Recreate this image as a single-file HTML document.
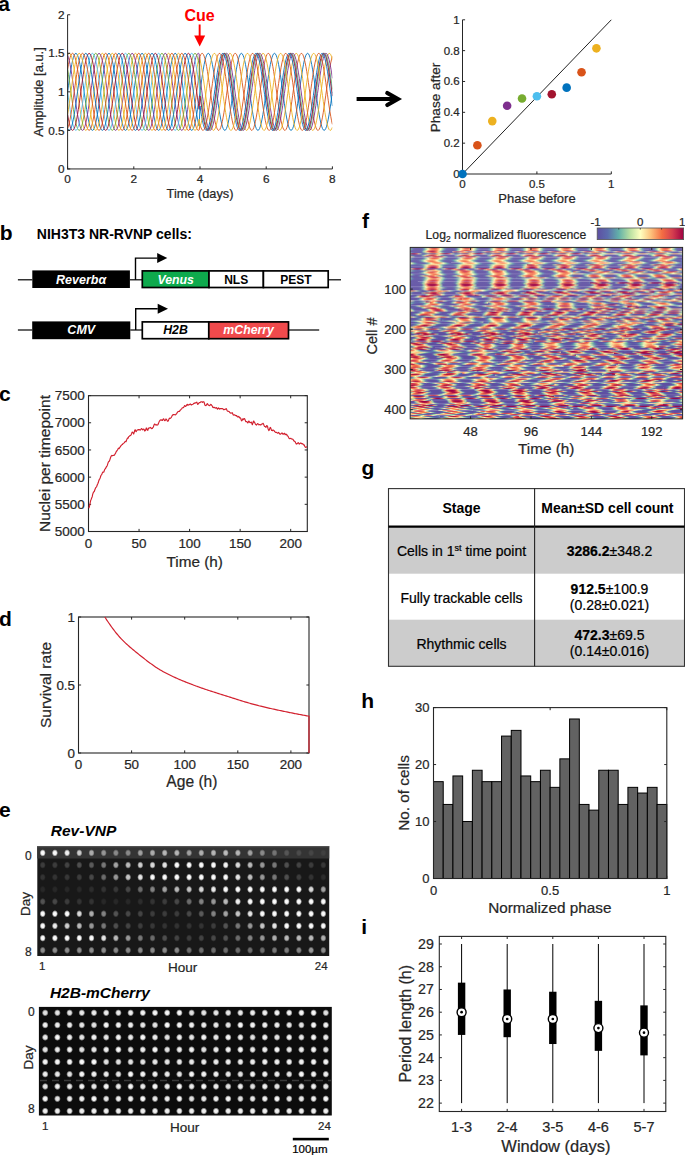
<!DOCTYPE html>
<html><head><meta charset="utf-8"><title>Figure</title>
<style>
html,body{margin:0;padding:0;background:#fff;}
body{width:685px;height:1156px;overflow:hidden;}
svg{display:block;font-family:"Liberation Sans", sans-serif;}
</style></head><body>
<svg width="685" height="1156" viewBox="0 0 685 1156" fill="#262626">
<defs>
<clipPath id="clipA"><rect x="67.4" y="0" width="265" height="175"/></clipPath>
<linearGradient id="ledge" x1="0" x2="1" y1="0" y2="0"><stop offset="0" stop-color="#c8304a" stop-opacity="0.45"/><stop offset="1" stop-color="#c8304a" stop-opacity="0"/></linearGradient>
<clipPath id="clipH"><rect x="410.2" y="247.4" width="272.4" height="171.5"/></clipPath>
<filter id="blur1" x="-50%" y="-50%" width="200%" height="200%"><feGaussianBlur stdDeviation="0.6"/></filter>
<radialGradient id="dot"><stop offset="0" stop-color="#fff"/><stop offset="0.5" stop-color="#fff" stop-opacity="0.95"/><stop offset="0.78" stop-color="#fff" stop-opacity="0.45"/><stop offset="1" stop-color="#fff" stop-opacity="0"/></radialGradient>
</defs>
<text x="-1.8" y="10.8" font-size="21" font-weight="bold" fill="#000">a</text>
<g clip-path="url(#clipA)">
<polyline points="67.6,91.85 68.43,85.82 69.25,79.94 70.08,74.35 70.91,69.19 71.74,64.59 72.56,60.66 73.39,57.5 74.22,55.19 75.05,53.77 75.88,53.3 76.7,53.77 77.53,55.19 78.36,57.5 79.18,60.66 80.01,64.59 80.84,69.19 81.67,74.35 82.49,79.94 83.32,85.82 84.15,91.85 84.98,97.88 85.8,103.76 86.63,109.35 87.46,114.51 88.29,119.11 89.11,123.04 89.94,126.2 90.77,128.51 91.6,129.93 92.42,130.4 93.25,129.93 94.08,128.51 94.91,126.2 95.73,123.04 96.56,119.11 97.39,114.51 98.22,109.35 99.04,103.76 99.87,97.88 100.7,91.85 101.53,85.82 102.35,79.94 103.18,74.35 104.01,69.19 104.84,64.59 105.66,60.66 106.49,57.5 107.32,55.19 108.15,53.77 108.97,53.3 109.8,53.77 110.63,55.19 111.46,57.5 112.28,60.66 113.11,64.59 113.94,69.19 114.77,74.35 115.59,79.94 116.42,85.82 117.25,91.85 118.08,97.88 118.91,103.76 119.73,109.35 120.56,114.51 121.39,119.11 122.22,123.04 123.04,126.2 123.87,128.51 124.7,129.93 125.53,130.4 126.35,129.93 127.18,128.51 128.01,126.2 128.84,123.04 129.66,119.11 130.49,114.51 131.32,109.35 132.14,103.76 132.97,97.88 133.8,91.85 134.63,85.82 135.45,79.94 136.28,74.35 137.11,69.19 137.94,64.59 138.76,60.66 139.59,57.5 140.42,55.19 141.25,53.77 142.07,53.3 142.9,53.77 143.73,55.19 144.56,57.5 145.38,60.66 146.21,64.59 147.04,69.19 147.87,74.35 148.69,79.94 149.52,85.82 150.35,91.85 151.18,97.88 152,103.76 152.83,109.35 153.66,114.51 154.49,119.11 155.31,123.04 156.14,126.2 156.97,128.51 157.8,129.93 158.62,130.4 159.45,129.93 160.28,128.51 161.11,126.2 161.94,123.04 162.76,119.11 163.59,114.51 164.42,109.35 165.25,103.76 166.07,97.88 166.9,91.85 167.73,85.82 168.56,79.94 169.38,74.35 170.21,69.19 171.04,64.59 171.87,60.66 172.69,57.5 173.52,55.19 174.35,53.77 175.18,53.3 176,53.77 176.83,55.19 177.66,57.5 178.49,60.66 179.31,64.59 180.14,69.19 180.97,74.35 181.8,79.94 182.62,85.82 183.45,91.85 184.28,97.88 185.1,103.76 185.93,109.35 186.76,114.51 187.59,119.11 188.41,123.04 189.24,126.2 190.07,128.51 190.9,129.93 191.72,130.4 192.55,129.93 193.38,128.51 194.21,126.2 195.03,123.04 195.86,119.11 196.69,114.51 197.52,109.35 198.34,103.76 199.17,97.88 200,91.85 200.83,85.82 201.66,79.94 202.48,74.35 203.31,69.19 204.14,64.59 204.97,60.66 205.79,57.5 206.62,55.19 207.45,53.77 208.28,53.3 209.1,53.77 209.93,55.19 210.76,57.5 211.58,60.66 212.41,64.59 213.24,69.19 214.07,74.35 214.9,79.94 215.72,85.82 216.55,91.85 217.38,97.88 218.2,103.76 219.03,109.35 219.86,114.51 220.69,119.11 221.52,123.04 222.34,126.2 223.17,128.51 224,129.93 224.82,130.4 225.65,129.93 226.48,128.51 227.31,126.2 228.13,123.04 228.96,119.11 229.79,114.51 230.62,109.35 231.44,103.76 232.27,97.88 233.1,91.85 233.93,85.82 234.75,79.94 235.58,74.35 236.41,69.19 237.24,64.59 238.07,60.66 238.89,57.5 239.72,55.19 240.55,53.77 241.38,53.3 242.2,53.77 243.03,55.19 243.86,57.5 244.69,60.66 245.51,64.59 246.34,69.19 247.17,74.35 248,79.94 248.82,85.82 249.65,91.85 250.48,97.88 251.31,103.76 252.13,109.35 252.96,114.51 253.79,119.11 254.62,123.04 255.44,126.2 256.27,128.51 257.1,129.93 257.93,130.4 258.75,129.93 259.58,128.51 260.41,126.2 261.24,123.04 262.06,119.11 262.89,114.51 263.72,109.35 264.55,103.76 265.37,97.88 266.2,91.85 267.03,85.82 267.86,79.94 268.68,74.35 269.51,69.19 270.34,64.59 271.17,60.66 271.99,57.5 272.82,55.19 273.65,53.77 274.48,53.3 275.3,53.77 276.13,55.19 276.96,57.5 277.78,60.66 278.61,64.59 279.44,69.19 280.27,74.35 281.1,79.94 281.92,85.82 282.75,91.85 283.58,97.88 284.4,103.76 285.23,109.35 286.06,114.51 286.89,119.11 287.72,123.04 288.54,126.2 289.37,128.51 290.2,129.93 291.02,130.4 291.85,129.93 292.68,128.51 293.51,126.2 294.33,123.04 295.16,119.11 295.99,114.51 296.82,109.35 297.64,103.76 298.47,97.88 299.3,91.85 300.13,85.82 300.96,79.94 301.78,74.35 302.61,69.19 303.44,64.59 304.26,60.66 305.09,57.5 305.92,55.19 306.75,53.77 307.58,53.3 308.4,53.77 309.23,55.19 310.06,57.5 310.88,60.66 311.71,64.59 312.54,69.19 313.37,74.35 314.2,79.94 315.02,85.82 315.85,91.85 316.68,97.88 317.5,103.76 318.33,109.35 319.16,114.51 319.99,119.11 320.82,123.04 321.64,126.2 322.47,128.51 323.3,129.93 324.12,130.4 324.95,129.93 325.78,128.51 326.61,126.2 327.43,123.04 328.26,119.11 329.09,114.51 329.92,109.35 330.75,103.76 331.57,97.88 332.4,91.85" fill="none" stroke="#0072BD" stroke-width="0.9" stroke-linejoin="round"/>
<polyline points="67.6,69.19 68.43,64.59 69.25,60.66 70.08,57.5 70.91,55.19 71.74,53.77 72.56,53.3 73.39,53.77 74.22,55.19 75.05,57.5 75.88,60.66 76.7,64.59 77.53,69.19 78.36,74.35 79.18,79.94 80.01,85.82 80.84,91.85 81.67,97.88 82.49,103.76 83.32,109.35 84.15,114.51 84.98,119.11 85.8,123.04 86.63,126.2 87.46,128.51 88.29,129.93 89.11,130.4 89.94,129.93 90.77,128.51 91.6,126.2 92.42,123.04 93.25,119.11 94.08,114.51 94.91,109.35 95.73,103.76 96.56,97.88 97.39,91.85 98.22,85.82 99.04,79.94 99.87,74.35 100.7,69.19 101.53,64.59 102.35,60.66 103.18,57.5 104.01,55.19 104.84,53.77 105.66,53.3 106.49,53.77 107.32,55.19 108.15,57.5 108.97,60.66 109.8,64.59 110.63,69.19 111.46,74.35 112.28,79.94 113.11,85.82 113.94,91.85 114.77,97.88 115.59,103.76 116.42,109.35 117.25,114.51 118.08,119.11 118.91,123.04 119.73,126.2 120.56,128.51 121.39,129.93 122.22,130.4 123.04,129.93 123.87,128.51 124.7,126.2 125.53,123.04 126.35,119.11 127.18,114.51 128.01,109.35 128.84,103.76 129.66,97.88 130.49,91.85 131.32,85.82 132.14,79.94 132.97,74.35 133.8,69.19 134.63,64.59 135.45,60.66 136.28,57.5 137.11,55.19 137.94,53.77 138.76,53.3 139.59,53.77 140.42,55.19 141.25,57.5 142.07,60.66 142.9,64.59 143.73,69.19 144.56,74.35 145.38,79.94 146.21,85.82 147.04,91.85 147.87,97.88 148.69,103.76 149.52,109.35 150.35,114.51 151.18,119.11 152,123.04 152.83,126.2 153.66,128.51 154.49,129.93 155.31,130.4 156.14,129.93 156.97,128.51 157.8,126.2 158.62,123.04 159.45,119.11 160.28,114.51 161.11,109.35 161.94,103.76 162.76,97.88 163.59,91.85 164.42,85.82 165.25,79.94 166.07,74.35 166.9,69.19 167.73,64.59 168.56,60.66 169.38,57.5 170.21,55.19 171.04,53.77 171.87,53.3 172.69,53.77 173.52,55.19 174.35,57.5 175.18,60.66 176,64.59 176.83,69.19 177.66,74.35 178.49,79.94 179.31,85.82 180.14,91.85 180.97,97.88 181.8,103.76 182.62,109.35 183.45,114.51 184.28,119.11 185.1,123.04 185.93,126.2 186.76,128.51 187.59,129.93 188.41,130.4 189.24,129.93 190.07,128.51 190.9,126.2 191.72,123.04 192.55,119.11 193.38,114.51 194.21,109.35 195.03,103.76 195.86,97.88 196.69,91.85 197.52,85.82 198.34,79.94 199.17,74.35 200,56.38 200.83,54.45 201.66,53.45 202.48,53.39 203.31,54.28 204.14,56.1 204.97,58.79 205.79,62.3 206.62,66.54 207.45,71.4 208.28,76.76 209.1,82.5 209.93,88.46 210.76,94.51 211.58,100.5 212.41,106.27 213.24,111.68 214.07,116.61 214.9,120.93 215.72,124.53 216.55,127.32 217.38,129.25 218.2,130.25 219.03,130.31 219.86,129.42 220.69,127.6 221.52,124.91 222.34,121.4 223.17,117.16 224,112.3 224.82,106.94 225.65,101.2 226.48,95.24 227.31,89.19 228.13,83.2 228.96,77.43 229.79,72.02 230.62,67.09 231.44,62.77 232.27,59.17 233.1,56.38 233.93,54.45 234.75,53.45 235.58,53.39 236.41,54.28 237.24,56.1 238.07,58.79 238.89,62.3 239.72,66.54 240.55,71.4 241.38,76.76 242.2,82.5 243.03,88.46 243.86,94.51 244.69,100.5 245.51,106.27 246.34,111.68 247.17,116.61 248,120.93 248.82,124.53 249.65,127.32 250.48,129.25 251.31,130.25 252.13,130.31 252.96,129.42 253.79,127.6 254.62,124.91 255.44,121.4 256.27,117.16 257.1,112.3 257.93,106.94 258.75,101.2 259.58,95.24 260.41,89.19 261.24,83.2 262.06,77.43 262.89,72.02 263.72,67.09 264.55,62.77 265.37,59.17 266.2,56.38 267.03,54.45 267.86,53.45 268.68,53.39 269.51,54.28 270.34,56.1 271.17,58.79 271.99,62.3 272.82,66.54 273.65,71.4 274.48,76.76 275.3,82.5 276.13,88.46 276.96,94.51 277.78,100.5 278.61,106.27 279.44,111.68 280.27,116.61 281.1,120.93 281.92,124.53 282.75,127.32 283.58,129.25 284.4,130.25 285.23,130.31 286.06,129.42 286.89,127.6 287.72,124.91 288.54,121.4 289.37,117.16 290.2,112.3 291.02,106.94 291.85,101.2 292.68,95.24 293.51,89.19 294.33,83.2 295.16,77.43 295.99,72.02 296.82,67.09 297.64,62.77 298.47,59.17 299.3,56.38 300.13,54.45 300.96,53.45 301.78,53.39 302.61,54.28 303.44,56.1 304.26,58.79 305.09,62.3 305.92,66.54 306.75,71.4 307.58,76.76 308.4,82.5 309.23,88.46 310.06,94.51 310.88,100.5 311.71,106.27 312.54,111.68 313.37,116.61 314.2,120.93 315.02,124.53 315.85,127.32 316.68,129.25 317.5,130.25 318.33,130.31 319.16,129.42 319.99,127.6 320.82,124.91 321.64,121.4 322.47,117.16 323.3,112.3 324.12,106.94 324.95,101.2 325.78,95.24 326.61,89.19 327.43,83.2 328.26,77.43 329.09,72.02 329.92,67.09 330.75,62.77 331.57,59.17 332.4,56.38" fill="none" stroke="#D95319" stroke-width="0.9" stroke-linejoin="round"/>
<polyline points="67.6,55.19 68.43,53.77 69.25,53.3 70.08,53.77 70.91,55.19 71.74,57.5 72.56,60.66 73.39,64.59 74.22,69.19 75.05,74.35 75.88,79.94 76.7,85.82 77.53,91.85 78.36,97.88 79.18,103.76 80.01,109.35 80.84,114.51 81.67,119.11 82.49,123.04 83.32,126.2 84.15,128.51 84.98,129.93 85.8,130.4 86.63,129.93 87.46,128.51 88.29,126.2 89.11,123.04 89.94,119.11 90.77,114.51 91.6,109.35 92.42,103.76 93.25,97.88 94.08,91.85 94.91,85.82 95.73,79.94 96.56,74.35 97.39,69.19 98.22,64.59 99.04,60.66 99.87,57.5 100.7,55.19 101.53,53.77 102.35,53.3 103.18,53.77 104.01,55.19 104.84,57.5 105.66,60.66 106.49,64.59 107.32,69.19 108.15,74.35 108.97,79.94 109.8,85.82 110.63,91.85 111.46,97.88 112.28,103.76 113.11,109.35 113.94,114.51 114.77,119.11 115.59,123.04 116.42,126.2 117.25,128.51 118.08,129.93 118.91,130.4 119.73,129.93 120.56,128.51 121.39,126.2 122.22,123.04 123.04,119.11 123.87,114.51 124.7,109.35 125.53,103.76 126.35,97.88 127.18,91.85 128.01,85.82 128.84,79.94 129.66,74.35 130.49,69.19 131.32,64.59 132.14,60.66 132.97,57.5 133.8,55.19 134.63,53.77 135.45,53.3 136.28,53.77 137.11,55.19 137.94,57.5 138.76,60.66 139.59,64.59 140.42,69.19 141.25,74.35 142.07,79.94 142.9,85.82 143.73,91.85 144.56,97.88 145.38,103.76 146.21,109.35 147.04,114.51 147.87,119.11 148.69,123.04 149.52,126.2 150.35,128.51 151.18,129.93 152,130.4 152.83,129.93 153.66,128.51 154.49,126.2 155.31,123.04 156.14,119.11 156.97,114.51 157.8,109.35 158.62,103.76 159.45,97.88 160.28,91.85 161.11,85.82 161.94,79.94 162.76,74.35 163.59,69.19 164.42,64.59 165.25,60.66 166.07,57.5 166.9,55.19 167.73,53.77 168.56,53.3 169.38,53.77 170.21,55.19 171.04,57.5 171.87,60.66 172.69,64.59 173.52,69.19 174.35,74.35 175.18,79.94 176,85.82 176.83,91.85 177.66,97.88 178.49,103.76 179.31,109.35 180.14,114.51 180.97,119.11 181.8,123.04 182.62,126.2 183.45,128.51 184.28,129.93 185.1,130.4 185.93,129.93 186.76,128.51 187.59,126.2 188.41,123.04 189.24,119.11 190.07,114.51 190.9,109.35 191.72,103.76 192.55,97.88 193.38,91.85 194.21,85.82 195.03,79.94 195.86,74.35 196.69,69.19 197.52,64.59 198.34,60.66 199.17,57.5 200,59.7 200.83,63.42 201.66,67.84 202.48,72.86 203.31,78.34 204.14,84.15 204.97,90.16 205.79,96.2 206.62,102.14 207.45,107.82 208.28,113.12 209.1,117.88 209.93,122.01 210.76,125.4 211.58,127.95 212.41,129.62 213.24,130.36 214.07,130.15 214.9,129 215.72,126.93 216.55,124 217.38,120.28 218.2,115.86 219.03,110.84 219.86,105.36 220.69,99.55 221.52,93.54 222.34,87.5 223.17,81.56 224,75.88 224.82,70.58 225.65,65.82 226.48,61.69 227.31,58.3 228.13,55.75 228.96,54.08 229.79,53.34 230.62,53.55 231.44,54.7 232.27,56.77 233.1,59.7 233.93,63.42 234.75,67.84 235.58,72.86 236.41,78.34 237.24,84.15 238.07,90.16 238.89,96.2 239.72,102.14 240.55,107.82 241.38,113.12 242.2,117.88 243.03,122.01 243.86,125.4 244.69,127.95 245.51,129.62 246.34,130.36 247.17,130.15 248,129 248.82,126.93 249.65,124 250.48,120.28 251.31,115.86 252.13,110.84 252.96,105.36 253.79,99.55 254.62,93.54 255.44,87.5 256.27,81.56 257.1,75.88 257.93,70.58 258.75,65.82 259.58,61.69 260.41,58.3 261.24,55.75 262.06,54.08 262.89,53.34 263.72,53.55 264.55,54.7 265.37,56.77 266.2,59.7 267.03,63.42 267.86,67.84 268.68,72.86 269.51,78.34 270.34,84.15 271.17,90.16 271.99,96.2 272.82,102.14 273.65,107.82 274.48,113.12 275.3,117.88 276.13,122.01 276.96,125.4 277.78,127.95 278.61,129.62 279.44,130.36 280.27,130.15 281.1,129 281.92,126.93 282.75,124 283.58,120.28 284.4,115.86 285.23,110.84 286.06,105.36 286.89,99.55 287.72,93.54 288.54,87.5 289.37,81.56 290.2,75.88 291.02,70.58 291.85,65.82 292.68,61.69 293.51,58.3 294.33,55.75 295.16,54.08 295.99,53.34 296.82,53.55 297.64,54.7 298.47,56.77 299.3,59.7 300.13,63.42 300.96,67.84 301.78,72.86 302.61,78.34 303.44,84.15 304.26,90.16 305.09,96.2 305.92,102.14 306.75,107.82 307.58,113.12 308.4,117.88 309.23,122.01 310.06,125.4 310.88,127.95 311.71,129.62 312.54,130.36 313.37,130.15 314.2,129 315.02,126.93 315.85,124 316.68,120.28 317.5,115.86 318.33,110.84 319.16,105.36 319.99,99.55 320.82,93.54 321.64,87.5 322.47,81.56 323.3,75.88 324.12,70.58 324.95,65.82 325.78,61.69 326.61,58.3 327.43,55.75 328.26,54.08 329.09,53.34 329.92,53.55 330.75,54.7 331.57,56.77 332.4,59.7" fill="none" stroke="#EDB120" stroke-width="0.9" stroke-linejoin="round"/>
<polyline points="67.6,55.19 68.43,57.5 69.25,60.66 70.08,64.59 70.91,69.19 71.74,74.35 72.56,79.94 73.39,85.82 74.22,91.85 75.05,97.88 75.88,103.76 76.7,109.35 77.53,114.51 78.36,119.11 79.18,123.04 80.01,126.2 80.84,128.51 81.67,129.93 82.49,130.4 83.32,129.93 84.15,128.51 84.98,126.2 85.8,123.04 86.63,119.11 87.46,114.51 88.29,109.35 89.11,103.76 89.94,97.88 90.77,91.85 91.6,85.82 92.42,79.94 93.25,74.35 94.08,69.19 94.91,64.59 95.73,60.66 96.56,57.5 97.39,55.19 98.22,53.77 99.04,53.3 99.87,53.77 100.7,55.19 101.53,57.5 102.35,60.66 103.18,64.59 104.01,69.19 104.84,74.35 105.66,79.94 106.49,85.82 107.32,91.85 108.15,97.88 108.97,103.76 109.8,109.35 110.63,114.51 111.46,119.11 112.28,123.04 113.11,126.2 113.94,128.51 114.77,129.93 115.59,130.4 116.42,129.93 117.25,128.51 118.08,126.2 118.91,123.04 119.73,119.11 120.56,114.51 121.39,109.35 122.22,103.76 123.04,97.88 123.87,91.85 124.7,85.82 125.53,79.94 126.35,74.35 127.18,69.19 128.01,64.59 128.84,60.66 129.66,57.5 130.49,55.19 131.32,53.77 132.14,53.3 132.97,53.77 133.8,55.19 134.63,57.5 135.45,60.66 136.28,64.59 137.11,69.19 137.94,74.35 138.76,79.94 139.59,85.82 140.42,91.85 141.25,97.88 142.07,103.76 142.9,109.35 143.73,114.51 144.56,119.11 145.38,123.04 146.21,126.2 147.04,128.51 147.87,129.93 148.69,130.4 149.52,129.93 150.35,128.51 151.18,126.2 152,123.04 152.83,119.11 153.66,114.51 154.49,109.35 155.31,103.76 156.14,97.88 156.97,91.85 157.8,85.82 158.62,79.94 159.45,74.35 160.28,69.19 161.11,64.59 161.94,60.66 162.76,57.5 163.59,55.19 164.42,53.77 165.25,53.3 166.07,53.77 166.9,55.19 167.73,57.5 168.56,60.66 169.38,64.59 170.21,69.19 171.04,74.35 171.87,79.94 172.69,85.82 173.52,91.85 174.35,97.88 175.18,103.76 176,109.35 176.83,114.51 177.66,119.11 178.49,123.04 179.31,126.2 180.14,128.51 180.97,129.93 181.8,130.4 182.62,129.93 183.45,128.51 184.28,126.2 185.1,123.04 185.93,119.11 186.76,114.51 187.59,109.35 188.41,103.76 189.24,97.88 190.07,91.85 190.9,85.82 191.72,79.94 192.55,74.35 193.38,69.19 194.21,64.59 195.03,60.66 195.86,57.5 196.69,55.19 197.52,53.77 198.34,53.3 199.17,53.77 200,78.34 200.83,84.15 201.66,90.16 202.48,96.2 203.31,102.14 204.14,107.82 204.97,113.12 205.79,117.88 206.62,122.01 207.45,125.4 208.28,127.95 209.1,129.62 209.93,130.36 210.76,130.15 211.58,129 212.41,126.93 213.24,124 214.07,120.28 214.9,115.86 215.72,110.84 216.55,105.36 217.38,99.55 218.2,93.54 219.03,87.5 219.86,81.56 220.69,75.88 221.52,70.58 222.34,65.82 223.17,61.69 224,58.3 224.82,55.75 225.65,54.08 226.48,53.34 227.31,53.55 228.13,54.7 228.96,56.77 229.79,59.7 230.62,63.42 231.44,67.84 232.27,72.86 233.1,78.34 233.93,84.15 234.75,90.16 235.58,96.2 236.41,102.14 237.24,107.82 238.07,113.12 238.89,117.88 239.72,122.01 240.55,125.4 241.38,127.95 242.2,129.62 243.03,130.36 243.86,130.15 244.69,129 245.51,126.93 246.34,124 247.17,120.28 248,115.86 248.82,110.84 249.65,105.36 250.48,99.55 251.31,93.54 252.13,87.5 252.96,81.56 253.79,75.88 254.62,70.58 255.44,65.82 256.27,61.69 257.1,58.3 257.93,55.75 258.75,54.08 259.58,53.34 260.41,53.55 261.24,54.7 262.06,56.77 262.89,59.7 263.72,63.42 264.55,67.84 265.37,72.86 266.2,78.34 267.03,84.15 267.86,90.16 268.68,96.2 269.51,102.14 270.34,107.82 271.17,113.12 271.99,117.88 272.82,122.01 273.65,125.4 274.48,127.95 275.3,129.62 276.13,130.36 276.96,130.15 277.78,129 278.61,126.93 279.44,124 280.27,120.28 281.1,115.86 281.92,110.84 282.75,105.36 283.58,99.55 284.4,93.54 285.23,87.5 286.06,81.56 286.89,75.88 287.72,70.58 288.54,65.82 289.37,61.69 290.2,58.3 291.02,55.75 291.85,54.08 292.68,53.34 293.51,53.55 294.33,54.7 295.16,56.77 295.99,59.7 296.82,63.42 297.64,67.84 298.47,72.86 299.3,78.34 300.13,84.15 300.96,90.16 301.78,96.2 302.61,102.14 303.44,107.82 304.26,113.12 305.09,117.88 305.92,122.01 306.75,125.4 307.58,127.95 308.4,129.62 309.23,130.36 310.06,130.15 310.88,129 311.71,126.93 312.54,124 313.37,120.28 314.2,115.86 315.02,110.84 315.85,105.36 316.68,99.55 317.5,93.54 318.33,87.5 319.16,81.56 319.99,75.88 320.82,70.58 321.64,65.82 322.47,61.69 323.3,58.3 324.12,55.75 324.95,54.08 325.78,53.34 326.61,53.55 327.43,54.7 328.26,56.77 329.09,59.7 329.92,63.42 330.75,67.84 331.57,72.86 332.4,78.34" fill="none" stroke="#7E2F8E" stroke-width="0.9" stroke-linejoin="round"/>
<polyline points="67.6,69.19 68.43,74.35 69.25,79.94 70.08,85.82 70.91,91.85 71.74,97.88 72.56,103.76 73.39,109.35 74.22,114.51 75.05,119.11 75.88,123.04 76.7,126.2 77.53,128.51 78.36,129.93 79.18,130.4 80.01,129.93 80.84,128.51 81.67,126.2 82.49,123.04 83.32,119.11 84.15,114.51 84.98,109.35 85.8,103.76 86.63,97.88 87.46,91.85 88.29,85.82 89.11,79.94 89.94,74.35 90.77,69.19 91.6,64.59 92.42,60.66 93.25,57.5 94.08,55.19 94.91,53.77 95.73,53.3 96.56,53.77 97.39,55.19 98.22,57.5 99.04,60.66 99.87,64.59 100.7,69.19 101.53,74.35 102.35,79.94 103.18,85.82 104.01,91.85 104.84,97.88 105.66,103.76 106.49,109.35 107.32,114.51 108.15,119.11 108.97,123.04 109.8,126.2 110.63,128.51 111.46,129.93 112.28,130.4 113.11,129.93 113.94,128.51 114.77,126.2 115.59,123.04 116.42,119.11 117.25,114.51 118.08,109.35 118.91,103.76 119.73,97.88 120.56,91.85 121.39,85.82 122.22,79.94 123.04,74.35 123.87,69.19 124.7,64.59 125.53,60.66 126.35,57.5 127.18,55.19 128.01,53.77 128.84,53.3 129.66,53.77 130.49,55.19 131.32,57.5 132.14,60.66 132.97,64.59 133.8,69.19 134.63,74.35 135.45,79.94 136.28,85.82 137.11,91.85 137.94,97.88 138.76,103.76 139.59,109.35 140.42,114.51 141.25,119.11 142.07,123.04 142.9,126.2 143.73,128.51 144.56,129.93 145.38,130.4 146.21,129.93 147.04,128.51 147.87,126.2 148.69,123.04 149.52,119.11 150.35,114.51 151.18,109.35 152,103.76 152.83,97.88 153.66,91.85 154.49,85.82 155.31,79.94 156.14,74.35 156.97,69.19 157.8,64.59 158.62,60.66 159.45,57.5 160.28,55.19 161.11,53.77 161.94,53.3 162.76,53.77 163.59,55.19 164.42,57.5 165.25,60.66 166.07,64.59 166.9,69.19 167.73,74.35 168.56,79.94 169.38,85.82 170.21,91.85 171.04,97.88 171.87,103.76 172.69,109.35 173.52,114.51 174.35,119.11 175.18,123.04 176,126.2 176.83,128.51 177.66,129.93 178.49,130.4 179.31,129.93 180.14,128.51 180.97,126.2 181.8,123.04 182.62,119.11 183.45,114.51 184.28,109.35 185.1,103.76 185.93,97.88 186.76,91.85 187.59,85.82 188.41,79.94 189.24,74.35 190.07,69.19 190.9,64.59 191.72,60.66 192.55,57.5 193.38,55.19 194.21,53.77 195.03,53.3 195.86,53.77 196.69,55.19 197.52,57.5 198.34,60.66 199.17,64.59 200,89.43 200.83,95.48 201.66,101.44 202.48,107.16 203.31,112.51 204.14,117.34 204.97,121.55 205.79,125.03 206.62,127.69 207.45,129.47 208.28,130.32 209.1,130.23 209.93,129.19 210.76,127.23 211.58,124.4 212.41,120.77 213.24,116.42 214.07,111.47 214.9,106.04 215.72,100.26 216.55,94.27 217.38,88.22 218.2,82.26 219.03,76.54 219.86,71.19 220.69,66.36 221.52,62.15 222.34,58.67 223.17,56.01 224,54.23 224.82,53.38 225.65,53.47 226.48,54.51 227.31,56.47 228.13,59.3 228.96,62.93 229.79,67.28 230.62,72.23 231.44,77.66 232.27,83.44 233.1,89.43 233.93,95.48 234.75,101.44 235.58,107.16 236.41,112.51 237.24,117.34 238.07,121.55 238.89,125.03 239.72,127.69 240.55,129.47 241.38,130.32 242.2,130.23 243.03,129.19 243.86,127.23 244.69,124.4 245.51,120.77 246.34,116.42 247.17,111.47 248,106.04 248.82,100.26 249.65,94.27 250.48,88.22 251.31,82.26 252.13,76.54 252.96,71.19 253.79,66.36 254.62,62.15 255.44,58.67 256.27,56.01 257.1,54.23 257.93,53.38 258.75,53.47 259.58,54.51 260.41,56.47 261.24,59.3 262.06,62.93 262.89,67.28 263.72,72.23 264.55,77.66 265.37,83.44 266.2,89.43 267.03,95.48 267.86,101.44 268.68,107.16 269.51,112.51 270.34,117.34 271.17,121.55 271.99,125.03 272.82,127.69 273.65,129.47 274.48,130.32 275.3,130.23 276.13,129.19 276.96,127.23 277.78,124.4 278.61,120.77 279.44,116.42 280.27,111.47 281.1,106.04 281.92,100.26 282.75,94.27 283.58,88.22 284.4,82.26 285.23,76.54 286.06,71.19 286.89,66.36 287.72,62.15 288.54,58.67 289.37,56.01 290.2,54.23 291.02,53.38 291.85,53.47 292.68,54.51 293.51,56.47 294.33,59.3 295.16,62.93 295.99,67.28 296.82,72.23 297.64,77.66 298.47,83.44 299.3,89.43 300.13,95.48 300.96,101.44 301.78,107.16 302.61,112.51 303.44,117.34 304.26,121.55 305.09,125.03 305.92,127.69 306.75,129.47 307.58,130.32 308.4,130.23 309.23,129.19 310.06,127.23 310.88,124.4 311.71,120.77 312.54,116.42 313.37,111.47 314.2,106.04 315.02,100.26 315.85,94.27 316.68,88.22 317.5,82.26 318.33,76.54 319.16,71.19 319.99,66.36 320.82,62.15 321.64,58.67 322.47,56.01 323.3,54.23 324.12,53.38 324.95,53.47 325.78,54.51 326.61,56.47 327.43,59.3 328.26,62.93 329.09,67.28 329.92,72.23 330.75,77.66 331.57,83.44 332.4,89.43" fill="none" stroke="#77AC30" stroke-width="0.9" stroke-linejoin="round"/>
<polyline points="67.6,91.85 68.43,97.88 69.25,103.76 70.08,109.35 70.91,114.51 71.74,119.11 72.56,123.04 73.39,126.2 74.22,128.51 75.05,129.93 75.88,130.4 76.7,129.93 77.53,128.51 78.36,126.2 79.18,123.04 80.01,119.11 80.84,114.51 81.67,109.35 82.49,103.76 83.32,97.88 84.15,91.85 84.98,85.82 85.8,79.94 86.63,74.35 87.46,69.19 88.29,64.59 89.11,60.66 89.94,57.5 90.77,55.19 91.6,53.77 92.42,53.3 93.25,53.77 94.08,55.19 94.91,57.5 95.73,60.66 96.56,64.59 97.39,69.19 98.22,74.35 99.04,79.94 99.87,85.82 100.7,91.85 101.53,97.88 102.35,103.76 103.18,109.35 104.01,114.51 104.84,119.11 105.66,123.04 106.49,126.2 107.32,128.51 108.15,129.93 108.97,130.4 109.8,129.93 110.63,128.51 111.46,126.2 112.28,123.04 113.11,119.11 113.94,114.51 114.77,109.35 115.59,103.76 116.42,97.88 117.25,91.85 118.08,85.82 118.91,79.94 119.73,74.35 120.56,69.19 121.39,64.59 122.22,60.66 123.04,57.5 123.87,55.19 124.7,53.77 125.53,53.3 126.35,53.77 127.18,55.19 128.01,57.5 128.84,60.66 129.66,64.59 130.49,69.19 131.32,74.35 132.14,79.94 132.97,85.82 133.8,91.85 134.63,97.88 135.45,103.76 136.28,109.35 137.11,114.51 137.94,119.11 138.76,123.04 139.59,126.2 140.42,128.51 141.25,129.93 142.07,130.4 142.9,129.93 143.73,128.51 144.56,126.2 145.38,123.04 146.21,119.11 147.04,114.51 147.87,109.35 148.69,103.76 149.52,97.88 150.35,91.85 151.18,85.82 152,79.94 152.83,74.35 153.66,69.19 154.49,64.59 155.31,60.66 156.14,57.5 156.97,55.19 157.8,53.77 158.62,53.3 159.45,53.77 160.28,55.19 161.11,57.5 161.94,60.66 162.76,64.59 163.59,69.19 164.42,74.35 165.25,79.94 166.07,85.82 166.9,91.85 167.73,97.88 168.56,103.76 169.38,109.35 170.21,114.51 171.04,119.11 171.87,123.04 172.69,126.2 173.52,128.51 174.35,129.93 175.18,130.4 176,129.93 176.83,128.51 177.66,126.2 178.49,123.04 179.31,119.11 180.14,114.51 180.97,109.35 181.8,103.76 182.62,97.88 183.45,91.85 184.28,85.82 185.1,79.94 185.93,74.35 186.76,69.19 187.59,64.59 188.41,60.66 189.24,57.5 190.07,55.19 190.9,53.77 191.72,53.3 192.55,53.77 193.38,55.19 194.21,57.5 195.03,60.66 195.86,64.59 196.69,69.19 197.52,74.35 198.34,79.94 199.17,85.82 200,92.82 200.83,98.84 201.66,104.68 202.48,110.21 203.31,115.29 204.14,119.79 204.97,123.6 205.79,126.63 206.62,128.8 207.45,130.06 208.28,130.39 209.1,129.76 209.93,128.2 210.76,125.75 211.58,122.46 212.41,118.42 213.24,113.72 214.07,108.48 214.9,102.84 215.72,96.92 216.55,90.88 217.38,84.86 218.2,79.02 219.03,73.49 219.86,68.41 220.69,63.91 221.52,60.1 222.34,57.07 223.17,54.9 224,53.64 224.82,53.31 225.65,53.94 226.48,55.5 227.31,57.95 228.13,61.24 228.96,65.28 229.79,69.98 230.62,75.22 231.44,80.86 232.27,86.78 233.1,92.82 233.93,98.84 234.75,104.68 235.58,110.21 236.41,115.29 237.24,119.79 238.07,123.6 238.89,126.63 239.72,128.8 240.55,130.06 241.38,130.39 242.2,129.76 243.03,128.2 243.86,125.75 244.69,122.46 245.51,118.42 246.34,113.72 247.17,108.48 248,102.84 248.82,96.92 249.65,90.88 250.48,84.86 251.31,79.02 252.13,73.49 252.96,68.41 253.79,63.91 254.62,60.1 255.44,57.07 256.27,54.9 257.1,53.64 257.93,53.31 258.75,53.94 259.58,55.5 260.41,57.95 261.24,61.24 262.06,65.28 262.89,69.98 263.72,75.22 264.55,80.86 265.37,86.78 266.2,92.82 267.03,98.84 267.86,104.68 268.68,110.21 269.51,115.29 270.34,119.79 271.17,123.6 271.99,126.63 272.82,128.8 273.65,130.06 274.48,130.39 275.3,129.76 276.13,128.2 276.96,125.75 277.78,122.46 278.61,118.42 279.44,113.72 280.27,108.48 281.1,102.84 281.92,96.92 282.75,90.88 283.58,84.86 284.4,79.02 285.23,73.49 286.06,68.41 286.89,63.91 287.72,60.1 288.54,57.07 289.37,54.9 290.2,53.64 291.02,53.31 291.85,53.94 292.68,55.5 293.51,57.95 294.33,61.24 295.16,65.28 295.99,69.98 296.82,75.22 297.64,80.86 298.47,86.78 299.3,92.82 300.13,98.84 300.96,104.68 301.78,110.21 302.61,115.29 303.44,119.79 304.26,123.6 305.09,126.63 305.92,128.8 306.75,130.06 307.58,130.39 308.4,129.76 309.23,128.2 310.06,125.75 310.88,122.46 311.71,118.42 312.54,113.72 313.37,108.48 314.2,102.84 315.02,96.92 315.85,90.88 316.68,84.86 317.5,79.02 318.33,73.49 319.16,68.41 319.99,63.91 320.82,60.1 321.64,57.07 322.47,54.9 323.3,53.64 324.12,53.31 324.95,53.94 325.78,55.5 326.61,57.95 327.43,61.24 328.26,65.28 329.09,69.98 329.92,75.22 330.75,80.86 331.57,86.78 332.4,92.82" fill="none" stroke="#4DBEEE" stroke-width="0.9" stroke-linejoin="round"/>
<polyline points="67.6,114.51 68.43,119.11 69.25,123.04 70.08,126.2 70.91,128.51 71.74,129.93 72.56,130.4 73.39,129.93 74.22,128.51 75.05,126.2 75.88,123.04 76.7,119.11 77.53,114.51 78.36,109.35 79.18,103.76 80.01,97.88 80.84,91.85 81.67,85.82 82.49,79.94 83.32,74.35 84.15,69.19 84.98,64.59 85.8,60.66 86.63,57.5 87.46,55.19 88.29,53.77 89.11,53.3 89.94,53.77 90.77,55.19 91.6,57.5 92.42,60.66 93.25,64.59 94.08,69.19 94.91,74.35 95.73,79.94 96.56,85.82 97.39,91.85 98.22,97.88 99.04,103.76 99.87,109.35 100.7,114.51 101.53,119.11 102.35,123.04 103.18,126.2 104.01,128.51 104.84,129.93 105.66,130.4 106.49,129.93 107.32,128.51 108.15,126.2 108.97,123.04 109.8,119.11 110.63,114.51 111.46,109.35 112.28,103.76 113.11,97.88 113.94,91.85 114.77,85.82 115.59,79.94 116.42,74.35 117.25,69.19 118.08,64.59 118.91,60.66 119.73,57.5 120.56,55.19 121.39,53.77 122.22,53.3 123.04,53.77 123.87,55.19 124.7,57.5 125.53,60.66 126.35,64.59 127.18,69.19 128.01,74.35 128.84,79.94 129.66,85.82 130.49,91.85 131.32,97.88 132.14,103.76 132.97,109.35 133.8,114.51 134.63,119.11 135.45,123.04 136.28,126.2 137.11,128.51 137.94,129.93 138.76,130.4 139.59,129.93 140.42,128.51 141.25,126.2 142.07,123.04 142.9,119.11 143.73,114.51 144.56,109.35 145.38,103.76 146.21,97.88 147.04,91.85 147.87,85.82 148.69,79.94 149.52,74.35 150.35,69.19 151.18,64.59 152,60.66 152.83,57.5 153.66,55.19 154.49,53.77 155.31,53.3 156.14,53.77 156.97,55.19 157.8,57.5 158.62,60.66 159.45,64.59 160.28,69.19 161.11,74.35 161.94,79.94 162.76,85.82 163.59,91.85 164.42,97.88 165.25,103.76 166.07,109.35 166.9,114.51 167.73,119.11 168.56,123.04 169.38,126.2 170.21,128.51 171.04,129.93 171.87,130.4 172.69,129.93 173.52,128.51 174.35,126.2 175.18,123.04 176,119.11 176.83,114.51 177.66,109.35 178.49,103.76 179.31,97.88 180.14,91.85 180.97,85.82 181.8,79.94 182.62,74.35 183.45,69.19 184.28,64.59 185.1,60.66 185.93,57.5 186.76,55.19 187.59,53.77 188.41,53.3 189.24,53.77 190.07,55.19 190.9,57.5 191.72,60.66 192.55,64.59 193.38,69.19 194.21,74.35 195.03,79.94 195.86,85.82 196.69,91.85 197.52,97.88 198.34,103.76 199.17,109.35 200,95.96 200.83,101.91 201.66,107.6 202.48,112.91 203.31,117.7 204.14,121.86 204.97,125.28 205.79,127.87 206.62,129.57 207.45,130.35 208.28,130.18 209.1,129.07 209.93,127.03 210.76,124.14 211.58,120.44 212.41,116.05 213.24,111.06 214.07,105.59 214.9,99.79 215.72,93.79 216.55,87.74 217.38,81.79 218.2,76.1 219.03,70.79 219.86,66 220.69,61.84 221.52,58.42 222.34,55.83 223.17,54.13 224,53.35 224.82,53.52 225.65,54.63 226.48,56.67 227.31,59.56 228.13,63.26 228.96,67.65 229.79,72.64 230.62,78.11 231.44,83.91 232.27,89.91 233.1,95.96 233.93,101.91 234.75,107.6 235.58,112.91 236.41,117.7 237.24,121.86 238.07,125.28 238.89,127.87 239.72,129.57 240.55,130.35 241.38,130.18 242.2,129.07 243.03,127.03 243.86,124.14 244.69,120.44 245.51,116.05 246.34,111.06 247.17,105.59 248,99.79 248.82,93.79 249.65,87.74 250.48,81.79 251.31,76.1 252.13,70.79 252.96,66 253.79,61.84 254.62,58.42 255.44,55.83 256.27,54.13 257.1,53.35 257.93,53.52 258.75,54.63 259.58,56.67 260.41,59.56 261.24,63.26 262.06,67.65 262.89,72.64 263.72,78.11 264.55,83.91 265.37,89.91 266.2,95.96 267.03,101.91 267.86,107.6 268.68,112.91 269.51,117.7 270.34,121.86 271.17,125.28 271.99,127.87 272.82,129.57 273.65,130.35 274.48,130.18 275.3,129.07 276.13,127.03 276.96,124.14 277.78,120.44 278.61,116.05 279.44,111.06 280.27,105.59 281.1,99.79 281.92,93.79 282.75,87.74 283.58,81.79 284.4,76.1 285.23,70.79 286.06,66 286.89,61.84 287.72,58.42 288.54,55.83 289.37,54.13 290.2,53.35 291.02,53.52 291.85,54.63 292.68,56.67 293.51,59.56 294.33,63.26 295.16,67.65 295.99,72.64 296.82,78.11 297.64,83.91 298.47,89.91 299.3,95.96 300.13,101.91 300.96,107.6 301.78,112.91 302.61,117.7 303.44,121.86 304.26,125.28 305.09,127.87 305.92,129.57 306.75,130.35 307.58,130.18 308.4,129.07 309.23,127.03 310.06,124.14 310.88,120.44 311.71,116.05 312.54,111.06 313.37,105.59 314.2,99.79 315.02,93.79 315.85,87.74 316.68,81.79 317.5,76.1 318.33,70.79 319.16,66 319.99,61.84 320.82,58.42 321.64,55.83 322.47,54.13 323.3,53.35 324.12,53.52 324.95,54.63 325.78,56.67 326.61,59.56 327.43,63.26 328.26,67.65 329.09,72.64 329.92,78.11 330.75,83.91 331.57,89.91 332.4,95.96" fill="none" stroke="#A2142F" stroke-width="0.9" stroke-linejoin="round"/>
<polyline points="67.6,128.51 68.43,129.93 69.25,130.4 70.08,129.93 70.91,128.51 71.74,126.2 72.56,123.04 73.39,119.11 74.22,114.51 75.05,109.35 75.88,103.76 76.7,97.88 77.53,91.85 78.36,85.82 79.18,79.94 80.01,74.35 80.84,69.19 81.67,64.59 82.49,60.66 83.32,57.5 84.15,55.19 84.98,53.77 85.8,53.3 86.63,53.77 87.46,55.19 88.29,57.5 89.11,60.66 89.94,64.59 90.77,69.19 91.6,74.35 92.42,79.94 93.25,85.82 94.08,91.85 94.91,97.88 95.73,103.76 96.56,109.35 97.39,114.51 98.22,119.11 99.04,123.04 99.87,126.2 100.7,128.51 101.53,129.93 102.35,130.4 103.18,129.93 104.01,128.51 104.84,126.2 105.66,123.04 106.49,119.11 107.32,114.51 108.15,109.35 108.97,103.76 109.8,97.88 110.63,91.85 111.46,85.82 112.28,79.94 113.11,74.35 113.94,69.19 114.77,64.59 115.59,60.66 116.42,57.5 117.25,55.19 118.08,53.77 118.91,53.3 119.73,53.77 120.56,55.19 121.39,57.5 122.22,60.66 123.04,64.59 123.87,69.19 124.7,74.35 125.53,79.94 126.35,85.82 127.18,91.85 128.01,97.88 128.84,103.76 129.66,109.35 130.49,114.51 131.32,119.11 132.14,123.04 132.97,126.2 133.8,128.51 134.63,129.93 135.45,130.4 136.28,129.93 137.11,128.51 137.94,126.2 138.76,123.04 139.59,119.11 140.42,114.51 141.25,109.35 142.07,103.76 142.9,97.88 143.73,91.85 144.56,85.82 145.38,79.94 146.21,74.35 147.04,69.19 147.87,64.59 148.69,60.66 149.52,57.5 150.35,55.19 151.18,53.77 152,53.3 152.83,53.77 153.66,55.19 154.49,57.5 155.31,60.66 156.14,64.59 156.97,69.19 157.8,74.35 158.62,79.94 159.45,85.82 160.28,91.85 161.11,97.88 161.94,103.76 162.76,109.35 163.59,114.51 164.42,119.11 165.25,123.04 166.07,126.2 166.9,128.51 167.73,129.93 168.56,130.4 169.38,129.93 170.21,128.51 171.04,126.2 171.87,123.04 172.69,119.11 173.52,114.51 174.35,109.35 175.18,103.76 176,97.88 176.83,91.85 177.66,85.82 178.49,79.94 179.31,74.35 180.14,69.19 180.97,64.59 181.8,60.66 182.62,57.5 183.45,55.19 184.28,53.77 185.1,53.3 185.93,53.77 186.76,55.19 187.59,57.5 188.41,60.66 189.24,64.59 190.07,69.19 190.9,74.35 191.72,79.94 192.55,85.82 193.38,91.85 194.21,97.88 195.03,103.76 195.86,109.35 196.69,114.51 197.52,119.11 198.34,123.04 199.17,126.2 200,106.04 200.83,111.47 201.66,116.42 202.48,120.77 203.31,124.4 204.14,127.23 204.97,129.19 205.79,130.23 206.62,130.32 207.45,129.47 208.28,127.69 209.1,125.03 209.93,121.55 210.76,117.34 211.58,112.51 212.41,107.16 213.24,101.44 214.07,95.48 214.9,89.43 215.72,83.44 216.55,77.66 217.38,72.23 218.2,67.28 219.03,62.93 219.86,59.3 220.69,56.47 221.52,54.51 222.34,53.47 223.17,53.38 224,54.23 224.82,56.01 225.65,58.67 226.48,62.15 227.31,66.36 228.13,71.19 228.96,76.54 229.79,82.26 230.62,88.22 231.44,94.27 232.27,100.26 233.1,106.04 233.93,111.47 234.75,116.42 235.58,120.77 236.41,124.4 237.24,127.23 238.07,129.19 238.89,130.23 239.72,130.32 240.55,129.47 241.38,127.69 242.2,125.03 243.03,121.55 243.86,117.34 244.69,112.51 245.51,107.16 246.34,101.44 247.17,95.48 248,89.43 248.82,83.44 249.65,77.66 250.48,72.23 251.31,67.28 252.13,62.93 252.96,59.3 253.79,56.47 254.62,54.51 255.44,53.47 256.27,53.38 257.1,54.23 257.93,56.01 258.75,58.67 259.58,62.15 260.41,66.36 261.24,71.19 262.06,76.54 262.89,82.26 263.72,88.22 264.55,94.27 265.37,100.26 266.2,106.04 267.03,111.47 267.86,116.42 268.68,120.77 269.51,124.4 270.34,127.23 271.17,129.19 271.99,130.23 272.82,130.32 273.65,129.47 274.48,127.69 275.3,125.03 276.13,121.55 276.96,117.34 277.78,112.51 278.61,107.16 279.44,101.44 280.27,95.48 281.1,89.43 281.92,83.44 282.75,77.66 283.58,72.23 284.4,67.28 285.23,62.93 286.06,59.3 286.89,56.47 287.72,54.51 288.54,53.47 289.37,53.38 290.2,54.23 291.02,56.01 291.85,58.67 292.68,62.15 293.51,66.36 294.33,71.19 295.16,76.54 295.99,82.26 296.82,88.22 297.64,94.27 298.47,100.26 299.3,106.04 300.13,111.47 300.96,116.42 301.78,120.77 302.61,124.4 303.44,127.23 304.26,129.19 305.09,130.23 305.92,130.32 306.75,129.47 307.58,127.69 308.4,125.03 309.23,121.55 310.06,117.34 310.88,112.51 311.71,107.16 312.54,101.44 313.37,95.48 314.2,89.43 315.02,83.44 315.85,77.66 316.68,72.23 317.5,67.28 318.33,62.93 319.16,59.3 319.99,56.47 320.82,54.51 321.64,53.47 322.47,53.38 323.3,54.23 324.12,56.01 324.95,58.67 325.78,62.15 326.61,66.36 327.43,71.19 328.26,76.54 329.09,82.26 329.92,88.22 330.75,94.27 331.57,100.26 332.4,106.04" fill="none" stroke="#0072BD" stroke-width="0.9" stroke-linejoin="round"/>
<polyline points="67.6,128.51 68.43,126.2 69.25,123.04 70.08,119.11 70.91,114.51 71.74,109.35 72.56,103.76 73.39,97.88 74.22,91.85 75.05,85.82 75.88,79.94 76.7,74.35 77.53,69.19 78.36,64.59 79.18,60.66 80.01,57.5 80.84,55.19 81.67,53.77 82.49,53.3 83.32,53.77 84.15,55.19 84.98,57.5 85.8,60.66 86.63,64.59 87.46,69.19 88.29,74.35 89.11,79.94 89.94,85.82 90.77,91.85 91.6,97.88 92.42,103.76 93.25,109.35 94.08,114.51 94.91,119.11 95.73,123.04 96.56,126.2 97.39,128.51 98.22,129.93 99.04,130.4 99.87,129.93 100.7,128.51 101.53,126.2 102.35,123.04 103.18,119.11 104.01,114.51 104.84,109.35 105.66,103.76 106.49,97.88 107.32,91.85 108.15,85.82 108.97,79.94 109.8,74.35 110.63,69.19 111.46,64.59 112.28,60.66 113.11,57.5 113.94,55.19 114.77,53.77 115.59,53.3 116.42,53.77 117.25,55.19 118.08,57.5 118.91,60.66 119.73,64.59 120.56,69.19 121.39,74.35 122.22,79.94 123.04,85.82 123.87,91.85 124.7,97.88 125.53,103.76 126.35,109.35 127.18,114.51 128.01,119.11 128.84,123.04 129.66,126.2 130.49,128.51 131.32,129.93 132.14,130.4 132.97,129.93 133.8,128.51 134.63,126.2 135.45,123.04 136.28,119.11 137.11,114.51 137.94,109.35 138.76,103.76 139.59,97.88 140.42,91.85 141.25,85.82 142.07,79.94 142.9,74.35 143.73,69.19 144.56,64.59 145.38,60.66 146.21,57.5 147.04,55.19 147.87,53.77 148.69,53.3 149.52,53.77 150.35,55.19 151.18,57.5 152,60.66 152.83,64.59 153.66,69.19 154.49,74.35 155.31,79.94 156.14,85.82 156.97,91.85 157.8,97.88 158.62,103.76 159.45,109.35 160.28,114.51 161.11,119.11 161.94,123.04 162.76,126.2 163.59,128.51 164.42,129.93 165.25,130.4 166.07,129.93 166.9,128.51 167.73,126.2 168.56,123.04 169.38,119.11 170.21,114.51 171.04,109.35 171.87,103.76 172.69,97.88 173.52,91.85 174.35,85.82 175.18,79.94 176,74.35 176.83,69.19 177.66,64.59 178.49,60.66 179.31,57.5 180.14,55.19 180.97,53.77 181.8,53.3 182.62,53.77 183.45,55.19 184.28,57.5 185.1,60.66 185.93,64.59 186.76,69.19 187.59,74.35 188.41,79.94 189.24,85.82 190.07,91.85 190.9,97.88 191.72,103.76 192.55,109.35 193.38,114.51 194.21,119.11 195.03,123.04 195.86,126.2 196.69,128.51 197.52,129.93 198.34,130.4 199.17,129.93 200,124.4 200.83,127.23 201.66,129.19 202.48,130.23 203.31,130.32 204.14,129.47 204.97,127.69 205.79,125.03 206.62,121.55 207.45,117.34 208.28,112.51 209.1,107.16 209.93,101.44 210.76,95.48 211.58,89.43 212.41,83.44 213.24,77.66 214.07,72.23 214.9,67.28 215.72,62.93 216.55,59.3 217.38,56.47 218.2,54.51 219.03,53.47 219.86,53.38 220.69,54.23 221.52,56.01 222.34,58.67 223.17,62.15 224,66.36 224.82,71.19 225.65,76.54 226.48,82.26 227.31,88.22 228.13,94.27 228.96,100.26 229.79,106.04 230.62,111.47 231.44,116.42 232.27,120.77 233.1,124.4 233.93,127.23 234.75,129.19 235.58,130.23 236.41,130.32 237.24,129.47 238.07,127.69 238.89,125.03 239.72,121.55 240.55,117.34 241.38,112.51 242.2,107.16 243.03,101.44 243.86,95.48 244.69,89.43 245.51,83.44 246.34,77.66 247.17,72.23 248,67.28 248.82,62.93 249.65,59.3 250.48,56.47 251.31,54.51 252.13,53.47 252.96,53.38 253.79,54.23 254.62,56.01 255.44,58.67 256.27,62.15 257.1,66.36 257.93,71.19 258.75,76.54 259.58,82.26 260.41,88.22 261.24,94.27 262.06,100.26 262.89,106.04 263.72,111.47 264.55,116.42 265.37,120.77 266.2,124.4 267.03,127.23 267.86,129.19 268.68,130.23 269.51,130.32 270.34,129.47 271.17,127.69 271.99,125.03 272.82,121.55 273.65,117.34 274.48,112.51 275.3,107.16 276.13,101.44 276.96,95.48 277.78,89.43 278.61,83.44 279.44,77.66 280.27,72.23 281.1,67.28 281.92,62.93 282.75,59.3 283.58,56.47 284.4,54.51 285.23,53.47 286.06,53.38 286.89,54.23 287.72,56.01 288.54,58.67 289.37,62.15 290.2,66.36 291.02,71.19 291.85,76.54 292.68,82.26 293.51,88.22 294.33,94.27 295.16,100.26 295.99,106.04 296.82,111.47 297.64,116.42 298.47,120.77 299.3,124.4 300.13,127.23 300.96,129.19 301.78,130.23 302.61,130.32 303.44,129.47 304.26,127.69 305.09,125.03 305.92,121.55 306.75,117.34 307.58,112.51 308.4,107.16 309.23,101.44 310.06,95.48 310.88,89.43 311.71,83.44 312.54,77.66 313.37,72.23 314.2,67.28 315.02,62.93 315.85,59.3 316.68,56.47 317.5,54.51 318.33,53.47 319.16,53.38 319.99,54.23 320.82,56.01 321.64,58.67 322.47,62.15 323.3,66.36 324.12,71.19 324.95,76.54 325.78,82.26 326.61,88.22 327.43,94.27 328.26,100.26 329.09,106.04 329.92,111.47 330.75,116.42 331.57,120.77 332.4,124.4" fill="none" stroke="#D95319" stroke-width="0.9" stroke-linejoin="round"/>
<polyline points="67.6,114.51 68.43,109.35 69.25,103.76 70.08,97.88 70.91,91.85 71.74,85.82 72.56,79.94 73.39,74.35 74.22,69.19 75.05,64.59 75.88,60.66 76.7,57.5 77.53,55.19 78.36,53.77 79.18,53.3 80.01,53.77 80.84,55.19 81.67,57.5 82.49,60.66 83.32,64.59 84.15,69.19 84.98,74.35 85.8,79.94 86.63,85.82 87.46,91.85 88.29,97.88 89.11,103.76 89.94,109.35 90.77,114.51 91.6,119.11 92.42,123.04 93.25,126.2 94.08,128.51 94.91,129.93 95.73,130.4 96.56,129.93 97.39,128.51 98.22,126.2 99.04,123.04 99.87,119.11 100.7,114.51 101.53,109.35 102.35,103.76 103.18,97.88 104.01,91.85 104.84,85.82 105.66,79.94 106.49,74.35 107.32,69.19 108.15,64.59 108.97,60.66 109.8,57.5 110.63,55.19 111.46,53.77 112.28,53.3 113.11,53.77 113.94,55.19 114.77,57.5 115.59,60.66 116.42,64.59 117.25,69.19 118.08,74.35 118.91,79.94 119.73,85.82 120.56,91.85 121.39,97.88 122.22,103.76 123.04,109.35 123.87,114.51 124.7,119.11 125.53,123.04 126.35,126.2 127.18,128.51 128.01,129.93 128.84,130.4 129.66,129.93 130.49,128.51 131.32,126.2 132.14,123.04 132.97,119.11 133.8,114.51 134.63,109.35 135.45,103.76 136.28,97.88 137.11,91.85 137.94,85.82 138.76,79.94 139.59,74.35 140.42,69.19 141.25,64.59 142.07,60.66 142.9,57.5 143.73,55.19 144.56,53.77 145.38,53.3 146.21,53.77 147.04,55.19 147.87,57.5 148.69,60.66 149.52,64.59 150.35,69.19 151.18,74.35 152,79.94 152.83,85.82 153.66,91.85 154.49,97.88 155.31,103.76 156.14,109.35 156.97,114.51 157.8,119.11 158.62,123.04 159.45,126.2 160.28,128.51 161.11,129.93 161.94,130.4 162.76,129.93 163.59,128.51 164.42,126.2 165.25,123.04 166.07,119.11 166.9,114.51 167.73,109.35 168.56,103.76 169.38,97.88 170.21,91.85 171.04,85.82 171.87,79.94 172.69,74.35 173.52,69.19 174.35,64.59 175.18,60.66 176,57.5 176.83,55.19 177.66,53.77 178.49,53.3 179.31,53.77 180.14,55.19 180.97,57.5 181.8,60.66 182.62,64.59 183.45,69.19 184.28,74.35 185.1,79.94 185.93,85.82 186.76,91.85 187.59,97.88 188.41,103.76 189.24,109.35 190.07,114.51 190.9,119.11 191.72,123.04 192.55,126.2 193.38,128.51 194.21,129.93 195.03,130.4 195.86,129.93 196.69,128.51 197.52,126.2 198.34,123.04 199.17,119.11 200,127.23 200.83,124.4 201.66,120.77 202.48,116.42 203.31,111.47 204.14,106.04 204.97,100.26 205.79,94.27 206.62,88.22 207.45,82.26 208.28,76.54 209.1,71.19 209.93,66.36 210.76,62.15 211.58,58.67 212.41,56.01 213.24,54.23 214.07,53.38 214.9,53.47 215.72,54.51 216.55,56.47 217.38,59.3 218.2,62.93 219.03,67.28 219.86,72.23 220.69,77.66 221.52,83.44 222.34,89.43 223.17,95.48 224,101.44 224.82,107.16 225.65,112.51 226.48,117.34 227.31,121.55 228.13,125.03 228.96,127.69 229.79,129.47 230.62,130.32 231.44,130.23 232.27,129.19 233.1,127.23 233.93,124.4 234.75,120.77 235.58,116.42 236.41,111.47 237.24,106.04 238.07,100.26 238.89,94.27 239.72,88.22 240.55,82.26 241.38,76.54 242.2,71.19 243.03,66.36 243.86,62.15 244.69,58.67 245.51,56.01 246.34,54.23 247.17,53.38 248,53.47 248.82,54.51 249.65,56.47 250.48,59.3 251.31,62.93 252.13,67.28 252.96,72.23 253.79,77.66 254.62,83.44 255.44,89.43 256.27,95.48 257.1,101.44 257.93,107.16 258.75,112.51 259.58,117.34 260.41,121.55 261.24,125.03 262.06,127.69 262.89,129.47 263.72,130.32 264.55,130.23 265.37,129.19 266.2,127.23 267.03,124.4 267.86,120.77 268.68,116.42 269.51,111.47 270.34,106.04 271.17,100.26 271.99,94.27 272.82,88.22 273.65,82.26 274.48,76.54 275.3,71.19 276.13,66.36 276.96,62.15 277.78,58.67 278.61,56.01 279.44,54.23 280.27,53.38 281.1,53.47 281.92,54.51 282.75,56.47 283.58,59.3 284.4,62.93 285.23,67.28 286.06,72.23 286.89,77.66 287.72,83.44 288.54,89.43 289.37,95.48 290.2,101.44 291.02,107.16 291.85,112.51 292.68,117.34 293.51,121.55 294.33,125.03 295.16,127.69 295.99,129.47 296.82,130.32 297.64,130.23 298.47,129.19 299.3,127.23 300.13,124.4 300.96,120.77 301.78,116.42 302.61,111.47 303.44,106.04 304.26,100.26 305.09,94.27 305.92,88.22 306.75,82.26 307.58,76.54 308.4,71.19 309.23,66.36 310.06,62.15 310.88,58.67 311.71,56.01 312.54,54.23 313.37,53.38 314.2,53.47 315.02,54.51 315.85,56.47 316.68,59.3 317.5,62.93 318.33,67.28 319.16,72.23 319.99,77.66 320.82,83.44 321.64,89.43 322.47,95.48 323.3,101.44 324.12,107.16 324.95,112.51 325.78,117.34 326.61,121.55 327.43,125.03 328.26,127.69 329.09,129.47 329.92,130.32 330.75,130.23 331.57,129.19 332.4,127.23" fill="none" stroke="#EDB120" stroke-width="0.9" stroke-linejoin="round"/>
</g>
<line x1="67.6" y1="14.75" x2="67.6" y2="169.45" stroke="#262626" stroke-width="1"/>
<line x1="67.6" y1="168.95" x2="332.4" y2="168.95" stroke="#262626" stroke-width="1"/>
<line x1="67.6" y1="168.95" x2="70.2" y2="168.95" stroke="#262626" stroke-width="1"/>
<text x="64.6" y="173.05" font-size="11.8" text-anchor="end" stroke="#262626" stroke-width="0.22">0</text>
<line x1="67.6" y1="130.4" x2="70.2" y2="130.4" stroke="#262626" stroke-width="1"/>
<text x="64.6" y="134.5" font-size="11.8" text-anchor="end" stroke="#262626" stroke-width="0.22">0.5</text>
<line x1="67.6" y1="91.85" x2="70.2" y2="91.85" stroke="#262626" stroke-width="1"/>
<text x="64.6" y="95.95" font-size="11.8" text-anchor="end" stroke="#262626" stroke-width="0.22">1</text>
<line x1="67.6" y1="53.3" x2="70.2" y2="53.3" stroke="#262626" stroke-width="1"/>
<text x="64.6" y="57.4" font-size="11.8" text-anchor="end" stroke="#262626" stroke-width="0.22">1.5</text>
<line x1="67.6" y1="14.75" x2="70.2" y2="14.75" stroke="#262626" stroke-width="1"/>
<text x="64.6" y="18.85" font-size="11.8" text-anchor="end" stroke="#262626" stroke-width="0.22">2</text>
<line x1="67.6" y1="168.95" x2="67.6" y2="166.35" stroke="#262626" stroke-width="1"/>
<text x="67.6" y="182.8" font-size="11.8" text-anchor="middle" stroke="#262626" stroke-width="0.22">0</text>
<line x1="133.8" y1="168.95" x2="133.8" y2="166.35" stroke="#262626" stroke-width="1"/>
<text x="133.8" y="182.8" font-size="11.8" text-anchor="middle" stroke="#262626" stroke-width="0.22">2</text>
<line x1="200" y1="168.95" x2="200" y2="166.35" stroke="#262626" stroke-width="1"/>
<text x="200" y="182.8" font-size="11.8" text-anchor="middle" stroke="#262626" stroke-width="0.22">4</text>
<line x1="266.2" y1="168.95" x2="266.2" y2="166.35" stroke="#262626" stroke-width="1"/>
<text x="266.2" y="182.8" font-size="11.8" text-anchor="middle" stroke="#262626" stroke-width="0.22">6</text>
<line x1="332.4" y1="168.95" x2="332.4" y2="166.35" stroke="#262626" stroke-width="1"/>
<text x="332.4" y="182.8" font-size="11.8" text-anchor="middle" stroke="#262626" stroke-width="0.22">8</text>
<text x="200" y="198" font-size="12.75" text-anchor="middle" stroke="#262626" stroke-width="0.22">Time (days)</text>
<text transform="translate(43.3,92) rotate(-90)" font-size="12.9" text-anchor="middle" stroke="#262626" stroke-width="0.22">Amplitude [a.u.]</text>
<text x="199.5" y="21.2" font-size="16" text-anchor="middle" font-weight="bold" fill="#FF0000">Cue</text>
<rect x="198.7" y="24.5" width="1.9" height="12" fill="#FF0000"/>
<path d="M194.2 35.6 L205.2 35.6 L199.7 46.4 Z" fill="#FF0000"/>
<path d="M356.6 99 H396" stroke="#000" stroke-width="4.2" fill="none"/>
<path d="M387.3 93.0 L397.8 99 L387.3 105.0" stroke="#000" stroke-width="4.2" fill="none" stroke-linecap="round" stroke-linejoin="miter" stroke-miterlimit="8"/>
<line x1="462.5" y1="19.8" x2="462.5" y2="174.5" stroke="#262626" stroke-width="1"/>
<line x1="462.5" y1="174" x2="611.3" y2="174" stroke="#262626" stroke-width="1"/>
<line x1="462.5" y1="174" x2="465.1" y2="174" stroke="#262626" stroke-width="1"/>
<text x="459.7" y="178" font-size="11.5" text-anchor="end" stroke="#262626" stroke-width="0.22">0</text>
<line x1="462.5" y1="143.16" x2="465.1" y2="143.16" stroke="#262626" stroke-width="1"/>
<text x="459.7" y="147.16" font-size="11.5" text-anchor="end" stroke="#262626" stroke-width="0.22">0.2</text>
<line x1="462.5" y1="112.32" x2="465.1" y2="112.32" stroke="#262626" stroke-width="1"/>
<text x="459.7" y="116.32" font-size="11.5" text-anchor="end" stroke="#262626" stroke-width="0.22">0.4</text>
<line x1="462.5" y1="81.48" x2="465.1" y2="81.48" stroke="#262626" stroke-width="1"/>
<text x="459.7" y="85.48" font-size="11.5" text-anchor="end" stroke="#262626" stroke-width="0.22">0.6</text>
<line x1="462.5" y1="50.64" x2="465.1" y2="50.64" stroke="#262626" stroke-width="1"/>
<text x="459.7" y="54.64" font-size="11.5" text-anchor="end" stroke="#262626" stroke-width="0.22">0.8</text>
<line x1="462.5" y1="19.8" x2="465.1" y2="19.8" stroke="#262626" stroke-width="1"/>
<text x="459.7" y="23.8" font-size="11.5" text-anchor="end" stroke="#262626" stroke-width="0.22">1</text>
<line x1="462.5" y1="174" x2="462.5" y2="171.4" stroke="#262626" stroke-width="1"/>
<text x="462.5" y="187.6" font-size="11.5" text-anchor="middle" stroke="#262626" stroke-width="0.22">0</text>
<line x1="536.9" y1="174" x2="536.9" y2="171.4" stroke="#262626" stroke-width="1"/>
<text x="536.9" y="187.6" font-size="11.5" text-anchor="middle" stroke="#262626" stroke-width="0.22">0.5</text>
<line x1="611.3" y1="174" x2="611.3" y2="171.4" stroke="#262626" stroke-width="1"/>
<text x="611.3" y="187.6" font-size="11.5" text-anchor="middle" stroke="#262626" stroke-width="0.22">1</text>
<line x1="462.5" y1="174" x2="611.3" y2="19.8" stroke="#222" stroke-width="1"/>
<circle cx="462.5" cy="174" r="4.3" fill="#0072BD"/>
<circle cx="477.38" cy="145.32" r="4.3" fill="#D95319"/>
<circle cx="492.26" cy="121.11" r="4.3" fill="#EDB120"/>
<circle cx="507.14" cy="105.69" r="4.3" fill="#7E2F8E"/>
<circle cx="522.02" cy="98.44" r="4.3" fill="#77AC30"/>
<circle cx="536.9" cy="96.28" r="4.3" fill="#4DBEEE"/>
<circle cx="551.78" cy="94.28" r="4.3" fill="#A2142F"/>
<circle cx="566.66" cy="87.65" r="4.3" fill="#0072BD"/>
<circle cx="581.54" cy="72.23" r="4.3" fill="#D95319"/>
<circle cx="596.42" cy="48.33" r="4.3" fill="#EDB120"/>
<text x="537" y="203.2" font-size="13" text-anchor="middle" stroke="#262626" stroke-width="0.22">Phase before</text>
<text transform="translate(440,97.5) rotate(-90)" font-size="13.6" text-anchor="middle" stroke="#262626" stroke-width="0.22">Phase after</text>
<text x="-0.2" y="240.4" font-size="21" font-weight="bold" fill="#000">b</text>
<text x="36.8" y="239.1" font-size="14" font-weight="bold" fill="#000">NIH3T3 NR-RVNP cells:</text>
<line x1="17.9" y1="279.8" x2="32.3" y2="279.8" stroke="#000" stroke-width="1.2"/>
<rect x="32.3" y="270.4" width="97.6" height="17.6" fill="#000"/>
<text x="81.1" y="284.1" font-size="12.5" text-anchor="middle" font-weight="bold" font-style="italic" fill="#fff">Reverbα</text>
<line x1="129.9" y1="279.8" x2="142.3" y2="279.8" stroke="#000" stroke-width="1.2"/>
<path d="M135.5 279.8 V258.1 H157.2" stroke="#000" stroke-width="1.4" fill="none"/>
<path d="M157.2 253.1 L167.3 258.1 L157.2 263.1 Z" fill="#000"/>
<rect x="142.3" y="270.9" width="66.7" height="16.6" fill="#0EAA4D" stroke="#000" stroke-width="1.7"/>
<text x="175.65" y="284" font-size="12.3" text-anchor="middle" font-weight="bold" font-style="italic" fill="#fff">Venus</text>
<rect x="209" y="270.9" width="54.4" height="16.6" fill="#fff" stroke="#000" stroke-width="1.7"/>
<text x="236.2" y="284" font-size="12" text-anchor="middle" font-weight="bold" fill="#000">NLS</text>
<rect x="263.4" y="270.9" width="64.8" height="16.6" fill="#fff" stroke="#000" stroke-width="1.7"/>
<text x="295.8" y="284" font-size="12" text-anchor="middle" font-weight="bold" fill="#000">PEST</text>
<line x1="328.2" y1="279.8" x2="341" y2="279.8" stroke="#000" stroke-width="1.2"/>
<line x1="17.9" y1="330" x2="32.2" y2="330" stroke="#000" stroke-width="1.2"/>
<rect x="32.2" y="321.4" width="98.1" height="17.8" fill="#000"/>
<text x="81.25" y="334.3" font-size="12.5" text-anchor="middle" font-weight="bold" font-style="italic" fill="#fff">CMV</text>
<line x1="130.3" y1="330" x2="142.3" y2="330" stroke="#000" stroke-width="1.2"/>
<path d="M135.7 330 V308.8 H157.7" stroke="#000" stroke-width="1.4" fill="none"/>
<path d="M157.7 303.8 L168 308.8 L157.7 313.8 Z" fill="#000"/>
<rect x="142.3" y="321.9" width="66.5" height="16.8" fill="#fff" stroke="#000" stroke-width="1.7"/>
<text x="175.55" y="334.2" font-size="12.3" text-anchor="middle" font-weight="bold" font-style="italic" fill="#000">H2B</text>
<rect x="208.8" y="321.9" width="79.7" height="16.8" fill="#F04A4C" stroke="#000" stroke-width="1.7"/>
<text x="248.65" y="334.2" font-size="12.3" text-anchor="middle" font-weight="bold" font-style="italic" fill="#fff">mCherry</text>
<line x1="288.5" y1="330" x2="319.2" y2="330" stroke="#000" stroke-width="1.2"/>
<text x="-1" y="401.2" font-size="21" font-weight="bold" fill="#000">c</text>
<rect x="88.5" y="395.7" width="218.8" height="135.8" fill="none" stroke="#262626" stroke-width="1.1"/>
<line x1="88.5" y1="531.5" x2="91.1" y2="531.5" stroke="#262626" stroke-width="1"/>
<line x1="307.3" y1="531.5" x2="304.7" y2="531.5" stroke="#262626" stroke-width="1"/>
<text x="84.8" y="536.2" font-size="13.5" text-anchor="end" stroke="#262626" stroke-width="0.22">5000</text>
<line x1="88.5" y1="504.32" x2="91.1" y2="504.32" stroke="#262626" stroke-width="1"/>
<line x1="307.3" y1="504.32" x2="304.7" y2="504.32" stroke="#262626" stroke-width="1"/>
<text x="84.8" y="509.02" font-size="13.5" text-anchor="end" stroke="#262626" stroke-width="0.22">5500</text>
<line x1="88.5" y1="477.14" x2="91.1" y2="477.14" stroke="#262626" stroke-width="1"/>
<line x1="307.3" y1="477.14" x2="304.7" y2="477.14" stroke="#262626" stroke-width="1"/>
<text x="84.8" y="481.84" font-size="13.5" text-anchor="end" stroke="#262626" stroke-width="0.22">6000</text>
<line x1="88.5" y1="449.96" x2="91.1" y2="449.96" stroke="#262626" stroke-width="1"/>
<line x1="307.3" y1="449.96" x2="304.7" y2="449.96" stroke="#262626" stroke-width="1"/>
<text x="84.8" y="454.66" font-size="13.5" text-anchor="end" stroke="#262626" stroke-width="0.22">6500</text>
<line x1="88.5" y1="422.78" x2="91.1" y2="422.78" stroke="#262626" stroke-width="1"/>
<line x1="307.3" y1="422.78" x2="304.7" y2="422.78" stroke="#262626" stroke-width="1"/>
<text x="84.8" y="427.48" font-size="13.5" text-anchor="end" stroke="#262626" stroke-width="0.22">7000</text>
<line x1="88.5" y1="395.6" x2="91.1" y2="395.6" stroke="#262626" stroke-width="1"/>
<line x1="307.3" y1="395.6" x2="304.7" y2="395.6" stroke="#262626" stroke-width="1"/>
<text x="84.8" y="400.3" font-size="13.5" text-anchor="end" stroke="#262626" stroke-width="0.22">7500</text>
<line x1="88.5" y1="531.5" x2="88.5" y2="528.9" stroke="#262626" stroke-width="1"/>
<line x1="88.5" y1="395.7" x2="88.5" y2="398.3" stroke="#262626" stroke-width="1"/>
<text x="88.5" y="548" font-size="13.4" text-anchor="middle" stroke="#262626" stroke-width="0.22">0</text>
<line x1="139.05" y1="531.5" x2="139.05" y2="528.9" stroke="#262626" stroke-width="1"/>
<line x1="139.05" y1="395.7" x2="139.05" y2="398.3" stroke="#262626" stroke-width="1"/>
<text x="139.05" y="548" font-size="13.4" text-anchor="middle" stroke="#262626" stroke-width="0.22">50</text>
<line x1="189.6" y1="531.5" x2="189.6" y2="528.9" stroke="#262626" stroke-width="1"/>
<line x1="189.6" y1="395.7" x2="189.6" y2="398.3" stroke="#262626" stroke-width="1"/>
<text x="189.6" y="548" font-size="13.4" text-anchor="middle" stroke="#262626" stroke-width="0.22">100</text>
<line x1="240.15" y1="531.5" x2="240.15" y2="528.9" stroke="#262626" stroke-width="1"/>
<line x1="240.15" y1="395.7" x2="240.15" y2="398.3" stroke="#262626" stroke-width="1"/>
<text x="240.15" y="548" font-size="13.4" text-anchor="middle" stroke="#262626" stroke-width="0.22">150</text>
<line x1="290.7" y1="531.5" x2="290.7" y2="528.9" stroke="#262626" stroke-width="1"/>
<line x1="290.7" y1="395.7" x2="290.7" y2="398.3" stroke="#262626" stroke-width="1"/>
<text x="290.7" y="548" font-size="13.4" text-anchor="middle" stroke="#262626" stroke-width="0.22">200</text>
<text x="194.7" y="567" font-size="15.3" text-anchor="middle" stroke="#262626" stroke-width="0.22">Time (h)</text>
<text transform="translate(49.5,463.5) rotate(-90)" font-size="15.5" text-anchor="middle" stroke="#262626" stroke-width="0.22">Nuclei per timepoint</text>
<polyline points="88.7,508.13 89.2,507.26 89.71,505.37 90.21,502.74 90.72,500.36 91.22,499.19 91.73,497.84 92.23,496.7 92.74,494.11 93.24,492.83 93.75,491.77 94.25,491.64 94.76,489.98 95.26,488.72 95.77,487.58 96.27,487.13 96.78,486.25 97.28,484.81 97.79,483.75 98.29,482.56 98.8,480.7 99.3,479.47 99.81,478.83 100.31,477.48 100.82,475.74 101.32,474.99 101.83,474.36 102.33,472.93 102.84,472.1 103.34,472.26 103.85,471.95 104.35,470.42 104.86,469.1 105.36,468.69 105.87,467.93 106.37,466.84 106.88,466.1 107.38,465.21 107.89,463.4 108.39,461.99 108.9,461.35 109.4,461.19 109.91,459.57 110.41,457.97 110.92,456.59 111.42,455.76 111.93,455.38 112.43,455.67 112.94,455.58 113.44,455.35 113.95,455.2 114.45,455.13 114.96,454.06 115.46,453.49 115.97,452.09 116.47,451.24 116.98,450.77 117.48,449.97 117.99,448.89 118.49,448.23 119,448.68 119.5,447.87 120.01,447.18 120.51,446.44 121.02,445.69 121.52,445.18 122.03,444.59 122.53,444.5 123.04,443.47 123.54,443.25 124.05,442.94 124.55,442.41 125.06,441.48 125.56,441.29 126.07,441.66 126.57,440.14 127.08,438.88 127.58,438.15 128.09,438.24 128.59,436.8 129.1,436.52 129.6,435.83 130.11,435.65 130.61,435.44 131.12,434.9 131.62,433.56 132.13,432.08 132.63,432.25 133.14,432.8 133.64,433.98 134.15,432.65 134.65,430.63 135.16,429.71 135.66,431.15 136.17,431.67 136.67,430.79 137.18,429.98 137.68,429.89 138.19,430.03 138.69,429.49 139.2,429.53 139.7,429.88 140.21,430.1 140.71,429.71 141.22,428.92 141.72,428.53 142.23,429.24 142.73,429.93 143.24,429.24 143.74,429.06 144.25,429.7 144.75,431.08 145.26,430.65 145.76,429.8 146.27,428.02 146.77,428.35 147.28,430.03 147.78,430.4 148.29,428.91 148.79,427.95 149.3,428.03 149.8,427.89 150.31,427.45 150.81,427.8 151.32,428.4 151.82,428.61 152.33,428.53 152.83,427.58 153.34,427.11 153.84,425.43 154.35,424.19 154.85,424.1 155.36,424.72 155.86,425.02 156.37,424.67 156.87,425.12 157.38,424.93 157.88,424.66 158.39,423.63 158.89,422.38 159.4,421.09 159.9,420.51 160.41,419.94 160.91,419.73 161.42,419.85 161.92,420.39 162.43,420.38 162.93,419.32 163.44,418.79 163.94,419.17 164.45,420.42 164.95,420.69 165.46,420.07 165.96,418.92 166.47,419.4 166.97,420.29 167.48,421.11 167.98,421.17 168.49,420.36 168.99,419.08 169.5,418.15 170,418.44 170.51,418.17 171.01,417.71 171.52,417.13 172.02,415.86 172.53,415.1 173.03,414.53 173.54,414.83 174.04,414.48 174.55,414.65 175.05,414.78 175.56,414.81 176.06,414.25 176.57,413.57 177.07,412.85 177.58,412.18 178.08,411.55 178.59,411.47 179.09,411.28 179.6,411.31 180.1,410.22 180.61,409.92 181.11,409.25 181.62,408.87 182.12,407.98 182.63,407.75 183.13,407.75 183.64,407.31 184.14,406.55 184.65,405.56 185.15,406.04 185.66,406.46 186.16,405.93 186.67,404.99 187.17,404.27 187.68,405.19 188.18,404.83 188.69,405.07 189.19,404.64 189.7,404.51 190.2,403.95 190.71,404.25 191.21,405.04 191.72,404.77 192.22,404.54 192.73,404.33 193.23,404.07 193.74,403.44 194.24,403.45 194.75,402.94 195.25,403.08 195.76,402.78 196.26,402.48 196.77,402.16 197.27,403.32 197.78,404.4 198.28,403.85 198.79,403.14 199.29,402.64 199.8,402.6 200.3,402.45 200.81,401.8 201.31,401.73 201.82,401.75 202.32,402.45 202.83,401.9 203.33,401.71 203.84,401.74 204.34,403.02 204.85,404.86 205.35,405.55 205.86,405.57 206.36,405.02 206.87,404.12 207.37,403.6 207.88,404.38 208.38,405.24 208.89,405.3 209.39,405.59 209.9,405.56 210.4,404.67 210.91,404.35 211.41,404.95 211.92,405.59 212.42,406.23 212.93,407.43 213.43,407.64 213.94,407.31 214.44,407.25 214.95,407.92 215.45,408.17 215.96,407.75 216.46,407.67 216.97,408.4 217.47,409.26 217.98,408.59 218.48,407.86 218.99,408.42 219.49,409.13 220,408.64 220.5,408.8 221.01,408.55 221.51,408.79 222.02,408.52 222.52,408.63 223.03,408.95 223.53,409.65 224.04,409.7 224.54,409.36 225.05,409.45 225.55,409.13 226.06,408.5 226.56,409.16 227.07,410.62 227.57,411.23 228.08,411.23 228.58,411.31 229.09,411.54 229.59,412.28 230.1,412.68 230.6,413.09 231.11,413.17 231.61,413 232.12,412.65 232.62,413.48 233.13,414.78 233.63,415.14 234.14,414.85 234.64,414.91 235.15,415.38 235.65,415.38 236.16,415.92 236.66,415.56 237.17,416.52 237.67,416.94 238.18,417 238.68,416.46 239.19,416.93 239.69,417.9 240.2,417.77 240.7,418.14 241.21,420.14 241.71,420.77 242.22,420.22 242.72,418.9 243.23,419.68 243.73,419 244.24,418.53 244.74,418.96 245.25,420.21 245.75,421.59 246.26,421.53 246.76,421.49 247.27,422.4 247.77,423 248.28,422.17 248.78,421.01 249.29,421.55 249.79,422.42 250.3,422.71 250.8,422.37 251.31,422.04 251.81,423.4 252.32,424.76 252.82,423.29 253.33,421.52 253.83,421.03 254.34,422.54 254.84,422.84 255.35,424.07 255.85,424.61 256.36,425.02 256.86,424.31 257.37,423.85 257.87,423.66 258.38,424.3 258.88,424.8 259.39,424.57 259.89,424.61 260.4,424.89 260.9,425.04 261.41,424.26 261.91,424 262.42,423.97 262.92,423.25 263.43,423.82 263.93,425.12 264.44,426.41 264.94,426.49 265.45,426.81 265.95,427.27 266.46,425.97 266.96,425.53 267.47,426.24 267.97,428.48 268.48,429.87 268.98,430.61 269.49,429.59 269.99,427.68 270.5,427.44 271,428.68 271.51,430.32 272.01,430.44 272.52,430.66 273.02,429.9 273.53,430.19 274.03,430.48 274.54,431.47 275.04,431.89 275.55,432.35 276.05,432.39 276.56,432.37 277.06,432.84 277.57,433.17 278.07,433.02 278.58,432.38 279.08,433.06 279.59,433.73 280.09,434.29 280.6,433.98 281.1,433.8 281.61,433 282.11,432.98 282.62,433.61 283.12,434.37 283.63,433.92 284.13,433.38 284.64,433.29 285.14,434.78 285.65,434.39 286.15,434.41 286.66,434.25 287.16,435.73 287.67,435.83 288.17,436.48 288.68,437.49 289.18,438.42 289.69,438.65 290.19,438.5 290.7,438.37 291.2,438.62 291.71,438.93 292.21,439.17 292.72,439.19 293.22,439.67 293.73,440.72 294.23,441.24 294.74,441.36 295.24,441.98 295.75,443.1 296.25,444.06 296.76,443.95 297.26,443.57 297.77,442.93 298.27,442.71 298.78,443.42 299.28,444.07 299.79,443.62 300.29,443.16 300.8,442.91 301.3,443.67 301.81,443.61 302.31,443.69 302.82,443.88 303.32,444.82 303.83,444.83 304.33,445.1 304.84,446.69 305.34,447.21 305.85,447.37 306.35,446.8 306.86,447.31" fill="none" stroke="#D2202E" stroke-width="1.15" stroke-linejoin="round"/>
<text x="-1" y="625.5" font-size="21" font-weight="bold" fill="#000">d</text>
<line x1="78.5" y1="753" x2="81.1" y2="753" stroke="#262626" stroke-width="1"/>
<line x1="309" y1="753" x2="306.4" y2="753" stroke="#262626" stroke-width="1"/>
<text x="75" y="757.7" font-size="13.4" text-anchor="end" stroke="#262626" stroke-width="0.22">0</text>
<line x1="78.5" y1="685" x2="81.1" y2="685" stroke="#262626" stroke-width="1"/>
<line x1="309" y1="685" x2="306.4" y2="685" stroke="#262626" stroke-width="1"/>
<text x="75" y="689.7" font-size="13.4" text-anchor="end" stroke="#262626" stroke-width="0.22">0.5</text>
<line x1="78.5" y1="617" x2="81.1" y2="617" stroke="#262626" stroke-width="1"/>
<line x1="309" y1="617" x2="306.4" y2="617" stroke="#262626" stroke-width="1"/>
<text x="75" y="621.7" font-size="13.4" text-anchor="end" stroke="#262626" stroke-width="0.22">1</text>
<line x1="78.5" y1="753" x2="78.5" y2="750.4" stroke="#262626" stroke-width="1"/>
<line x1="78.5" y1="617" x2="78.5" y2="619.6" stroke="#262626" stroke-width="1"/>
<text x="78.5" y="769.2" font-size="13.4" text-anchor="middle" stroke="#262626" stroke-width="0.22">0</text>
<line x1="131.6" y1="753" x2="131.6" y2="750.4" stroke="#262626" stroke-width="1"/>
<line x1="131.6" y1="617" x2="131.6" y2="619.6" stroke="#262626" stroke-width="1"/>
<text x="131.6" y="769.2" font-size="13.4" text-anchor="middle" stroke="#262626" stroke-width="0.22">50</text>
<line x1="184.7" y1="753" x2="184.7" y2="750.4" stroke="#262626" stroke-width="1"/>
<line x1="184.7" y1="617" x2="184.7" y2="619.6" stroke="#262626" stroke-width="1"/>
<text x="184.7" y="769.2" font-size="13.4" text-anchor="middle" stroke="#262626" stroke-width="0.22">100</text>
<line x1="237.8" y1="753" x2="237.8" y2="750.4" stroke="#262626" stroke-width="1"/>
<line x1="237.8" y1="617" x2="237.8" y2="619.6" stroke="#262626" stroke-width="1"/>
<text x="237.8" y="769.2" font-size="13.4" text-anchor="middle" stroke="#262626" stroke-width="0.22">150</text>
<line x1="290.9" y1="753" x2="290.9" y2="750.4" stroke="#262626" stroke-width="1"/>
<line x1="290.9" y1="617" x2="290.9" y2="619.6" stroke="#262626" stroke-width="1"/>
<text x="290.9" y="769.2" font-size="13.4" text-anchor="middle" stroke="#262626" stroke-width="0.22">200</text>
<text x="191.9" y="786.6" font-size="15.6" text-anchor="middle" stroke="#262626" stroke-width="0.22">Age (h)</text>
<text transform="translate(51,685) rotate(-90)" font-size="15.5" text-anchor="middle" stroke="#262626" stroke-width="0.22">Survival rate</text>
<rect x="78.5" y="617.0" width="230.5" height="136" fill="none" stroke="#262626" stroke-width="1.1"/>
<polyline points="104.8,617 105.8,618.53 106.8,620.05 107.8,621.54 108.8,623.01 109.8,624.45 110.8,625.87 111.8,627.26 112.8,628.62 113.8,629.95 114.8,631.25 115.8,632.52 116.8,633.75 117.8,634.95 118.8,636.11 119.8,637.24 120.8,638.32 121.8,639.38 122.8,640.4 123.8,641.4 124.8,642.38 125.8,643.33 126.8,644.27 127.8,645.18 128.8,646.07 129.8,646.95 130.8,647.81 131.8,648.66 132.8,649.5 133.8,650.32 134.8,651.14 135.8,651.95 136.8,652.76 137.8,653.56 138.8,654.36 139.8,655.16 140.8,655.96 141.8,656.75 142.8,657.54 143.8,658.32 144.8,659.11 145.8,659.88 146.8,660.65 147.8,661.41 148.8,662.16 149.8,662.9 150.8,663.64 151.8,664.36 152.8,665.07 153.8,665.77 154.8,666.46 155.8,667.13 156.8,667.79 157.8,668.44 158.8,669.07 159.8,669.68 160.8,670.27 161.8,670.85 162.8,671.41 163.8,671.96 164.8,672.49 165.8,673.02 166.8,673.54 167.8,674.05 168.8,674.55 169.8,675.05 170.8,675.53 171.8,676.01 172.8,676.48 173.8,676.95 174.8,677.41 175.8,677.86 176.8,678.3 177.8,678.74 178.8,679.18 179.8,679.6 180.8,680.03 181.8,680.45 182.8,680.86 183.8,681.27 184.8,681.67 185.8,682.08 186.8,682.47 187.8,682.87 188.8,683.26 189.8,683.65 190.8,684.04 191.8,684.42 192.8,684.8 193.8,685.19 194.8,685.56 195.8,685.94 196.8,686.31 197.8,686.67 198.8,687.03 199.8,687.39 200.8,687.74 201.8,688.09 202.8,688.44 203.8,688.78 204.8,689.12 205.8,689.45 206.8,689.79 207.8,690.12 208.8,690.45 209.8,690.77 210.8,691.09 211.8,691.42 212.8,691.74 213.8,692.05 214.8,692.37 215.8,692.69 216.8,693 217.8,693.32 218.8,693.63 219.8,693.95 220.8,694.26 221.8,694.57 222.8,694.89 223.8,695.2 224.8,695.52 225.8,695.83 226.8,696.15 227.8,696.47 228.8,696.78 229.8,697.1 230.8,697.42 231.8,697.74 232.8,698.06 233.8,698.38 234.8,698.69 235.8,699.01 236.8,699.33 237.8,699.64 238.8,699.96 239.8,700.27 240.8,700.58 241.8,700.89 242.8,701.2 243.8,701.5 244.8,701.81 245.8,702.11 246.8,702.41 247.8,702.7 248.8,702.99 249.8,703.28 250.8,703.57 251.8,703.85 252.8,704.13 253.8,704.4 254.8,704.67 255.8,704.94 256.8,705.2 257.8,705.45 258.8,705.71 259.8,705.96 260.8,706.2 261.8,706.45 262.8,706.69 263.8,706.93 264.8,707.17 265.8,707.4 266.8,707.63 267.8,707.86 268.8,708.09 269.8,708.31 270.8,708.53 271.8,708.76 272.8,708.98 273.8,709.19 274.8,709.41 275.8,709.62 276.8,709.84 277.8,710.05 278.8,710.26 279.8,710.47 280.8,710.68 281.8,710.89 282.8,711.1 283.8,711.31 284.8,711.52 285.8,711.72 286.8,711.93 287.8,712.14 288.8,712.34 289.8,712.54 290.8,712.74 291.8,712.94 292.8,713.14 293.8,713.34 294.8,713.54 295.8,713.73 296.8,713.93 297.8,714.12 298.8,714.31 299.8,714.5 300.8,714.69 301.8,714.88 302.8,715.07 303.8,715.25 304.8,715.44 305.8,715.62 306.8,715.8 307.8,715.98 308.8,716.16 309,716.2 309,753" fill="none" stroke="#D2202E" stroke-width="1.2" stroke-linejoin="round"/>
<text x="-1" y="816.5" font-size="21" font-weight="bold" fill="#000">e</text>
<text x="50.8" y="835.6" font-size="15.5" font-weight="bold" font-style="italic" fill="#000">Rev-VNP</text>
<text x="49.9" y="997.9" font-size="15.5" font-weight="bold" font-style="italic" fill="#000">H2B-mCherry</text>
<rect x="37.3" y="846.2" width="291.9" height="109.8" fill="#181818"/>
<rect x="37.3" y="846.2" width="291.9" height="12.3" fill="#343434"/>
<rect x="37.3" y="846.2" width="291.9" height="1" fill="#5a5a5a"/>
<ellipse cx="42.7" cy="852.9" rx="3.1" ry="3.7" fill="url(#dot)" opacity="1.00"/>
<ellipse cx="54.9" cy="852.9" rx="3.1" ry="3.7" fill="url(#dot)" opacity="0.98"/>
<ellipse cx="67.1" cy="852.9" rx="3.1" ry="3.7" fill="url(#dot)" opacity="0.93"/>
<ellipse cx="79.3" cy="852.9" rx="3.1" ry="3.7" fill="url(#dot)" opacity="0.76"/>
<ellipse cx="91.5" cy="852.9" rx="3.1" ry="3.7" fill="url(#dot)" opacity="0.60"/>
<ellipse cx="103.7" cy="852.9" rx="3.1" ry="3.7" fill="url(#dot)" opacity="0.49"/>
<ellipse cx="115.9" cy="852.9" rx="3.1" ry="3.7" fill="url(#dot)" opacity="0.43"/>
<ellipse cx="128.1" cy="852.9" rx="3.1" ry="3.7" fill="url(#dot)" opacity="0.43"/>
<ellipse cx="140.3" cy="852.9" rx="3.1" ry="3.7" fill="url(#dot)" opacity="0.54"/>
<ellipse cx="152.5" cy="852.9" rx="3.1" ry="3.7" fill="url(#dot)" opacity="0.60"/>
<ellipse cx="164.7" cy="852.9" rx="3.1" ry="3.7" fill="url(#dot)" opacity="0.65"/>
<ellipse cx="176.9" cy="852.9" rx="3.1" ry="3.7" fill="url(#dot)" opacity="0.65"/>
<ellipse cx="189.1" cy="852.9" rx="3.1" ry="3.7" fill="url(#dot)" opacity="0.54"/>
<ellipse cx="201.3" cy="852.9" rx="3.1" ry="3.7" fill="url(#dot)" opacity="0.62"/>
<ellipse cx="213.5" cy="852.9" rx="3.1" ry="3.7" fill="url(#dot)" opacity="0.65"/>
<ellipse cx="225.7" cy="852.9" rx="3.1" ry="3.7" fill="url(#dot)" opacity="0.68"/>
<ellipse cx="237.9" cy="852.9" rx="3.1" ry="3.7" fill="url(#dot)" opacity="0.65"/>
<ellipse cx="250.1" cy="852.9" rx="3.1" ry="3.7" fill="url(#dot)" opacity="0.54"/>
<ellipse cx="262.3" cy="852.9" rx="3.1" ry="3.7" fill="url(#dot)" opacity="0.43"/>
<ellipse cx="274.5" cy="852.9" rx="3.1" ry="3.7" fill="url(#dot)" opacity="0.32"/>
<ellipse cx="286.7" cy="852.9" rx="3.1" ry="3.7" fill="url(#dot)" opacity="0.17"/>
<ellipse cx="298.9" cy="852.9" rx="3.1" ry="3.7" fill="url(#dot)" opacity="0.12"/>
<ellipse cx="311.1" cy="852.9" rx="3.1" ry="3.7" fill="url(#dot)" opacity="0.09"/>
<ellipse cx="323.3" cy="852.9" rx="3.1" ry="3.7" fill="url(#dot)" opacity="0.06"/>
<ellipse cx="42.7" cy="865.07" rx="3.1" ry="3.7" fill="url(#dot)" opacity="0.16"/>
<ellipse cx="54.9" cy="865.07" rx="3.1" ry="3.7" fill="url(#dot)" opacity="0.16"/>
<ellipse cx="67.1" cy="865.07" rx="3.1" ry="3.7" fill="url(#dot)" opacity="0.19"/>
<ellipse cx="79.3" cy="865.07" rx="3.1" ry="3.7" fill="url(#dot)" opacity="0.24"/>
<ellipse cx="91.5" cy="865.07" rx="3.1" ry="3.7" fill="url(#dot)" opacity="0.29"/>
<ellipse cx="103.7" cy="865.07" rx="3.1" ry="3.7" fill="url(#dot)" opacity="0.42"/>
<ellipse cx="115.9" cy="865.07" rx="3.1" ry="3.7" fill="url(#dot)" opacity="0.61"/>
<ellipse cx="128.1" cy="865.07" rx="3.1" ry="3.7" fill="url(#dot)" opacity="0.71"/>
<ellipse cx="140.3" cy="865.07" rx="3.1" ry="3.7" fill="url(#dot)" opacity="0.80"/>
<ellipse cx="152.5" cy="865.07" rx="3.1" ry="3.7" fill="url(#dot)" opacity="0.85"/>
<ellipse cx="164.7" cy="865.07" rx="3.1" ry="3.7" fill="url(#dot)" opacity="0.90"/>
<ellipse cx="176.9" cy="865.07" rx="3.1" ry="3.7" fill="url(#dot)" opacity="1.00"/>
<ellipse cx="189.1" cy="865.07" rx="3.1" ry="3.7" fill="url(#dot)" opacity="1.00"/>
<ellipse cx="201.3" cy="865.07" rx="3.1" ry="3.7" fill="url(#dot)" opacity="1.00"/>
<ellipse cx="213.5" cy="865.07" rx="3.1" ry="3.7" fill="url(#dot)" opacity="1.00"/>
<ellipse cx="225.7" cy="865.07" rx="3.1" ry="3.7" fill="url(#dot)" opacity="0.97"/>
<ellipse cx="237.9" cy="865.07" rx="3.1" ry="3.7" fill="url(#dot)" opacity="0.85"/>
<ellipse cx="250.1" cy="865.07" rx="3.1" ry="3.7" fill="url(#dot)" opacity="0.71"/>
<ellipse cx="262.3" cy="865.07" rx="3.1" ry="3.7" fill="url(#dot)" opacity="0.56"/>
<ellipse cx="274.5" cy="865.07" rx="3.1" ry="3.7" fill="url(#dot)" opacity="0.42"/>
<ellipse cx="286.7" cy="865.07" rx="3.1" ry="3.7" fill="url(#dot)" opacity="0.24"/>
<ellipse cx="298.9" cy="865.07" rx="3.1" ry="3.7" fill="url(#dot)" opacity="0.19"/>
<ellipse cx="311.1" cy="865.07" rx="3.1" ry="3.7" fill="url(#dot)" opacity="0.16"/>
<ellipse cx="323.3" cy="865.07" rx="3.1" ry="3.7" fill="url(#dot)" opacity="0.14"/>
<ellipse cx="42.7" cy="877.24" rx="3.1" ry="3.7" fill="url(#dot)" opacity="0.12"/>
<ellipse cx="54.9" cy="877.24" rx="3.1" ry="3.7" fill="url(#dot)" opacity="0.12"/>
<ellipse cx="67.1" cy="877.24" rx="3.1" ry="3.7" fill="url(#dot)" opacity="0.14"/>
<ellipse cx="79.3" cy="877.24" rx="3.1" ry="3.7" fill="url(#dot)" opacity="0.16"/>
<ellipse cx="91.5" cy="877.24" rx="3.1" ry="3.7" fill="url(#dot)" opacity="0.21"/>
<ellipse cx="103.7" cy="877.24" rx="3.1" ry="3.7" fill="url(#dot)" opacity="0.37"/>
<ellipse cx="115.9" cy="877.24" rx="3.1" ry="3.7" fill="url(#dot)" opacity="0.56"/>
<ellipse cx="128.1" cy="877.24" rx="3.1" ry="3.7" fill="url(#dot)" opacity="0.76"/>
<ellipse cx="140.3" cy="877.24" rx="3.1" ry="3.7" fill="url(#dot)" opacity="0.90"/>
<ellipse cx="152.5" cy="877.24" rx="3.1" ry="3.7" fill="url(#dot)" opacity="1.00"/>
<ellipse cx="164.7" cy="877.24" rx="3.1" ry="3.7" fill="url(#dot)" opacity="1.00"/>
<ellipse cx="176.9" cy="877.24" rx="3.1" ry="3.7" fill="url(#dot)" opacity="1.00"/>
<ellipse cx="189.1" cy="877.24" rx="3.1" ry="3.7" fill="url(#dot)" opacity="1.00"/>
<ellipse cx="201.3" cy="877.24" rx="3.1" ry="3.7" fill="url(#dot)" opacity="1.00"/>
<ellipse cx="213.5" cy="877.24" rx="3.1" ry="3.7" fill="url(#dot)" opacity="1.00"/>
<ellipse cx="225.7" cy="877.24" rx="3.1" ry="3.7" fill="url(#dot)" opacity="1.00"/>
<ellipse cx="237.9" cy="877.24" rx="3.1" ry="3.7" fill="url(#dot)" opacity="0.90"/>
<ellipse cx="250.1" cy="877.24" rx="3.1" ry="3.7" fill="url(#dot)" opacity="0.73"/>
<ellipse cx="262.3" cy="877.24" rx="3.1" ry="3.7" fill="url(#dot)" opacity="0.56"/>
<ellipse cx="274.5" cy="877.24" rx="3.1" ry="3.7" fill="url(#dot)" opacity="0.42"/>
<ellipse cx="286.7" cy="877.24" rx="3.1" ry="3.7" fill="url(#dot)" opacity="0.24"/>
<ellipse cx="298.9" cy="877.24" rx="3.1" ry="3.7" fill="url(#dot)" opacity="0.16"/>
<ellipse cx="311.1" cy="877.24" rx="3.1" ry="3.7" fill="url(#dot)" opacity="0.12"/>
<ellipse cx="323.3" cy="877.24" rx="3.1" ry="3.7" fill="url(#dot)" opacity="0.09"/>
<ellipse cx="42.7" cy="889.41" rx="3.1" ry="3.7" fill="url(#dot)" opacity="0.07"/>
<ellipse cx="54.9" cy="889.41" rx="3.1" ry="3.7" fill="url(#dot)" opacity="0.07"/>
<ellipse cx="67.1" cy="889.41" rx="3.1" ry="3.7" fill="url(#dot)" opacity="0.07"/>
<ellipse cx="79.3" cy="889.41" rx="3.1" ry="3.7" fill="url(#dot)" opacity="0.07"/>
<ellipse cx="91.5" cy="889.41" rx="3.1" ry="3.7" fill="url(#dot)" opacity="0.09"/>
<ellipse cx="103.7" cy="889.41" rx="3.1" ry="3.7" fill="url(#dot)" opacity="0.12"/>
<ellipse cx="115.9" cy="889.41" rx="3.1" ry="3.7" fill="url(#dot)" opacity="0.14"/>
<ellipse cx="128.1" cy="889.41" rx="3.1" ry="3.7" fill="url(#dot)" opacity="0.21"/>
<ellipse cx="140.3" cy="889.41" rx="3.1" ry="3.7" fill="url(#dot)" opacity="0.37"/>
<ellipse cx="152.5" cy="889.41" rx="3.1" ry="3.7" fill="url(#dot)" opacity="0.47"/>
<ellipse cx="164.7" cy="889.41" rx="3.1" ry="3.7" fill="url(#dot)" opacity="0.61"/>
<ellipse cx="176.9" cy="889.41" rx="3.1" ry="3.7" fill="url(#dot)" opacity="0.71"/>
<ellipse cx="189.1" cy="889.41" rx="3.1" ry="3.7" fill="url(#dot)" opacity="0.76"/>
<ellipse cx="201.3" cy="889.41" rx="3.1" ry="3.7" fill="url(#dot)" opacity="0.85"/>
<ellipse cx="213.5" cy="889.41" rx="3.1" ry="3.7" fill="url(#dot)" opacity="0.93"/>
<ellipse cx="225.7" cy="889.41" rx="3.1" ry="3.7" fill="url(#dot)" opacity="1.00"/>
<ellipse cx="237.9" cy="889.41" rx="3.1" ry="3.7" fill="url(#dot)" opacity="1.00"/>
<ellipse cx="250.1" cy="889.41" rx="3.1" ry="3.7" fill="url(#dot)" opacity="1.00"/>
<ellipse cx="262.3" cy="889.41" rx="3.1" ry="3.7" fill="url(#dot)" opacity="1.00"/>
<ellipse cx="274.5" cy="889.41" rx="3.1" ry="3.7" fill="url(#dot)" opacity="1.00"/>
<ellipse cx="286.7" cy="889.41" rx="3.1" ry="3.7" fill="url(#dot)" opacity="1.00"/>
<ellipse cx="298.9" cy="889.41" rx="3.1" ry="3.7" fill="url(#dot)" opacity="1.00"/>
<ellipse cx="311.1" cy="889.41" rx="3.1" ry="3.7" fill="url(#dot)" opacity="0.85"/>
<ellipse cx="323.3" cy="889.41" rx="3.1" ry="3.7" fill="url(#dot)" opacity="0.61"/>
<ellipse cx="42.7" cy="901.58" rx="3.1" ry="3.7" fill="url(#dot)" opacity="0.26"/>
<ellipse cx="54.9" cy="901.58" rx="3.1" ry="3.7" fill="url(#dot)" opacity="0.21"/>
<ellipse cx="67.1" cy="901.58" rx="3.1" ry="3.7" fill="url(#dot)" opacity="0.16"/>
<ellipse cx="79.3" cy="901.58" rx="3.1" ry="3.7" fill="url(#dot)" opacity="0.12"/>
<ellipse cx="91.5" cy="901.58" rx="3.1" ry="3.7" fill="url(#dot)" opacity="0.12"/>
<ellipse cx="103.7" cy="901.58" rx="3.1" ry="3.7" fill="url(#dot)" opacity="0.07"/>
<ellipse cx="115.9" cy="901.58" rx="3.1" ry="3.7" fill="url(#dot)" opacity="0.07"/>
<ellipse cx="128.1" cy="901.58" rx="3.1" ry="3.7" fill="url(#dot)" opacity="0.07"/>
<ellipse cx="140.3" cy="901.58" rx="3.1" ry="3.7" fill="url(#dot)" opacity="0.09"/>
<ellipse cx="152.5" cy="901.58" rx="3.1" ry="3.7" fill="url(#dot)" opacity="0.12"/>
<ellipse cx="164.7" cy="901.58" rx="3.1" ry="3.7" fill="url(#dot)" opacity="0.16"/>
<ellipse cx="176.9" cy="901.58" rx="3.1" ry="3.7" fill="url(#dot)" opacity="0.21"/>
<ellipse cx="189.1" cy="901.58" rx="3.1" ry="3.7" fill="url(#dot)" opacity="0.37"/>
<ellipse cx="201.3" cy="901.58" rx="3.1" ry="3.7" fill="url(#dot)" opacity="0.47"/>
<ellipse cx="213.5" cy="901.58" rx="3.1" ry="3.7" fill="url(#dot)" opacity="0.56"/>
<ellipse cx="225.7" cy="901.58" rx="3.1" ry="3.7" fill="url(#dot)" opacity="0.71"/>
<ellipse cx="237.9" cy="901.58" rx="3.1" ry="3.7" fill="url(#dot)" opacity="0.95"/>
<ellipse cx="250.1" cy="901.58" rx="3.1" ry="3.7" fill="url(#dot)" opacity="1.00"/>
<ellipse cx="262.3" cy="901.58" rx="3.1" ry="3.7" fill="url(#dot)" opacity="1.00"/>
<ellipse cx="274.5" cy="901.58" rx="3.1" ry="3.7" fill="url(#dot)" opacity="1.00"/>
<ellipse cx="286.7" cy="901.58" rx="3.1" ry="3.7" fill="url(#dot)" opacity="1.00"/>
<ellipse cx="298.9" cy="901.58" rx="3.1" ry="3.7" fill="url(#dot)" opacity="1.00"/>
<ellipse cx="311.1" cy="901.58" rx="3.1" ry="3.7" fill="url(#dot)" opacity="1.00"/>
<ellipse cx="323.3" cy="901.58" rx="3.1" ry="3.7" fill="url(#dot)" opacity="1.00"/>
<ellipse cx="42.7" cy="913.75" rx="3.1" ry="3.7" fill="url(#dot)" opacity="1.00"/>
<ellipse cx="54.9" cy="913.75" rx="3.1" ry="3.7" fill="url(#dot)" opacity="1.00"/>
<ellipse cx="67.1" cy="913.75" rx="3.1" ry="3.7" fill="url(#dot)" opacity="1.00"/>
<ellipse cx="79.3" cy="913.75" rx="3.1" ry="3.7" fill="url(#dot)" opacity="0.85"/>
<ellipse cx="91.5" cy="913.75" rx="3.1" ry="3.7" fill="url(#dot)" opacity="0.66"/>
<ellipse cx="103.7" cy="913.75" rx="3.1" ry="3.7" fill="url(#dot)" opacity="0.47"/>
<ellipse cx="115.9" cy="913.75" rx="3.1" ry="3.7" fill="url(#dot)" opacity="0.26"/>
<ellipse cx="128.1" cy="913.75" rx="3.1" ry="3.7" fill="url(#dot)" opacity="0.21"/>
<ellipse cx="140.3" cy="913.75" rx="3.1" ry="3.7" fill="url(#dot)" opacity="0.19"/>
<ellipse cx="152.5" cy="913.75" rx="3.1" ry="3.7" fill="url(#dot)" opacity="0.16"/>
<ellipse cx="164.7" cy="913.75" rx="3.1" ry="3.7" fill="url(#dot)" opacity="0.16"/>
<ellipse cx="176.9" cy="913.75" rx="3.1" ry="3.7" fill="url(#dot)" opacity="0.16"/>
<ellipse cx="189.1" cy="913.75" rx="3.1" ry="3.7" fill="url(#dot)" opacity="0.21"/>
<ellipse cx="201.3" cy="913.75" rx="3.1" ry="3.7" fill="url(#dot)" opacity="0.29"/>
<ellipse cx="213.5" cy="913.75" rx="3.1" ry="3.7" fill="url(#dot)" opacity="0.47"/>
<ellipse cx="225.7" cy="913.75" rx="3.1" ry="3.7" fill="url(#dot)" opacity="0.61"/>
<ellipse cx="237.9" cy="913.75" rx="3.1" ry="3.7" fill="url(#dot)" opacity="0.76"/>
<ellipse cx="250.1" cy="913.75" rx="3.1" ry="3.7" fill="url(#dot)" opacity="0.90"/>
<ellipse cx="262.3" cy="913.75" rx="3.1" ry="3.7" fill="url(#dot)" opacity="1.00"/>
<ellipse cx="274.5" cy="913.75" rx="3.1" ry="3.7" fill="url(#dot)" opacity="1.00"/>
<ellipse cx="286.7" cy="913.75" rx="3.1" ry="3.7" fill="url(#dot)" opacity="1.00"/>
<ellipse cx="298.9" cy="913.75" rx="3.1" ry="3.7" fill="url(#dot)" opacity="1.00"/>
<ellipse cx="311.1" cy="913.75" rx="3.1" ry="3.7" fill="url(#dot)" opacity="1.00"/>
<ellipse cx="323.3" cy="913.75" rx="3.1" ry="3.7" fill="url(#dot)" opacity="1.00"/>
<ellipse cx="42.7" cy="925.92" rx="3.1" ry="3.7" fill="url(#dot)" opacity="1.00"/>
<ellipse cx="54.9" cy="925.92" rx="3.1" ry="3.7" fill="url(#dot)" opacity="0.93"/>
<ellipse cx="67.1" cy="925.92" rx="3.1" ry="3.7" fill="url(#dot)" opacity="0.80"/>
<ellipse cx="79.3" cy="925.92" rx="3.1" ry="3.7" fill="url(#dot)" opacity="0.71"/>
<ellipse cx="91.5" cy="925.92" rx="3.1" ry="3.7" fill="url(#dot)" opacity="0.56"/>
<ellipse cx="103.7" cy="925.92" rx="3.1" ry="3.7" fill="url(#dot)" opacity="0.42"/>
<ellipse cx="115.9" cy="925.92" rx="3.1" ry="3.7" fill="url(#dot)" opacity="0.24"/>
<ellipse cx="128.1" cy="925.92" rx="3.1" ry="3.7" fill="url(#dot)" opacity="0.19"/>
<ellipse cx="140.3" cy="925.92" rx="3.1" ry="3.7" fill="url(#dot)" opacity="0.16"/>
<ellipse cx="152.5" cy="925.92" rx="3.1" ry="3.7" fill="url(#dot)" opacity="0.14"/>
<ellipse cx="164.7" cy="925.92" rx="3.1" ry="3.7" fill="url(#dot)" opacity="0.12"/>
<ellipse cx="176.9" cy="925.92" rx="3.1" ry="3.7" fill="url(#dot)" opacity="0.12"/>
<ellipse cx="189.1" cy="925.92" rx="3.1" ry="3.7" fill="url(#dot)" opacity="0.12"/>
<ellipse cx="201.3" cy="925.92" rx="3.1" ry="3.7" fill="url(#dot)" opacity="0.12"/>
<ellipse cx="213.5" cy="925.92" rx="3.1" ry="3.7" fill="url(#dot)" opacity="0.16"/>
<ellipse cx="225.7" cy="925.92" rx="3.1" ry="3.7" fill="url(#dot)" opacity="0.26"/>
<ellipse cx="237.9" cy="925.92" rx="3.1" ry="3.7" fill="url(#dot)" opacity="0.42"/>
<ellipse cx="250.1" cy="925.92" rx="3.1" ry="3.7" fill="url(#dot)" opacity="0.56"/>
<ellipse cx="262.3" cy="925.92" rx="3.1" ry="3.7" fill="url(#dot)" opacity="0.76"/>
<ellipse cx="274.5" cy="925.92" rx="3.1" ry="3.7" fill="url(#dot)" opacity="0.90"/>
<ellipse cx="286.7" cy="925.92" rx="3.1" ry="3.7" fill="url(#dot)" opacity="1.00"/>
<ellipse cx="298.9" cy="925.92" rx="3.1" ry="3.7" fill="url(#dot)" opacity="1.00"/>
<ellipse cx="311.1" cy="925.92" rx="3.1" ry="3.7" fill="url(#dot)" opacity="1.00"/>
<ellipse cx="323.3" cy="925.92" rx="3.1" ry="3.7" fill="url(#dot)" opacity="1.00"/>
<ellipse cx="42.7" cy="938.09" rx="3.1" ry="3.7" fill="url(#dot)" opacity="1.00"/>
<ellipse cx="54.9" cy="938.09" rx="3.1" ry="3.7" fill="url(#dot)" opacity="1.00"/>
<ellipse cx="67.1" cy="938.09" rx="3.1" ry="3.7" fill="url(#dot)" opacity="1.00"/>
<ellipse cx="79.3" cy="938.09" rx="3.1" ry="3.7" fill="url(#dot)" opacity="1.00"/>
<ellipse cx="91.5" cy="938.09" rx="3.1" ry="3.7" fill="url(#dot)" opacity="1.00"/>
<ellipse cx="103.7" cy="938.09" rx="3.1" ry="3.7" fill="url(#dot)" opacity="0.90"/>
<ellipse cx="115.9" cy="938.09" rx="3.1" ry="3.7" fill="url(#dot)" opacity="0.71"/>
<ellipse cx="128.1" cy="938.09" rx="3.1" ry="3.7" fill="url(#dot)" opacity="0.56"/>
<ellipse cx="140.3" cy="938.09" rx="3.1" ry="3.7" fill="url(#dot)" opacity="0.42"/>
<ellipse cx="152.5" cy="938.09" rx="3.1" ry="3.7" fill="url(#dot)" opacity="0.37"/>
<ellipse cx="164.7" cy="938.09" rx="3.1" ry="3.7" fill="url(#dot)" opacity="0.24"/>
<ellipse cx="176.9" cy="938.09" rx="3.1" ry="3.7" fill="url(#dot)" opacity="0.19"/>
<ellipse cx="189.1" cy="938.09" rx="3.1" ry="3.7" fill="url(#dot)" opacity="0.16"/>
<ellipse cx="201.3" cy="938.09" rx="3.1" ry="3.7" fill="url(#dot)" opacity="0.19"/>
<ellipse cx="213.5" cy="938.09" rx="3.1" ry="3.7" fill="url(#dot)" opacity="0.21"/>
<ellipse cx="225.7" cy="938.09" rx="3.1" ry="3.7" fill="url(#dot)" opacity="0.26"/>
<ellipse cx="237.9" cy="938.09" rx="3.1" ry="3.7" fill="url(#dot)" opacity="0.37"/>
<ellipse cx="250.1" cy="938.09" rx="3.1" ry="3.7" fill="url(#dot)" opacity="0.47"/>
<ellipse cx="262.3" cy="938.09" rx="3.1" ry="3.7" fill="url(#dot)" opacity="0.56"/>
<ellipse cx="274.5" cy="938.09" rx="3.1" ry="3.7" fill="url(#dot)" opacity="0.66"/>
<ellipse cx="286.7" cy="938.09" rx="3.1" ry="3.7" fill="url(#dot)" opacity="0.71"/>
<ellipse cx="298.9" cy="938.09" rx="3.1" ry="3.7" fill="url(#dot)" opacity="0.71"/>
<ellipse cx="311.1" cy="938.09" rx="3.1" ry="3.7" fill="url(#dot)" opacity="0.71"/>
<ellipse cx="323.3" cy="938.09" rx="3.1" ry="3.7" fill="url(#dot)" opacity="0.66"/>
<ellipse cx="42.7" cy="950.26" rx="3.1" ry="3.7" fill="url(#dot)" opacity="0.51"/>
<ellipse cx="54.9" cy="950.26" rx="3.1" ry="3.7" fill="url(#dot)" opacity="0.51"/>
<ellipse cx="67.1" cy="950.26" rx="3.1" ry="3.7" fill="url(#dot)" opacity="0.51"/>
<ellipse cx="79.3" cy="950.26" rx="3.1" ry="3.7" fill="url(#dot)" opacity="0.51"/>
<ellipse cx="91.5" cy="950.26" rx="3.1" ry="3.7" fill="url(#dot)" opacity="0.51"/>
<ellipse cx="103.7" cy="950.26" rx="3.1" ry="3.7" fill="url(#dot)" opacity="0.51"/>
<ellipse cx="115.9" cy="950.26" rx="3.1" ry="3.7" fill="url(#dot)" opacity="0.49"/>
<ellipse cx="128.1" cy="950.26" rx="3.1" ry="3.7" fill="url(#dot)" opacity="0.49"/>
<ellipse cx="140.3" cy="950.26" rx="3.1" ry="3.7" fill="url(#dot)" opacity="0.49"/>
<ellipse cx="152.5" cy="950.26" rx="3.1" ry="3.7" fill="url(#dot)" opacity="0.49"/>
<ellipse cx="164.7" cy="950.26" rx="3.1" ry="3.7" fill="url(#dot)" opacity="0.49"/>
<ellipse cx="176.9" cy="950.26" rx="3.1" ry="3.7" fill="url(#dot)" opacity="0.49"/>
<ellipse cx="189.1" cy="950.26" rx="3.1" ry="3.7" fill="url(#dot)" opacity="0.37"/>
<ellipse cx="201.3" cy="950.26" rx="3.1" ry="3.7" fill="url(#dot)" opacity="0.37"/>
<ellipse cx="213.5" cy="950.26" rx="3.1" ry="3.7" fill="url(#dot)" opacity="0.37"/>
<ellipse cx="225.7" cy="950.26" rx="3.1" ry="3.7" fill="url(#dot)" opacity="0.37"/>
<ellipse cx="237.9" cy="950.26" rx="3.1" ry="3.7" fill="url(#dot)" opacity="0.37"/>
<ellipse cx="250.1" cy="950.26" rx="3.1" ry="3.7" fill="url(#dot)" opacity="0.37"/>
<ellipse cx="262.3" cy="950.26" rx="3.1" ry="3.7" fill="url(#dot)" opacity="0.37"/>
<ellipse cx="274.5" cy="950.26" rx="3.1" ry="3.7" fill="url(#dot)" opacity="0.42"/>
<ellipse cx="286.7" cy="950.26" rx="3.1" ry="3.7" fill="url(#dot)" opacity="0.44"/>
<ellipse cx="298.9" cy="950.26" rx="3.1" ry="3.7" fill="url(#dot)" opacity="0.47"/>
<ellipse cx="311.1" cy="950.26" rx="3.1" ry="3.7" fill="url(#dot)" opacity="0.56"/>
<ellipse cx="323.3" cy="950.26" rx="3.1" ry="3.7" fill="url(#dot)" opacity="0.51"/>
<rect x="38.9" y="1006.9" width="292.9" height="108.6" fill="#0c0c0c"/>
<line x1="40" y1="1080.5" x2="331" y2="1080.5" stroke="#3a3a3a" stroke-width="1.6" stroke-dasharray="7 5"/>
<ellipse cx="45.2" cy="1012.8" rx="3.4" ry="3.6" fill="url(#dot)" opacity="0.89"/>
<ellipse cx="57.4" cy="1012.8" rx="3.4" ry="3.6" fill="url(#dot)" opacity="0.90"/>
<ellipse cx="69.6" cy="1012.8" rx="3.4" ry="3.6" fill="url(#dot)" opacity="0.91"/>
<ellipse cx="81.8" cy="1012.8" rx="3.4" ry="3.6" fill="url(#dot)" opacity="0.92"/>
<ellipse cx="94" cy="1012.8" rx="3.4" ry="3.6" fill="url(#dot)" opacity="0.93"/>
<ellipse cx="106.2" cy="1012.8" rx="3.4" ry="3.6" fill="url(#dot)" opacity="0.94"/>
<ellipse cx="118.4" cy="1012.8" rx="3.4" ry="3.6" fill="url(#dot)" opacity="0.94"/>
<ellipse cx="130.6" cy="1012.8" rx="3.4" ry="3.6" fill="url(#dot)" opacity="0.95"/>
<ellipse cx="142.8" cy="1012.8" rx="3.4" ry="3.6" fill="url(#dot)" opacity="0.96"/>
<ellipse cx="155" cy="1012.8" rx="3.4" ry="3.6" fill="url(#dot)" opacity="0.97"/>
<ellipse cx="167.2" cy="1012.8" rx="3.4" ry="3.6" fill="url(#dot)" opacity="0.98"/>
<ellipse cx="179.4" cy="1012.8" rx="3.4" ry="3.6" fill="url(#dot)" opacity="0.99"/>
<ellipse cx="191.6" cy="1012.8" rx="3.4" ry="3.6" fill="url(#dot)" opacity="0.89"/>
<ellipse cx="203.8" cy="1012.8" rx="3.4" ry="3.6" fill="url(#dot)" opacity="0.90"/>
<ellipse cx="216" cy="1012.8" rx="3.4" ry="3.6" fill="url(#dot)" opacity="0.91"/>
<ellipse cx="228.2" cy="1012.8" rx="3.4" ry="3.6" fill="url(#dot)" opacity="0.92"/>
<ellipse cx="240.4" cy="1012.8" rx="3.4" ry="3.6" fill="url(#dot)" opacity="0.93"/>
<ellipse cx="252.6" cy="1012.8" rx="3.4" ry="3.6" fill="url(#dot)" opacity="0.94"/>
<ellipse cx="264.8" cy="1012.8" rx="3.4" ry="3.6" fill="url(#dot)" opacity="0.95"/>
<ellipse cx="277" cy="1012.8" rx="3.4" ry="3.6" fill="url(#dot)" opacity="0.96"/>
<ellipse cx="289.2" cy="1012.8" rx="3.4" ry="3.6" fill="url(#dot)" opacity="0.97"/>
<ellipse cx="301.4" cy="1012.8" rx="3.4" ry="3.6" fill="url(#dot)" opacity="0.98"/>
<ellipse cx="313.6" cy="1012.8" rx="3.4" ry="3.6" fill="url(#dot)" opacity="0.99"/>
<ellipse cx="325.8" cy="1012.8" rx="3.4" ry="3.6" fill="url(#dot)" opacity="0.89"/>
<ellipse cx="45.2" cy="1025.08" rx="3.4" ry="3.6" fill="url(#dot)" opacity="0.96"/>
<ellipse cx="57.4" cy="1025.08" rx="3.4" ry="3.6" fill="url(#dot)" opacity="0.94"/>
<ellipse cx="69.6" cy="1025.08" rx="3.4" ry="3.6" fill="url(#dot)" opacity="0.93"/>
<ellipse cx="81.8" cy="1025.08" rx="3.4" ry="3.6" fill="url(#dot)" opacity="0.91"/>
<ellipse cx="94" cy="1025.08" rx="3.4" ry="3.6" fill="url(#dot)" opacity="0.89"/>
<ellipse cx="106.2" cy="1025.08" rx="3.4" ry="3.6" fill="url(#dot)" opacity="0.98"/>
<ellipse cx="118.4" cy="1025.08" rx="3.4" ry="3.6" fill="url(#dot)" opacity="0.96"/>
<ellipse cx="130.6" cy="1025.08" rx="3.4" ry="3.6" fill="url(#dot)" opacity="0.94"/>
<ellipse cx="142.8" cy="1025.08" rx="3.4" ry="3.6" fill="url(#dot)" opacity="0.92"/>
<ellipse cx="155" cy="1025.08" rx="3.4" ry="3.6" fill="url(#dot)" opacity="0.90"/>
<ellipse cx="167.2" cy="1025.08" rx="3.4" ry="3.6" fill="url(#dot)" opacity="0.99"/>
<ellipse cx="179.4" cy="1025.08" rx="3.4" ry="3.6" fill="url(#dot)" opacity="0.97"/>
<ellipse cx="191.6" cy="1025.08" rx="3.4" ry="3.6" fill="url(#dot)" opacity="0.95"/>
<ellipse cx="203.8" cy="1025.08" rx="3.4" ry="3.6" fill="url(#dot)" opacity="0.94"/>
<ellipse cx="216" cy="1025.08" rx="3.4" ry="3.6" fill="url(#dot)" opacity="0.92"/>
<ellipse cx="228.2" cy="1025.08" rx="3.4" ry="3.6" fill="url(#dot)" opacity="0.90"/>
<ellipse cx="240.4" cy="1025.08" rx="3.4" ry="3.6" fill="url(#dot)" opacity="0.99"/>
<ellipse cx="252.6" cy="1025.08" rx="3.4" ry="3.6" fill="url(#dot)" opacity="0.97"/>
<ellipse cx="264.8" cy="1025.08" rx="3.4" ry="3.6" fill="url(#dot)" opacity="0.95"/>
<ellipse cx="277" cy="1025.08" rx="3.4" ry="3.6" fill="url(#dot)" opacity="0.93"/>
<ellipse cx="289.2" cy="1025.08" rx="3.4" ry="3.6" fill="url(#dot)" opacity="0.91"/>
<ellipse cx="301.4" cy="1025.08" rx="3.4" ry="3.6" fill="url(#dot)" opacity="0.89"/>
<ellipse cx="313.6" cy="1025.08" rx="3.4" ry="3.6" fill="url(#dot)" opacity="0.98"/>
<ellipse cx="325.8" cy="1025.08" rx="3.4" ry="3.6" fill="url(#dot)" opacity="0.96"/>
<ellipse cx="45.2" cy="1037.36" rx="3.4" ry="3.6" fill="url(#dot)" opacity="0.93"/>
<ellipse cx="57.4" cy="1037.36" rx="3.4" ry="3.6" fill="url(#dot)" opacity="0.99"/>
<ellipse cx="69.6" cy="1037.36" rx="3.4" ry="3.6" fill="url(#dot)" opacity="0.94"/>
<ellipse cx="81.8" cy="1037.36" rx="3.4" ry="3.6" fill="url(#dot)" opacity="0.90"/>
<ellipse cx="94" cy="1037.36" rx="3.4" ry="3.6" fill="url(#dot)" opacity="0.96"/>
<ellipse cx="106.2" cy="1037.36" rx="3.4" ry="3.6" fill="url(#dot)" opacity="0.91"/>
<ellipse cx="118.4" cy="1037.36" rx="3.4" ry="3.6" fill="url(#dot)" opacity="0.97"/>
<ellipse cx="130.6" cy="1037.36" rx="3.4" ry="3.6" fill="url(#dot)" opacity="0.93"/>
<ellipse cx="142.8" cy="1037.36" rx="3.4" ry="3.6" fill="url(#dot)" opacity="0.99"/>
<ellipse cx="155" cy="1037.36" rx="3.4" ry="3.6" fill="url(#dot)" opacity="0.94"/>
<ellipse cx="167.2" cy="1037.36" rx="3.4" ry="3.6" fill="url(#dot)" opacity="0.89"/>
<ellipse cx="179.4" cy="1037.36" rx="3.4" ry="3.6" fill="url(#dot)" opacity="0.95"/>
<ellipse cx="191.6" cy="1037.36" rx="3.4" ry="3.6" fill="url(#dot)" opacity="0.91"/>
<ellipse cx="203.8" cy="1037.36" rx="3.4" ry="3.6" fill="url(#dot)" opacity="0.97"/>
<ellipse cx="216" cy="1037.36" rx="3.4" ry="3.6" fill="url(#dot)" opacity="0.92"/>
<ellipse cx="228.2" cy="1037.36" rx="3.4" ry="3.6" fill="url(#dot)" opacity="0.98"/>
<ellipse cx="240.4" cy="1037.36" rx="3.4" ry="3.6" fill="url(#dot)" opacity="0.94"/>
<ellipse cx="252.6" cy="1037.36" rx="3.4" ry="3.6" fill="url(#dot)" opacity="0.89"/>
<ellipse cx="264.8" cy="1037.36" rx="3.4" ry="3.6" fill="url(#dot)" opacity="0.95"/>
<ellipse cx="277" cy="1037.36" rx="3.4" ry="3.6" fill="url(#dot)" opacity="0.90"/>
<ellipse cx="289.2" cy="1037.36" rx="3.4" ry="3.6" fill="url(#dot)" opacity="0.96"/>
<ellipse cx="301.4" cy="1037.36" rx="3.4" ry="3.6" fill="url(#dot)" opacity="0.92"/>
<ellipse cx="313.6" cy="1037.36" rx="3.4" ry="3.6" fill="url(#dot)" opacity="0.98"/>
<ellipse cx="325.8" cy="1037.36" rx="3.4" ry="3.6" fill="url(#dot)" opacity="0.93"/>
<ellipse cx="45.2" cy="1049.64" rx="3.4" ry="3.6" fill="url(#dot)" opacity="0.90"/>
<ellipse cx="57.4" cy="1049.64" rx="3.4" ry="3.6" fill="url(#dot)" opacity="0.93"/>
<ellipse cx="69.6" cy="1049.64" rx="3.4" ry="3.6" fill="url(#dot)" opacity="0.96"/>
<ellipse cx="81.8" cy="1049.64" rx="3.4" ry="3.6" fill="url(#dot)" opacity="0.89"/>
<ellipse cx="94" cy="1049.64" rx="3.4" ry="3.6" fill="url(#dot)" opacity="0.92"/>
<ellipse cx="106.2" cy="1049.64" rx="3.4" ry="3.6" fill="url(#dot)" opacity="0.95"/>
<ellipse cx="118.4" cy="1049.64" rx="3.4" ry="3.6" fill="url(#dot)" opacity="0.99"/>
<ellipse cx="130.6" cy="1049.64" rx="3.4" ry="3.6" fill="url(#dot)" opacity="0.91"/>
<ellipse cx="142.8" cy="1049.64" rx="3.4" ry="3.6" fill="url(#dot)" opacity="0.94"/>
<ellipse cx="155" cy="1049.64" rx="3.4" ry="3.6" fill="url(#dot)" opacity="0.98"/>
<ellipse cx="167.2" cy="1049.64" rx="3.4" ry="3.6" fill="url(#dot)" opacity="0.90"/>
<ellipse cx="179.4" cy="1049.64" rx="3.4" ry="3.6" fill="url(#dot)" opacity="0.94"/>
<ellipse cx="191.6" cy="1049.64" rx="3.4" ry="3.6" fill="url(#dot)" opacity="0.97"/>
<ellipse cx="203.8" cy="1049.64" rx="3.4" ry="3.6" fill="url(#dot)" opacity="0.89"/>
<ellipse cx="216" cy="1049.64" rx="3.4" ry="3.6" fill="url(#dot)" opacity="0.93"/>
<ellipse cx="228.2" cy="1049.64" rx="3.4" ry="3.6" fill="url(#dot)" opacity="0.96"/>
<ellipse cx="240.4" cy="1049.64" rx="3.4" ry="3.6" fill="url(#dot)" opacity="0.99"/>
<ellipse cx="252.6" cy="1049.64" rx="3.4" ry="3.6" fill="url(#dot)" opacity="0.92"/>
<ellipse cx="264.8" cy="1049.64" rx="3.4" ry="3.6" fill="url(#dot)" opacity="0.95"/>
<ellipse cx="277" cy="1049.64" rx="3.4" ry="3.6" fill="url(#dot)" opacity="0.98"/>
<ellipse cx="289.2" cy="1049.64" rx="3.4" ry="3.6" fill="url(#dot)" opacity="0.91"/>
<ellipse cx="301.4" cy="1049.64" rx="3.4" ry="3.6" fill="url(#dot)" opacity="0.94"/>
<ellipse cx="313.6" cy="1049.64" rx="3.4" ry="3.6" fill="url(#dot)" opacity="0.97"/>
<ellipse cx="325.8" cy="1049.64" rx="3.4" ry="3.6" fill="url(#dot)" opacity="0.90"/>
<ellipse cx="45.2" cy="1061.92" rx="3.4" ry="3.6" fill="url(#dot)" opacity="0.97"/>
<ellipse cx="57.4" cy="1061.92" rx="3.4" ry="3.6" fill="url(#dot)" opacity="0.98"/>
<ellipse cx="69.6" cy="1061.92" rx="3.4" ry="3.6" fill="url(#dot)" opacity="0.98"/>
<ellipse cx="81.8" cy="1061.92" rx="3.4" ry="3.6" fill="url(#dot)" opacity="0.99"/>
<ellipse cx="94" cy="1061.92" rx="3.4" ry="3.6" fill="url(#dot)" opacity="0.99"/>
<ellipse cx="106.2" cy="1061.92" rx="3.4" ry="3.6" fill="url(#dot)" opacity="0.89"/>
<ellipse cx="118.4" cy="1061.92" rx="3.4" ry="3.6" fill="url(#dot)" opacity="0.89"/>
<ellipse cx="130.6" cy="1061.92" rx="3.4" ry="3.6" fill="url(#dot)" opacity="0.90"/>
<ellipse cx="142.8" cy="1061.92" rx="3.4" ry="3.6" fill="url(#dot)" opacity="0.90"/>
<ellipse cx="155" cy="1061.92" rx="3.4" ry="3.6" fill="url(#dot)" opacity="0.91"/>
<ellipse cx="167.2" cy="1061.92" rx="3.4" ry="3.6" fill="url(#dot)" opacity="0.91"/>
<ellipse cx="179.4" cy="1061.92" rx="3.4" ry="3.6" fill="url(#dot)" opacity="0.92"/>
<ellipse cx="191.6" cy="1061.92" rx="3.4" ry="3.6" fill="url(#dot)" opacity="0.92"/>
<ellipse cx="203.8" cy="1061.92" rx="3.4" ry="3.6" fill="url(#dot)" opacity="0.93"/>
<ellipse cx="216" cy="1061.92" rx="3.4" ry="3.6" fill="url(#dot)" opacity="0.93"/>
<ellipse cx="228.2" cy="1061.92" rx="3.4" ry="3.6" fill="url(#dot)" opacity="0.94"/>
<ellipse cx="240.4" cy="1061.92" rx="3.4" ry="3.6" fill="url(#dot)" opacity="0.94"/>
<ellipse cx="252.6" cy="1061.92" rx="3.4" ry="3.6" fill="url(#dot)" opacity="0.94"/>
<ellipse cx="264.8" cy="1061.92" rx="3.4" ry="3.6" fill="url(#dot)" opacity="0.95"/>
<ellipse cx="277" cy="1061.92" rx="3.4" ry="3.6" fill="url(#dot)" opacity="0.95"/>
<ellipse cx="289.2" cy="1061.92" rx="3.4" ry="3.6" fill="url(#dot)" opacity="0.96"/>
<ellipse cx="301.4" cy="1061.92" rx="3.4" ry="3.6" fill="url(#dot)" opacity="0.96"/>
<ellipse cx="313.6" cy="1061.92" rx="3.4" ry="3.6" fill="url(#dot)" opacity="0.97"/>
<ellipse cx="325.8" cy="1061.92" rx="3.4" ry="3.6" fill="url(#dot)" opacity="0.97"/>
<ellipse cx="45.2" cy="1074.2" rx="3.4" ry="3.6" fill="url(#dot)" opacity="0.94"/>
<ellipse cx="57.4" cy="1074.2" rx="3.4" ry="3.6" fill="url(#dot)" opacity="0.92"/>
<ellipse cx="69.6" cy="1074.2" rx="3.4" ry="3.6" fill="url(#dot)" opacity="0.89"/>
<ellipse cx="81.8" cy="1074.2" rx="3.4" ry="3.6" fill="url(#dot)" opacity="0.98"/>
<ellipse cx="94" cy="1074.2" rx="3.4" ry="3.6" fill="url(#dot)" opacity="0.95"/>
<ellipse cx="106.2" cy="1074.2" rx="3.4" ry="3.6" fill="url(#dot)" opacity="0.93"/>
<ellipse cx="118.4" cy="1074.2" rx="3.4" ry="3.6" fill="url(#dot)" opacity="0.91"/>
<ellipse cx="130.6" cy="1074.2" rx="3.4" ry="3.6" fill="url(#dot)" opacity="0.99"/>
<ellipse cx="142.8" cy="1074.2" rx="3.4" ry="3.6" fill="url(#dot)" opacity="0.97"/>
<ellipse cx="155" cy="1074.2" rx="3.4" ry="3.6" fill="url(#dot)" opacity="0.94"/>
<ellipse cx="167.2" cy="1074.2" rx="3.4" ry="3.6" fill="url(#dot)" opacity="0.92"/>
<ellipse cx="179.4" cy="1074.2" rx="3.4" ry="3.6" fill="url(#dot)" opacity="0.90"/>
<ellipse cx="191.6" cy="1074.2" rx="3.4" ry="3.6" fill="url(#dot)" opacity="0.98"/>
<ellipse cx="203.8" cy="1074.2" rx="3.4" ry="3.6" fill="url(#dot)" opacity="0.96"/>
<ellipse cx="216" cy="1074.2" rx="3.4" ry="3.6" fill="url(#dot)" opacity="0.94"/>
<ellipse cx="228.2" cy="1074.2" rx="3.4" ry="3.6" fill="url(#dot)" opacity="0.91"/>
<ellipse cx="240.4" cy="1074.2" rx="3.4" ry="3.6" fill="url(#dot)" opacity="0.89"/>
<ellipse cx="252.6" cy="1074.2" rx="3.4" ry="3.6" fill="url(#dot)" opacity="0.97"/>
<ellipse cx="264.8" cy="1074.2" rx="3.4" ry="3.6" fill="url(#dot)" opacity="0.95"/>
<ellipse cx="277" cy="1074.2" rx="3.4" ry="3.6" fill="url(#dot)" opacity="0.93"/>
<ellipse cx="289.2" cy="1074.2" rx="3.4" ry="3.6" fill="url(#dot)" opacity="0.90"/>
<ellipse cx="301.4" cy="1074.2" rx="3.4" ry="3.6" fill="url(#dot)" opacity="0.99"/>
<ellipse cx="313.6" cy="1074.2" rx="3.4" ry="3.6" fill="url(#dot)" opacity="0.96"/>
<ellipse cx="325.8" cy="1074.2" rx="3.4" ry="3.6" fill="url(#dot)" opacity="0.94"/>
<ellipse cx="45.2" cy="1086.48" rx="3.4" ry="3.6" fill="url(#dot)" opacity="0.91"/>
<ellipse cx="57.4" cy="1086.48" rx="3.4" ry="3.6" fill="url(#dot)" opacity="0.96"/>
<ellipse cx="69.6" cy="1086.48" rx="3.4" ry="3.6" fill="url(#dot)" opacity="0.91"/>
<ellipse cx="81.8" cy="1086.48" rx="3.4" ry="3.6" fill="url(#dot)" opacity="0.97"/>
<ellipse cx="94" cy="1086.48" rx="3.4" ry="3.6" fill="url(#dot)" opacity="0.92"/>
<ellipse cx="106.2" cy="1086.48" rx="3.4" ry="3.6" fill="url(#dot)" opacity="0.97"/>
<ellipse cx="118.4" cy="1086.48" rx="3.4" ry="3.6" fill="url(#dot)" opacity="0.92"/>
<ellipse cx="130.6" cy="1086.48" rx="3.4" ry="3.6" fill="url(#dot)" opacity="0.98"/>
<ellipse cx="142.8" cy="1086.48" rx="3.4" ry="3.6" fill="url(#dot)" opacity="0.93"/>
<ellipse cx="155" cy="1086.48" rx="3.4" ry="3.6" fill="url(#dot)" opacity="0.98"/>
<ellipse cx="167.2" cy="1086.48" rx="3.4" ry="3.6" fill="url(#dot)" opacity="0.93"/>
<ellipse cx="179.4" cy="1086.48" rx="3.4" ry="3.6" fill="url(#dot)" opacity="0.99"/>
<ellipse cx="191.6" cy="1086.48" rx="3.4" ry="3.6" fill="url(#dot)" opacity="0.94"/>
<ellipse cx="203.8" cy="1086.48" rx="3.4" ry="3.6" fill="url(#dot)" opacity="0.99"/>
<ellipse cx="216" cy="1086.48" rx="3.4" ry="3.6" fill="url(#dot)" opacity="0.94"/>
<ellipse cx="228.2" cy="1086.48" rx="3.4" ry="3.6" fill="url(#dot)" opacity="0.89"/>
<ellipse cx="240.4" cy="1086.48" rx="3.4" ry="3.6" fill="url(#dot)" opacity="0.94"/>
<ellipse cx="252.6" cy="1086.48" rx="3.4" ry="3.6" fill="url(#dot)" opacity="0.89"/>
<ellipse cx="264.8" cy="1086.48" rx="3.4" ry="3.6" fill="url(#dot)" opacity="0.95"/>
<ellipse cx="277" cy="1086.48" rx="3.4" ry="3.6" fill="url(#dot)" opacity="0.90"/>
<ellipse cx="289.2" cy="1086.48" rx="3.4" ry="3.6" fill="url(#dot)" opacity="0.95"/>
<ellipse cx="301.4" cy="1086.48" rx="3.4" ry="3.6" fill="url(#dot)" opacity="0.90"/>
<ellipse cx="313.6" cy="1086.48" rx="3.4" ry="3.6" fill="url(#dot)" opacity="0.96"/>
<ellipse cx="325.8" cy="1086.48" rx="3.4" ry="3.6" fill="url(#dot)" opacity="0.91"/>
<ellipse cx="45.2" cy="1098.76" rx="3.4" ry="3.6" fill="url(#dot)" opacity="0.98"/>
<ellipse cx="57.4" cy="1098.76" rx="3.4" ry="3.6" fill="url(#dot)" opacity="0.90"/>
<ellipse cx="69.6" cy="1098.76" rx="3.4" ry="3.6" fill="url(#dot)" opacity="0.93"/>
<ellipse cx="81.8" cy="1098.76" rx="3.4" ry="3.6" fill="url(#dot)" opacity="0.96"/>
<ellipse cx="94" cy="1098.76" rx="3.4" ry="3.6" fill="url(#dot)" opacity="0.99"/>
<ellipse cx="106.2" cy="1098.76" rx="3.4" ry="3.6" fill="url(#dot)" opacity="0.91"/>
<ellipse cx="118.4" cy="1098.76" rx="3.4" ry="3.6" fill="url(#dot)" opacity="0.94"/>
<ellipse cx="130.6" cy="1098.76" rx="3.4" ry="3.6" fill="url(#dot)" opacity="0.96"/>
<ellipse cx="142.8" cy="1098.76" rx="3.4" ry="3.6" fill="url(#dot)" opacity="0.99"/>
<ellipse cx="155" cy="1098.76" rx="3.4" ry="3.6" fill="url(#dot)" opacity="0.91"/>
<ellipse cx="167.2" cy="1098.76" rx="3.4" ry="3.6" fill="url(#dot)" opacity="0.94"/>
<ellipse cx="179.4" cy="1098.76" rx="3.4" ry="3.6" fill="url(#dot)" opacity="0.97"/>
<ellipse cx="191.6" cy="1098.76" rx="3.4" ry="3.6" fill="url(#dot)" opacity="0.89"/>
<ellipse cx="203.8" cy="1098.76" rx="3.4" ry="3.6" fill="url(#dot)" opacity="0.92"/>
<ellipse cx="216" cy="1098.76" rx="3.4" ry="3.6" fill="url(#dot)" opacity="0.94"/>
<ellipse cx="228.2" cy="1098.76" rx="3.4" ry="3.6" fill="url(#dot)" opacity="0.97"/>
<ellipse cx="240.4" cy="1098.76" rx="3.4" ry="3.6" fill="url(#dot)" opacity="0.89"/>
<ellipse cx="252.6" cy="1098.76" rx="3.4" ry="3.6" fill="url(#dot)" opacity="0.92"/>
<ellipse cx="264.8" cy="1098.76" rx="3.4" ry="3.6" fill="url(#dot)" opacity="0.95"/>
<ellipse cx="277" cy="1098.76" rx="3.4" ry="3.6" fill="url(#dot)" opacity="0.98"/>
<ellipse cx="289.2" cy="1098.76" rx="3.4" ry="3.6" fill="url(#dot)" opacity="0.90"/>
<ellipse cx="301.4" cy="1098.76" rx="3.4" ry="3.6" fill="url(#dot)" opacity="0.93"/>
<ellipse cx="313.6" cy="1098.76" rx="3.4" ry="3.6" fill="url(#dot)" opacity="0.95"/>
<ellipse cx="325.8" cy="1098.76" rx="3.4" ry="3.6" fill="url(#dot)" opacity="0.98"/>
<ellipse cx="45.2" cy="1111.04" rx="3.4" ry="3.6" fill="url(#dot)" opacity="0.95"/>
<ellipse cx="57.4" cy="1111.04" rx="3.4" ry="3.6" fill="url(#dot)" opacity="0.95"/>
<ellipse cx="69.6" cy="1111.04" rx="3.4" ry="3.6" fill="url(#dot)" opacity="0.95"/>
<ellipse cx="81.8" cy="1111.04" rx="3.4" ry="3.6" fill="url(#dot)" opacity="0.95"/>
<ellipse cx="94" cy="1111.04" rx="3.4" ry="3.6" fill="url(#dot)" opacity="0.95"/>
<ellipse cx="106.2" cy="1111.04" rx="3.4" ry="3.6" fill="url(#dot)" opacity="0.95"/>
<ellipse cx="118.4" cy="1111.04" rx="3.4" ry="3.6" fill="url(#dot)" opacity="0.95"/>
<ellipse cx="130.6" cy="1111.04" rx="3.4" ry="3.6" fill="url(#dot)" opacity="0.95"/>
<ellipse cx="142.8" cy="1111.04" rx="3.4" ry="3.6" fill="url(#dot)" opacity="0.95"/>
<ellipse cx="155" cy="1111.04" rx="3.4" ry="3.6" fill="url(#dot)" opacity="0.95"/>
<ellipse cx="167.2" cy="1111.04" rx="3.4" ry="3.6" fill="url(#dot)" opacity="0.95"/>
<ellipse cx="179.4" cy="1111.04" rx="3.4" ry="3.6" fill="url(#dot)" opacity="0.95"/>
<ellipse cx="191.6" cy="1111.04" rx="3.4" ry="3.6" fill="url(#dot)" opacity="0.95"/>
<ellipse cx="203.8" cy="1111.04" rx="3.4" ry="3.6" fill="url(#dot)" opacity="0.95"/>
<ellipse cx="216" cy="1111.04" rx="3.4" ry="3.6" fill="url(#dot)" opacity="0.95"/>
<ellipse cx="228.2" cy="1111.04" rx="3.4" ry="3.6" fill="url(#dot)" opacity="0.95"/>
<ellipse cx="240.4" cy="1111.04" rx="3.4" ry="3.6" fill="url(#dot)" opacity="0.95"/>
<ellipse cx="252.6" cy="1111.04" rx="3.4" ry="3.6" fill="url(#dot)" opacity="0.95"/>
<ellipse cx="264.8" cy="1111.04" rx="3.4" ry="3.6" fill="url(#dot)" opacity="0.95"/>
<ellipse cx="277" cy="1111.04" rx="3.4" ry="3.6" fill="url(#dot)" opacity="0.95"/>
<ellipse cx="289.2" cy="1111.04" rx="3.4" ry="3.6" fill="url(#dot)" opacity="0.95"/>
<ellipse cx="301.4" cy="1111.04" rx="3.4" ry="3.6" fill="url(#dot)" opacity="0.95"/>
<ellipse cx="313.6" cy="1111.04" rx="3.4" ry="3.6" fill="url(#dot)" opacity="0.95"/>
<ellipse cx="325.8" cy="1111.04" rx="3.4" ry="3.6" fill="url(#dot)" opacity="0.95"/>
<text x="31.8" y="859.5" font-size="12" text-anchor="end" stroke="#262626" stroke-width="0.22">0</text>
<text x="31.8" y="955.9" font-size="12" text-anchor="end" stroke="#262626" stroke-width="0.22">8</text>
<text transform="translate(29.6,904) rotate(-90)" font-size="13.5" text-anchor="middle" stroke="#262626" stroke-width="0.22">Day</text>
<text x="34.8" y="1016.4" font-size="12" text-anchor="end" stroke="#262626" stroke-width="0.22">0</text>
<text x="34.8" y="1113" font-size="12" text-anchor="end" stroke="#262626" stroke-width="0.22">8</text>
<text transform="translate(32.6,1057.6) rotate(-90)" font-size="13.5" text-anchor="middle" stroke="#262626" stroke-width="0.22">Day</text>
<text x="42.3" y="970" font-size="11.5" text-anchor="middle" stroke="#262626" stroke-width="0.22">1</text>
<text x="168" y="971.6" font-size="13.5" stroke="#262626" stroke-width="0.22">Hour</text>
<text x="327.6" y="970" font-size="11.5" text-anchor="end" stroke="#262626" stroke-width="0.22">24</text>
<text x="45.2" y="1129.8" font-size="11.5" text-anchor="middle" stroke="#262626" stroke-width="0.22">1</text>
<text x="170" y="1131.5" font-size="13.5" stroke="#262626" stroke-width="0.22">Hour</text>
<text x="330.8" y="1130.3" font-size="11.5" text-anchor="end" stroke="#262626" stroke-width="0.22">24</text>
<rect x="292.8" y="1137.8" width="36" height="2.6" fill="#000"/>
<text x="292.2" y="1152.6" font-size="11.5" fill="#000" stroke="#000" stroke-width="0.22">100µm</text>
<text x="361.4" y="475.2" font-size="21" font-weight="bold" fill="#000">g</text>
<rect x="388.5" y="526.7" width="296" height="47" fill="#CCCCCC"/>
<rect x="388.5" y="619.7" width="296" height="46.6" fill="#CCCCCC"/>
<rect x="388.5" y="488.6" width="296" height="177.7" fill="none" stroke="#333" stroke-width="1.1"/>
<line x1="388.5" y1="526.6" x2="684.5" y2="526.6" stroke="#000" stroke-width="2.2"/>
<line x1="534.6" y1="488.6" x2="534.6" y2="666.3" stroke="#222" stroke-width="1.1"/>
<line x1="388.5" y1="573.6" x2="684.5" y2="573.6" stroke="#bbb" stroke-width="0.0"/>
<text x="461.5" y="512.8" font-size="14" text-anchor="middle" font-weight="bold" fill="#000">Stage</text>
<text x="607.4" y="513" font-size="14" text-anchor="middle" font-weight="bold" fill="#000">Mean±SD cell count</text>
<text x="461.5" y="555.5" font-size="14" text-anchor="middle" fill="#000" stroke="#000" stroke-width="0.22">Cells in 1<tspan font-size="9" dy="-5">st</tspan><tspan dy="5"> time point</tspan></text>
<text x="609.5" y="555.7" font-size="14" text-anchor="middle" fill="#000" stroke="#000" stroke-width="0.22"><tspan font-weight="bold">3286.2</tspan>±348.2</text>
<text x="461.5" y="602.8" font-size="14" text-anchor="middle" fill="#000" stroke="#000" stroke-width="0.22">Fully trackable cells</text>
<text x="609.5" y="593.8" font-size="14" text-anchor="middle" fill="#000" stroke="#000" stroke-width="0.22"><tspan font-weight="bold">912.5</tspan>±100.9</text>
<text x="609.5" y="610.3" font-size="14" text-anchor="middle" fill="#000" stroke="#000" stroke-width="0.22">(0.28±0.021)</text>
<text x="461.5" y="648.8" font-size="14" text-anchor="middle" fill="#000" stroke="#000" stroke-width="0.22">Rhythmic cells</text>
<text x="609.5" y="639.5" font-size="14" text-anchor="middle" fill="#000" stroke="#000" stroke-width="0.22"><tspan font-weight="bold">472.3</tspan>±69.5</text>
<text x="609.5" y="656" font-size="14" text-anchor="middle" fill="#000" stroke="#000" stroke-width="0.22">(0.14±0.016)</text>
<text x="361.2" y="707.5" font-size="21" font-weight="bold" fill="#000">h</text>
<rect x="433.5" y="781.65" width="9.72" height="96.85" fill="#626262" stroke="#000" stroke-width="1"/>
<rect x="443.22" y="804.44" width="9.72" height="74.06" fill="#626262" stroke="#000" stroke-width="1"/>
<rect x="452.94" y="775.95" width="9.72" height="102.55" fill="#626262" stroke="#000" stroke-width="1"/>
<rect x="462.66" y="821.53" width="9.72" height="56.97" fill="#626262" stroke="#000" stroke-width="1"/>
<rect x="472.38" y="770.26" width="9.72" height="108.24" fill="#626262" stroke="#000" stroke-width="1"/>
<rect x="482.1" y="781.65" width="9.72" height="96.85" fill="#626262" stroke="#000" stroke-width="1"/>
<rect x="491.82" y="781.65" width="9.72" height="96.85" fill="#626262" stroke="#000" stroke-width="1"/>
<rect x="501.55" y="736.08" width="9.72" height="142.42" fill="#626262" stroke="#000" stroke-width="1"/>
<rect x="511.27" y="730.38" width="9.72" height="148.12" fill="#626262" stroke="#000" stroke-width="1"/>
<rect x="520.99" y="775.95" width="9.72" height="102.55" fill="#626262" stroke="#000" stroke-width="1"/>
<rect x="530.71" y="781.65" width="9.72" height="96.85" fill="#626262" stroke="#000" stroke-width="1"/>
<rect x="540.43" y="770.26" width="9.72" height="108.24" fill="#626262" stroke="#000" stroke-width="1"/>
<rect x="550.15" y="787.35" width="9.72" height="91.15" fill="#626262" stroke="#000" stroke-width="1"/>
<rect x="559.87" y="758.86" width="9.72" height="119.64" fill="#626262" stroke="#000" stroke-width="1"/>
<rect x="569.59" y="718.98" width="9.72" height="159.52" fill="#626262" stroke="#000" stroke-width="1"/>
<rect x="579.31" y="804.44" width="9.72" height="74.06" fill="#626262" stroke="#000" stroke-width="1"/>
<rect x="589.03" y="810.14" width="9.72" height="68.36" fill="#626262" stroke="#000" stroke-width="1"/>
<rect x="598.75" y="770.26" width="9.72" height="108.24" fill="#626262" stroke="#000" stroke-width="1"/>
<rect x="608.47" y="770.26" width="9.72" height="108.24" fill="#626262" stroke="#000" stroke-width="1"/>
<rect x="618.2" y="804.44" width="9.72" height="74.06" fill="#626262" stroke="#000" stroke-width="1"/>
<rect x="627.92" y="787.35" width="9.72" height="91.15" fill="#626262" stroke="#000" stroke-width="1"/>
<rect x="637.64" y="793.04" width="9.72" height="85.46" fill="#626262" stroke="#000" stroke-width="1"/>
<rect x="647.36" y="787.35" width="9.72" height="91.15" fill="#626262" stroke="#000" stroke-width="1"/>
<rect x="657.08" y="804.44" width="9.72" height="74.06" fill="#626262" stroke="#000" stroke-width="1"/>
<rect x="433.5" y="707.6" width="233.3" height="170.9" fill="none" stroke="#262626" stroke-width="1.1"/>
<line x1="433.5" y1="878.5" x2="436.1" y2="878.5" stroke="#262626" stroke-width="1"/>
<line x1="666.8" y1="878.5" x2="664.2" y2="878.5" stroke="#262626" stroke-width="1"/>
<text x="429.5" y="883.1" font-size="13" text-anchor="end" stroke="#262626" stroke-width="0.22">0</text>
<line x1="433.5" y1="821.53" x2="436.1" y2="821.53" stroke="#262626" stroke-width="1"/>
<line x1="666.8" y1="821.53" x2="664.2" y2="821.53" stroke="#262626" stroke-width="1"/>
<text x="429.5" y="826.13" font-size="13" text-anchor="end" stroke="#262626" stroke-width="0.22">10</text>
<line x1="433.5" y1="764.56" x2="436.1" y2="764.56" stroke="#262626" stroke-width="1"/>
<line x1="666.8" y1="764.56" x2="664.2" y2="764.56" stroke="#262626" stroke-width="1"/>
<text x="429.5" y="769.16" font-size="13" text-anchor="end" stroke="#262626" stroke-width="0.22">20</text>
<line x1="433.5" y1="707.59" x2="436.1" y2="707.59" stroke="#262626" stroke-width="1"/>
<line x1="666.8" y1="707.59" x2="664.2" y2="707.59" stroke="#262626" stroke-width="1"/>
<text x="429.5" y="712.19" font-size="13" text-anchor="end" stroke="#262626" stroke-width="0.22">30</text>
<line x1="433.5" y1="878.5" x2="433.5" y2="875.9" stroke="#262626" stroke-width="1"/>
<line x1="433.5" y1="707.6" x2="433.5" y2="710.2" stroke="#262626" stroke-width="1"/>
<text x="433.5" y="894.8" font-size="13" text-anchor="middle" stroke="#262626" stroke-width="0.22">0</text>
<line x1="550.15" y1="878.5" x2="550.15" y2="875.9" stroke="#262626" stroke-width="1"/>
<line x1="550.15" y1="707.6" x2="550.15" y2="710.2" stroke="#262626" stroke-width="1"/>
<text x="550.15" y="894.8" font-size="13" text-anchor="middle" stroke="#262626" stroke-width="0.22">0.5</text>
<line x1="666.8" y1="878.5" x2="666.8" y2="875.9" stroke="#262626" stroke-width="1"/>
<line x1="666.8" y1="707.6" x2="666.8" y2="710.2" stroke="#262626" stroke-width="1"/>
<text x="666.8" y="894.8" font-size="13" text-anchor="middle" stroke="#262626" stroke-width="0.22">1</text>
<text x="549.8" y="913.1" font-size="15.3" text-anchor="middle" stroke="#262626" stroke-width="0.22">Normalized phase</text>
<text transform="translate(409.3,793) rotate(-90)" font-size="15.3" text-anchor="middle" stroke="#262626" stroke-width="0.22">No. of cells</text>
<text x="361.2" y="933.6" font-size="21" font-weight="bold" fill="#000">i</text>
<rect x="439.3" y="936.4" width="226.5" height="175.1" fill="none" stroke="#262626" stroke-width="1.1"/>
<line x1="439.3" y1="1103.12" x2="441.9" y2="1103.12" stroke="#262626" stroke-width="1"/>
<line x1="665.8" y1="1103.12" x2="663.2" y2="1103.12" stroke="#262626" stroke-width="1"/>
<text x="433.8" y="1108.12" font-size="14.2" text-anchor="end" stroke="#262626" stroke-width="0.22">22</text>
<line x1="439.3" y1="1080.39" x2="441.9" y2="1080.39" stroke="#262626" stroke-width="1"/>
<line x1="665.8" y1="1080.39" x2="663.2" y2="1080.39" stroke="#262626" stroke-width="1"/>
<text x="433.8" y="1085.39" font-size="14.2" text-anchor="end" stroke="#262626" stroke-width="0.22">23</text>
<line x1="439.3" y1="1057.66" x2="441.9" y2="1057.66" stroke="#262626" stroke-width="1"/>
<line x1="665.8" y1="1057.66" x2="663.2" y2="1057.66" stroke="#262626" stroke-width="1"/>
<text x="433.8" y="1062.66" font-size="14.2" text-anchor="end" stroke="#262626" stroke-width="0.22">24</text>
<line x1="439.3" y1="1034.93" x2="441.9" y2="1034.93" stroke="#262626" stroke-width="1"/>
<line x1="665.8" y1="1034.93" x2="663.2" y2="1034.93" stroke="#262626" stroke-width="1"/>
<text x="433.8" y="1039.93" font-size="14.2" text-anchor="end" stroke="#262626" stroke-width="0.22">25</text>
<line x1="439.3" y1="1012.2" x2="441.9" y2="1012.2" stroke="#262626" stroke-width="1"/>
<line x1="665.8" y1="1012.2" x2="663.2" y2="1012.2" stroke="#262626" stroke-width="1"/>
<text x="433.8" y="1017.2" font-size="14.2" text-anchor="end" stroke="#262626" stroke-width="0.22">26</text>
<line x1="439.3" y1="989.47" x2="441.9" y2="989.47" stroke="#262626" stroke-width="1"/>
<line x1="665.8" y1="989.47" x2="663.2" y2="989.47" stroke="#262626" stroke-width="1"/>
<text x="433.8" y="994.47" font-size="14.2" text-anchor="end" stroke="#262626" stroke-width="0.22">27</text>
<line x1="439.3" y1="966.74" x2="441.9" y2="966.74" stroke="#262626" stroke-width="1"/>
<line x1="665.8" y1="966.74" x2="663.2" y2="966.74" stroke="#262626" stroke-width="1"/>
<text x="433.8" y="971.74" font-size="14.2" text-anchor="end" stroke="#262626" stroke-width="0.22">28</text>
<line x1="439.3" y1="944.01" x2="441.9" y2="944.01" stroke="#262626" stroke-width="1"/>
<line x1="665.8" y1="944.01" x2="663.2" y2="944.01" stroke="#262626" stroke-width="1"/>
<text x="433.8" y="949.01" font-size="14.2" text-anchor="end" stroke="#262626" stroke-width="0.22">29</text>
<line x1="461.6" y1="1111.5" x2="461.6" y2="1108.9" stroke="#262626" stroke-width="1"/>
<line x1="461.6" y1="936.4" x2="461.6" y2="939" stroke="#262626" stroke-width="1"/>
<text x="461.6" y="1131.5" font-size="14.5" text-anchor="middle" stroke="#262626" stroke-width="0.22">1-3</text>
<line x1="461.6" y1="1103.12" x2="461.6" y2="944.01" stroke="#000" stroke-width="1"/>
<rect x="457.9" y="982.65" width="7.4" height="52.28" fill="#000"/>
<circle cx="461.6" cy="1012.2" r="4.5" fill="#fff" stroke="#000" stroke-width="1.4"/>
<circle cx="461.6" cy="1012.2" r="1.35" fill="#000"/>
<line x1="507.2" y1="1111.5" x2="507.2" y2="1108.9" stroke="#262626" stroke-width="1"/>
<line x1="507.2" y1="936.4" x2="507.2" y2="939" stroke="#262626" stroke-width="1"/>
<text x="507.2" y="1131.5" font-size="14.5" text-anchor="middle" stroke="#262626" stroke-width="0.22">2-4</text>
<line x1="507.2" y1="1103.12" x2="507.2" y2="944.01" stroke="#000" stroke-width="1"/>
<rect x="503.5" y="989.47" width="7.4" height="47.73" fill="#000"/>
<circle cx="507.2" cy="1019.02" r="4.5" fill="#fff" stroke="#000" stroke-width="1.4"/>
<circle cx="507.2" cy="1019.02" r="1.35" fill="#000"/>
<line x1="552.8" y1="1111.5" x2="552.8" y2="1108.9" stroke="#262626" stroke-width="1"/>
<line x1="552.8" y1="936.4" x2="552.8" y2="939" stroke="#262626" stroke-width="1"/>
<text x="552.8" y="1131.5" font-size="14.5" text-anchor="middle" stroke="#262626" stroke-width="0.22">3-5</text>
<line x1="552.8" y1="1103.12" x2="552.8" y2="944.01" stroke="#000" stroke-width="1"/>
<rect x="549.1" y="991.74" width="7.4" height="52.28" fill="#000"/>
<circle cx="552.8" cy="1019.02" r="4.5" fill="#fff" stroke="#000" stroke-width="1.4"/>
<circle cx="552.8" cy="1019.02" r="1.35" fill="#000"/>
<line x1="598.4" y1="1111.5" x2="598.4" y2="1108.9" stroke="#262626" stroke-width="1"/>
<line x1="598.4" y1="936.4" x2="598.4" y2="939" stroke="#262626" stroke-width="1"/>
<text x="598.4" y="1131.5" font-size="14.5" text-anchor="middle" stroke="#262626" stroke-width="0.22">4-6</text>
<line x1="598.4" y1="1103.12" x2="598.4" y2="944.01" stroke="#000" stroke-width="1"/>
<rect x="594.7" y="1000.84" width="7.4" height="50.01" fill="#000"/>
<circle cx="598.4" cy="1028.11" r="4.5" fill="#fff" stroke="#000" stroke-width="1.4"/>
<circle cx="598.4" cy="1028.11" r="1.35" fill="#000"/>
<line x1="644" y1="1111.5" x2="644" y2="1108.9" stroke="#262626" stroke-width="1"/>
<line x1="644" y1="936.4" x2="644" y2="939" stroke="#262626" stroke-width="1"/>
<text x="644" y="1131.5" font-size="14.5" text-anchor="middle" stroke="#262626" stroke-width="0.22">5-7</text>
<line x1="644" y1="1103.12" x2="644" y2="944.01" stroke="#000" stroke-width="1"/>
<rect x="640.3" y="1005.38" width="7.4" height="50.01" fill="#000"/>
<circle cx="644" cy="1032.66" r="4.5" fill="#fff" stroke="#000" stroke-width="1.4"/>
<circle cx="644" cy="1032.66" r="1.35" fill="#000"/>
<text x="555.9" y="1152.4" font-size="16.5" text-anchor="middle" stroke="#262626" stroke-width="0.22">Window (days)</text>
<text transform="translate(410.6,1023.8) rotate(-90)" font-size="15.9" text-anchor="middle" stroke="#262626" stroke-width="0.22">Period length (h)</text>
<text x="361.9" y="228.2" font-size="21" font-weight="bold" fill="#000">f</text>
<text x="425.6" y="238.6" font-size="12.2" stroke="#262626" stroke-width="0.22">Log<tspan font-size="8.5" dy="3">2</tspan><tspan dy="-3"> normalized fluorescence</tspan></text>
<linearGradient id="cbar" x1="0" x2="1" y1="0" y2="0"><stop offset="0.0" stop-color="#5e4fa2"/><stop offset="0.12" stop-color="#5b6cad"/><stop offset="0.25" stop-color="#62b1a9"/><stop offset="0.38" stop-color="#b9e0a2"/><stop offset="0.5" stop-color="#ffffbf"/><stop offset="0.62" stop-color="#fdc27c"/><stop offset="0.75" stop-color="#f46d43"/><stop offset="0.87" stop-color="#d53e4f"/><stop offset="1.0" stop-color="#9e0142"/></linearGradient>
<rect x="597.2" y="228" width="86.4" height="11.6" fill="url(#cbar)" stroke="#555" stroke-width="0.8"/>
<line x1="618.8" y1="228" x2="618.8" y2="229.6" stroke="#333" stroke-width="0.8"/>
<line x1="640.3" y1="228" x2="640.3" y2="229.6" stroke="#333" stroke-width="0.8"/>
<line x1="661.6" y1="228" x2="661.6" y2="229.6" stroke="#333" stroke-width="0.8"/>
<text x="595.5" y="226" font-size="11.5" text-anchor="middle" stroke="#262626" stroke-width="0.22">-1</text>
<text x="640.2" y="226" font-size="11.5" text-anchor="middle" stroke="#262626" stroke-width="0.22">0</text>
<text x="682.3" y="226" font-size="11.5" text-anchor="middle" stroke="#262626" stroke-width="0.22">1</text>
<linearGradient id="t0" gradientUnits="userSpaceOnUse" spreadMethod="repeat" x1="0" x2="33" y1="0" y2="0"><stop offset="0.0000" stop-color="#fcb573"/><stop offset="0.0625" stop-color="#fdc37e"/><stop offset="0.1250" stop-color="#fee4a2"/><stop offset="0.1875" stop-color="#e5f3b4"/><stop offset="0.2500" stop-color="#9ed2a4"/><stop offset="0.3125" stop-color="#61a4aa"/><stop offset="0.3750" stop-color="#5b70ad"/><stop offset="0.4375" stop-color="#5c5ea8"/><stop offset="0.5000" stop-color="#5d59a6"/><stop offset="0.5625" stop-color="#5c5ea8"/><stop offset="0.6250" stop-color="#5b70ad"/><stop offset="0.6875" stop-color="#61a4aa"/><stop offset="0.7500" stop-color="#9ed2a4"/><stop offset="0.8125" stop-color="#e5f3b4"/><stop offset="0.8750" stop-color="#fee4a2"/><stop offset="0.9375" stop-color="#fdc37e"/><stop offset="1.0000" stop-color="#fcb573"/></linearGradient>
<linearGradient id="t1" gradientUnits="userSpaceOnUse" spreadMethod="repeat" x1="0" x2="33" y1="0" y2="0"><stop offset="0.0000" stop-color="#f06744"/><stop offset="0.0625" stop-color="#f5784b"/><stop offset="0.1250" stop-color="#fcb573"/><stop offset="0.1875" stop-color="#fffebe"/><stop offset="0.2500" stop-color="#9ed2a4"/><stop offset="0.3125" stop-color="#5e8aab"/><stop offset="0.3750" stop-color="#5d59a6"/><stop offset="0.4375" stop-color="#5e4fa2"/><stop offset="0.5000" stop-color="#5e4fa2"/><stop offset="0.5625" stop-color="#5e4fa2"/><stop offset="0.6250" stop-color="#5d59a6"/><stop offset="0.6875" stop-color="#5e8aab"/><stop offset="0.7500" stop-color="#9ed2a4"/><stop offset="0.8125" stop-color="#fffebe"/><stop offset="0.8750" stop-color="#fcb573"/><stop offset="0.9375" stop-color="#f5784b"/><stop offset="1.0000" stop-color="#f06744"/></linearGradient>
<linearGradient id="t2" gradientUnits="userSpaceOnUse" spreadMethod="repeat" x1="0" x2="33" y1="0" y2="0"><stop offset="0.0000" stop-color="#cd354d"/><stop offset="0.0625" stop-color="#db474d"/><stop offset="0.1250" stop-color="#f57b4c"/><stop offset="0.1875" stop-color="#fee5a3"/><stop offset="0.2500" stop-color="#9ed2a4"/><stop offset="0.3125" stop-color="#5c71ad"/><stop offset="0.3750" stop-color="#5e4fa2"/><stop offset="0.4375" stop-color="#5e4fa2"/><stop offset="0.5000" stop-color="#5e4fa2"/><stop offset="0.5625" stop-color="#5e4fa2"/><stop offset="0.6250" stop-color="#5e4fa2"/><stop offset="0.6875" stop-color="#5c71ad"/><stop offset="0.7500" stop-color="#9ed2a4"/><stop offset="0.8125" stop-color="#fee5a3"/><stop offset="0.8750" stop-color="#f57b4c"/><stop offset="0.9375" stop-color="#db474d"/><stop offset="1.0000" stop-color="#cd354d"/></linearGradient>
<linearGradient id="t3" gradientUnits="userSpaceOnUse" spreadMethod="repeat" x1="0" x2="33" y1="0" y2="0"><stop offset="0.0000" stop-color="#9e0142"/><stop offset="0.0625" stop-color="#ad1246"/><stop offset="0.1250" stop-color="#e3534a"/><stop offset="0.1875" stop-color="#fdcd88"/><stop offset="0.2500" stop-color="#9ed2a4"/><stop offset="0.3125" stop-color="#5c63a9"/><stop offset="0.3750" stop-color="#5e4fa2"/><stop offset="0.4375" stop-color="#5e4fa2"/><stop offset="0.5000" stop-color="#5e4fa2"/><stop offset="0.5625" stop-color="#5e4fa2"/><stop offset="0.6250" stop-color="#5e4fa2"/><stop offset="0.6875" stop-color="#5c63a9"/><stop offset="0.7500" stop-color="#9ed2a4"/><stop offset="0.8125" stop-color="#fdcd88"/><stop offset="0.8750" stop-color="#e3534a"/><stop offset="0.9375" stop-color="#ad1246"/><stop offset="1.0000" stop-color="#9e0142"/></linearGradient>
<linearGradient id="t4" gradientUnits="userSpaceOnUse" spreadMethod="repeat" x1="0" x2="33" y1="0" y2="0"><stop offset="0.0000" stop-color="#9e0142"/><stop offset="0.0625" stop-color="#9e0142"/><stop offset="0.1250" stop-color="#b71d48"/><stop offset="0.1875" stop-color="#faa468"/><stop offset="0.2500" stop-color="#9ed2a4"/><stop offset="0.3125" stop-color="#5e53a3"/><stop offset="0.3750" stop-color="#5e4fa2"/><stop offset="0.4375" stop-color="#5e4fa2"/><stop offset="0.5000" stop-color="#5e4fa2"/><stop offset="0.5625" stop-color="#5e4fa2"/><stop offset="0.6250" stop-color="#5e4fa2"/><stop offset="0.6875" stop-color="#5e53a3"/><stop offset="0.7500" stop-color="#9ed2a4"/><stop offset="0.8125" stop-color="#faa468"/><stop offset="0.8750" stop-color="#b71d48"/><stop offset="0.9375" stop-color="#9e0142"/><stop offset="1.0000" stop-color="#9e0142"/></linearGradient>
<linearGradient id="h0" href="#t3" x1="433.55" x2="466.71"/>
<linearGradient id="h1" href="#t1" x1="434.52" x2="467.48"/>
<linearGradient id="h2" href="#t1" x1="434" x2="466.96"/>
<linearGradient id="h3" href="#t2" x1="432.72" x2="466.23"/>
<linearGradient id="h4" href="#t2" x1="436.38" x2="469.3"/>
<linearGradient id="h5" href="#t3" x1="431.78" x2="464.73"/>
<linearGradient id="h6" href="#t3" x1="425.62" x2="458.39"/>
<linearGradient id="h7" href="#t1" x1="434.11" x2="466.57"/>
<linearGradient id="h8" href="#t3" x1="445.05" x2="477.57"/>
<linearGradient id="h9" href="#t0" x1="447.2" x2="479.73"/>
<linearGradient id="h10" href="#t1" x1="433.87" x2="466.47"/>
<linearGradient id="h11" href="#t1" x1="433.18" x2="465.48"/>
<linearGradient id="h12" href="#t3" x1="431.23" x2="464.01"/>
<linearGradient id="h13" href="#t3" x1="437.91" x2="470.74"/>
<linearGradient id="h14" href="#t2" x1="433.63" x2="466.99"/>
<linearGradient id="h15" href="#t1" x1="434.71" x2="467.87"/>
<linearGradient id="h16" href="#t1" x1="434.97" x2="467.77"/>
<linearGradient id="h17" href="#t0" x1="432.03" x2="464.94"/>
<linearGradient id="h18" href="#t1" x1="430.9" x2="463.67"/>
<linearGradient id="h19" href="#t1" x1="432.67" x2="465.95"/>
<linearGradient id="h20" href="#t2" x1="437.76" x2="470.52"/>
<linearGradient id="h21" href="#t1" x1="437.13" x2="469.65"/>
<linearGradient id="h22" href="#t1" x1="438.82" x2="471.9"/>
<linearGradient id="h23" href="#t0" x1="437.58" x2="470.22"/>
<linearGradient id="h24" href="#t0" x1="432" x2="465.52"/>
<linearGradient id="h25" href="#t3" x1="432.21" x2="464.63"/>
<linearGradient id="h26" href="#t2" x1="433.3" x2="466.52"/>
<linearGradient id="h27" href="#t3" x1="433.24" x2="466"/>
<linearGradient id="h28" href="#t3" x1="432.5" x2="465.77"/>
<linearGradient id="h29" href="#t2" x1="431.68" x2="464.73"/>
<linearGradient id="h30" href="#t3" x1="418.04" x2="450.8"/>
<linearGradient id="h31" href="#t2" x1="418.6" x2="451.99"/>
<linearGradient id="h32" href="#t2" x1="429.79" x2="462.26"/>
<linearGradient id="h33" href="#t3" x1="427.96" x2="460.29"/>
<linearGradient id="h34" href="#t0" x1="435.43" x2="467.82"/>
<linearGradient id="h35" href="#t2" x1="432.73" x2="465.03"/>
<linearGradient id="h36" href="#t2" x1="432.51" x2="465.04"/>
<linearGradient id="h37" href="#t2" x1="435.43" x2="469.19"/>
<linearGradient id="h38" href="#t1" x1="431.01" x2="464.72"/>
<linearGradient id="h39" href="#t1" x1="433.89" x2="466.7"/>
<linearGradient id="h40" href="#t0" x1="438.43" x2="472.78"/>
<linearGradient id="h41" href="#t1" x1="435.35" x2="467.14"/>
<linearGradient id="h42" href="#t2" x1="429.32" x2="462.18"/>
<linearGradient id="h43" href="#t2" x1="433.21" x2="465.72"/>
<linearGradient id="h44" href="#t2" x1="435.01" x2="468.39"/>
<linearGradient id="h45" href="#t1" x1="436.18" x2="470.55"/>
<linearGradient id="h46" href="#t0" x1="433.46" x2="466.24"/>
<linearGradient id="h47" href="#t0" x1="431.85" x2="465.06"/>
<linearGradient id="h48" href="#t2" x1="434.02" x2="467.42"/>
<linearGradient id="h49" href="#t2" x1="432.76" x2="466.49"/>
<linearGradient id="h50" href="#t3" x1="432.39" x2="466.52"/>
<linearGradient id="h51" href="#t1" x1="432.12" x2="465.91"/>
<linearGradient id="h52" href="#t4" x1="431.76" x2="463.85"/>
<linearGradient id="h53" href="#t4" x1="431.63" x2="465.41"/>
<linearGradient id="h54" href="#t4" x1="432.82" x2="466.85"/>
<linearGradient id="h55" href="#t3" x1="432.21" x2="466.05"/>
<linearGradient id="h56" href="#t1" x1="431.86" x2="465.17"/>
<linearGradient id="h57" href="#t2" x1="433" x2="466.35"/>
<linearGradient id="h58" href="#t1" x1="434.96" x2="468.42"/>
<linearGradient id="h59" href="#t2" x1="431.31" x2="464.64"/>
<linearGradient id="h60" href="#t3" x1="431.1" x2="463.71"/>
<linearGradient id="h61" href="#t3" x1="433.17" x2="466.11"/>
<linearGradient id="h62" href="#t0" x1="442.85" x2="476.79"/>
<linearGradient id="h63" href="#t2" x1="440.27" x2="474.95"/>
<linearGradient id="h64" href="#t1" x1="443.09" x2="476.39"/>
<linearGradient id="h65" href="#t3" x1="442.66" x2="476.15"/>
<linearGradient id="h66" href="#t2" x1="438.39" x2="471.82"/>
<linearGradient id="h67" href="#t2" x1="435.98" x2="469.23"/>
<linearGradient id="h68" href="#t3" x1="431.03" x2="462.94"/>
<linearGradient id="h69" href="#t3" x1="429.44" x2="463.04"/>
<linearGradient id="h70" href="#t4" x1="431.13" x2="464.94"/>
<linearGradient id="h71" href="#t4" x1="431.55" x2="464.21"/>
<linearGradient id="h72" href="#t3" x1="435.17" x2="467.55"/>
<linearGradient id="h73" href="#t1" x1="429.02" x2="462.65"/>
<linearGradient id="h74" href="#t3" x1="435.4" x2="468.41"/>
<linearGradient id="h75" href="#t1" x1="435.64" x2="468.41"/>
<linearGradient id="h76" href="#t1" x1="441.31" x2="475.42"/>
<linearGradient id="h77" href="#t3" x1="435.15" x2="469.21"/>
<linearGradient id="h78" href="#t3" x1="440.9" x2="473.7"/>
<linearGradient id="h79" href="#t3" x1="428.34" x2="461.95"/>
<linearGradient id="h80" href="#t4" x1="426.23" x2="459.62"/>
<linearGradient id="h81" href="#t3" x1="428.58" x2="461.76"/>
<linearGradient id="h82" href="#t2" x1="424.41" x2="457.78"/>
<linearGradient id="h83" href="#t2" x1="424.53" x2="458.05"/>
<linearGradient id="h84" href="#t1" x1="412.46" x2="444.51"/>
<linearGradient id="h85" href="#t2" x1="421.84" x2="454.9"/>
<linearGradient id="h86" href="#t2" x1="419.22" x2="452.37"/>
<linearGradient id="h87" href="#t2" x1="431.21" x2="464.32"/>
<linearGradient id="h88" href="#t0" x1="429.6" x2="462.28"/>
<linearGradient id="h89" href="#t2" x1="428.46" x2="460.61"/>
<linearGradient id="h90" href="#t1" x1="432.2" x2="466.87"/>
<linearGradient id="h91" href="#t2" x1="422.72" x2="454.96"/>
<linearGradient id="h92" href="#t1" x1="429.38" x2="463.12"/>
<linearGradient id="h93" href="#t1" x1="424.75" x2="459.48"/>
<linearGradient id="h94" href="#t2" x1="437.65" x2="470.23"/>
<linearGradient id="h95" href="#t2" x1="444.54" x2="478.78"/>
<linearGradient id="h96" href="#t3" x1="432.38" x2="464.99"/>
<linearGradient id="h97" href="#t1" x1="439.94" x2="473.58"/>
<linearGradient id="h98" href="#t0" x1="431.36" x2="465.02"/>
<linearGradient id="h99" href="#t2" x1="428.25" x2="461.69"/>
<linearGradient id="h100" href="#t0" x1="421.84" x2="455.07"/>
<linearGradient id="h101" href="#t0" x1="435.93" x2="469.37"/>
<linearGradient id="h102" href="#t2" x1="427.86" x2="460.91"/>
<linearGradient id="h103" href="#t2" x1="434.39" x2="466.76"/>
<linearGradient id="h104" href="#t1" x1="434.14" x2="467.64"/>
<linearGradient id="h105" href="#t1" x1="435.16" x2="467.88"/>
<linearGradient id="h106" href="#t2" x1="432.8" x2="465.7"/>
<linearGradient id="h107" href="#t4" x1="441.6" x2="475.26"/>
<linearGradient id="h108" href="#t0" x1="431.31" x2="464.78"/>
<linearGradient id="h109" href="#t2" x1="425.56" x2="458.65"/>
<linearGradient id="h110" href="#t4" x1="429.78" x2="463.54"/>
<linearGradient id="h111" href="#t1" x1="424.29" x2="457.02"/>
<linearGradient id="h112" href="#t0" x1="430.81" x2="464.34"/>
<linearGradient id="h113" href="#t3" x1="427.85" x2="460.94"/>
<linearGradient id="h114" href="#t4" x1="431.2" x2="464.64"/>
<linearGradient id="h115" href="#t2" x1="430.55" x2="464.41"/>
<linearGradient id="h116" href="#t3" x1="432.54" x2="466.76"/>
<linearGradient id="h117" href="#t3" x1="426.53" x2="460.08"/>
<linearGradient id="h118" href="#t2" x1="436" x2="469.58"/>
<linearGradient id="h119" href="#t3" x1="447.2" x2="481"/>
<linearGradient id="h120" href="#t3" x1="440.24" x2="474.42"/>
<linearGradient id="h121" href="#t0" x1="438.69" x2="472.57"/>
<linearGradient id="h122" href="#t3" x1="437.45" x2="470.97"/>
<linearGradient id="h123" href="#t4" x1="428.82" x2="462.53"/>
<linearGradient id="h124" href="#t2" x1="435.28" x2="467.65"/>
<linearGradient id="h125" href="#t3" x1="438.31" x2="471.63"/>
<linearGradient id="h126" href="#t2" x1="433.33" x2="467.66"/>
<linearGradient id="h127" href="#t1" x1="429.37" x2="462.89"/>
<linearGradient id="h128" href="#t3" x1="429.02" x2="461.7"/>
<linearGradient id="h129" href="#t2" x1="429.58" x2="464.01"/>
<linearGradient id="h130" href="#t3" x1="427.18" x2="460.22"/>
<linearGradient id="h131" href="#t2" x1="431.62" x2="465.35"/>
<linearGradient id="h132" href="#t2" x1="435.9" x2="469.85"/>
<linearGradient id="h133" href="#t1" x1="424.73" x2="458.22"/>
<linearGradient id="h134" href="#t2" x1="423.45" x2="456.49"/>
<linearGradient id="h135" href="#t2" x1="428.01" x2="460.37"/>
<linearGradient id="h136" href="#t2" x1="421.88" x2="455.2"/>
<linearGradient id="h137" href="#t4" x1="425.41" x2="458.59"/>
<linearGradient id="h138" href="#t4" x1="420.56" x2="453.66"/>
<linearGradient id="h139" href="#t3" x1="426.78" x2="460.05"/>
<linearGradient id="h140" href="#t3" x1="419.94" x2="453.36"/>
<linearGradient id="h141" href="#t0" x1="432.91" x2="466.07"/>
<linearGradient id="h142" href="#t0" x1="431.5" x2="465.36"/>
<linearGradient id="h143" href="#t0" x1="427.84" x2="461.64"/>
<linearGradient id="h144" href="#t1" x1="441.62" x2="476.3"/>
<linearGradient id="h145" href="#t2" x1="441.92" x2="475.02"/>
<linearGradient id="h146" href="#t2" x1="441.73" x2="475.71"/>
<linearGradient id="h147" href="#t1" x1="444.34" x2="478.23"/>
<linearGradient id="h148" href="#t4" x1="430.78" x2="464.54"/>
<linearGradient id="h149" href="#t4" x1="430.21" x2="463.98"/>
<linearGradient id="h150" href="#t2" x1="437.03" x2="470.85"/>
<linearGradient id="h151" href="#t1" x1="428.63" x2="462.95"/>
<linearGradient id="h152" href="#t3" x1="430.11" x2="463.34"/>
<linearGradient id="h153" href="#t4" x1="430.82" x2="464"/>
<linearGradient id="h154" href="#t1" x1="432.25" x2="465.22"/>
<linearGradient id="h155" href="#t1" x1="432.68" x2="465.91"/>
<linearGradient id="h156" href="#t0" x1="423.72" x2="456.29"/>
<linearGradient id="h157" href="#t1" x1="433.33" x2="466.28"/>
<linearGradient id="h158" href="#t2" x1="421.85" x2="455.19"/>
<linearGradient id="h159" href="#t2" x1="422.92" x2="455.83"/>
<linearGradient id="h160" href="#t1" x1="427.37" x2="461.82"/>
<linearGradient id="h161" href="#t0" x1="423.3" x2="456.68"/>
<linearGradient id="h162" href="#t0" x1="432.58" x2="466"/>
<linearGradient id="h163" href="#t3" x1="430.57" x2="464.6"/>
<linearGradient id="h164" href="#t2" x1="422.39" x2="456.12"/>
<linearGradient id="h165" href="#t2" x1="435.37" x2="468.98"/>
<linearGradient id="h166" href="#t0" x1="426.18" x2="459.78"/>
<linearGradient id="h167" href="#t1" x1="426.55" x2="460.48"/>
<linearGradient id="h168" href="#t4" x1="418.17" x2="451.21"/>
<linearGradient id="h169" href="#t3" x1="426.23" x2="459.43"/>
<linearGradient id="h170" href="#t0" x1="419.42" x2="453.4"/>
<linearGradient id="h171" href="#t1" x1="427.33" x2="460.65"/>
<linearGradient id="h172" href="#t3" x1="429.11" x2="463.34"/>
<linearGradient id="h173" href="#t3" x1="422.29" x2="456.61"/>
<linearGradient id="h174" href="#t1" x1="421.84" x2="455.04"/>
<linearGradient id="h175" href="#t1" x1="416.37" x2="450.85"/>
<linearGradient id="h176" href="#t2" x1="416.41" x2="450.89"/>
<linearGradient id="h177" href="#t1" x1="419.95" x2="452.76"/>
<linearGradient id="h178" href="#t1" x1="414.43" x2="448.02"/>
<linearGradient id="h179" href="#t3" x1="424.29" x2="457.61"/>
<linearGradient id="h180" href="#t2" x1="431.67" x2="466.09"/>
<linearGradient id="h181" href="#t4" x1="437.17" x2="469.76"/>
<linearGradient id="h182" href="#t1" x1="419.16" x2="452.02"/>
<linearGradient id="h183" href="#t0" x1="422.15" x2="455.35"/>
<linearGradient id="h184" href="#t2" x1="425.12" x2="458.6"/>
<linearGradient id="h185" href="#t1" x1="410.21" x2="443.89"/>
<linearGradient id="h186" href="#t4" x1="408.86" x2="441.82"/>
<linearGradient id="h187" href="#t3" x1="414.3" x2="448.49"/>
<linearGradient id="h188" href="#t1" x1="421.96" x2="456.15"/>
<linearGradient id="h189" href="#t1" x1="413.44" x2="446.29"/>
<linearGradient id="h190" href="#t4" x1="420.32" x2="453.19"/>
<linearGradient id="h191" href="#t4" x1="421.46" x2="455.76"/>
<linearGradient id="h192" href="#t1" x1="425.3" x2="457.9"/>
<linearGradient id="h193" href="#t4" x1="428.87" x2="462.59"/>
<linearGradient id="h194" href="#t2" x1="431.43" x2="466.08"/>
<linearGradient id="h195" href="#t3" x1="424.82" x2="459.24"/>
<linearGradient id="h196" href="#t3" x1="423.28" x2="457"/>
<linearGradient id="h197" href="#t2" x1="425.13" x2="459.57"/>
<linearGradient id="h198" href="#t1" x1="418.77" x2="452.59"/>
<linearGradient id="h199" href="#t3" x1="419.83" x2="452.73"/>
<linearGradient id="h200" href="#t3" x1="420.88" x2="455.3"/>
<linearGradient id="h201" href="#t3" x1="424.31" x2="457.19"/>
<linearGradient id="h202" href="#t1" x1="426.98" x2="460.15"/>
<linearGradient id="h203" href="#t0" x1="420.86" x2="454.93"/>
<linearGradient id="h204" href="#t2" x1="426" x2="459.81"/>
<linearGradient id="h205" href="#t3" x1="428.68" x2="462.48"/>
<linearGradient id="h206" href="#t3" x1="425.82" x2="460.44"/>
<linearGradient id="h207" href="#t2" x1="420.1" x2="452.6"/>
<linearGradient id="h208" href="#t3" x1="421.91" x2="455.23"/>
<linearGradient id="h209" href="#t1" x1="419.5" x2="453.18"/>
<linearGradient id="h210" href="#t2" x1="423.49" x2="457.27"/>
<linearGradient id="h211" href="#t3" x1="421.72" x2="455.35"/>
<linearGradient id="h212" href="#t2" x1="418.03" x2="451.35"/>
<linearGradient id="h213" href="#t0" x1="419.81" x2="453.05"/>
<linearGradient id="h214" href="#t4" x1="435.53" x2="468.76"/>
<linearGradient id="h215" href="#t2" x1="439.24" x2="474.42"/>
<linearGradient id="h216" href="#t2" x1="439.37" x2="473.11"/>
<linearGradient id="h217" href="#t2" x1="422.18" x2="455.67"/>
<linearGradient id="h218" href="#t2" x1="416.74" x2="450.23"/>
<linearGradient id="h219" href="#t3" x1="412.59" x2="446.33"/>
<linearGradient id="h220" href="#t3" x1="407.97" x2="441.51"/>
<linearGradient id="h221" href="#t2" x1="414.13" x2="448.03"/>
<linearGradient id="h222" href="#t0" x1="413.33" x2="447.13"/>
<linearGradient id="h223" href="#t3" x1="417.99" x2="451.99"/>
<linearGradient id="h224" href="#t2" x1="417.95" x2="451.56"/>
<linearGradient id="h225" href="#t0" x1="419.14" x2="452.19"/>
<linearGradient id="h226" href="#t2" x1="411.08" x2="444.64"/>
<linearGradient id="h227" href="#t2" x1="418.36" x2="452.24"/>
<linearGradient id="h228" href="#t1" x1="416.37" x2="449.7"/>
<linearGradient id="h229" href="#t1" x1="421.95" x2="454.74"/>
<linearGradient id="h230" href="#t2" x1="430.48" x2="463.38"/>
<linearGradient id="h231" href="#t4" x1="422.81" x2="457.24"/>
<linearGradient id="h232" href="#t2" x1="420.2" x2="452.77"/>
<linearGradient id="h233" href="#t2" x1="419.64" x2="452.59"/>
<linearGradient id="h234" href="#t2" x1="417.51" x2="450.52"/>
<linearGradient id="h235" href="#t0" x1="415.97" x2="448.88"/>
<linearGradient id="h236" href="#t4" x1="415.66" x2="450.25"/>
<linearGradient id="h237" href="#t3" x1="420.95" x2="454.67"/>
<linearGradient id="h238" href="#t3" x1="420.54" x2="454.65"/>
<linearGradient id="h239" href="#t3" x1="416.52" x2="448.89"/>
<linearGradient id="h240" href="#t2" x1="409.16" x2="443.18"/>
<linearGradient id="h241" href="#t0" x1="408.56" x2="442.05"/>
<linearGradient id="h242" href="#t3" x1="407.22" x2="440.11"/>
<linearGradient id="h243" href="#t0" x1="410.85" x2="444.49"/>
<linearGradient id="h244" href="#t2" x1="406.13" x2="441.44"/>
<linearGradient id="h245" href="#t3" x1="408.69" x2="441.4"/>
<linearGradient id="h246" href="#t3" x1="413.24" x2="446.81"/>
<linearGradient id="h247" href="#t0" x1="418.41" x2="452.05"/>
<linearGradient id="h248" href="#t4" x1="414.05" x2="447.69"/>
<linearGradient id="h249" href="#t3" x1="417.51" x2="451.66"/>
<linearGradient id="h250" href="#t4" x1="409.01" x2="442.3"/>
<linearGradient id="h251" href="#t0" x1="414.03" x2="446.71"/>
<linearGradient id="h252" href="#t4" x1="412.74" x2="446.08"/>
<linearGradient id="h253" href="#t4" x1="408.37" x2="442.97"/>
<linearGradient id="h254" href="#t4" x1="405.11" x2="438.77"/>
<linearGradient id="h255" href="#t3" x1="400.78" x2="433.72"/>
<linearGradient id="h256" href="#t3" x1="410.45" x2="443.87"/>
<linearGradient id="h257" href="#t1" x1="404.24" x2="437.28"/>
<linearGradient id="h258" href="#t0" x1="414.7" x2="449.05"/>
<linearGradient id="h259" href="#t3" x1="411.59" x2="445.26"/>
<linearGradient id="h260" href="#t2" x1="415.28" x2="449.19"/>
<linearGradient id="h261" href="#t1" x1="416.83" x2="449.93"/>
<linearGradient id="h262" href="#t4" x1="412.93" x2="446.43"/>
<linearGradient id="h263" href="#t2" x1="417.46" x2="451.1"/>
<linearGradient id="h264" href="#t2" x1="418.14" x2="451.87"/>
<linearGradient id="h265" href="#t3" x1="423.4" x2="456.91"/>
<linearGradient id="h266" href="#t1" x1="416.38" x2="450.25"/>
<linearGradient id="h267" href="#t2" x1="421.52" x2="454.86"/>
<linearGradient id="h268" href="#t2" x1="413" x2="447.05"/>
<linearGradient id="h269" href="#t3" x1="410.63" x2="444.07"/>
<linearGradient id="h270" href="#t0" x1="417.44" x2="450.32"/>
<linearGradient id="h271" href="#t2" x1="413.47" x2="445.86"/>
<linearGradient id="h272" href="#t1" x1="414.08" x2="448.42"/>
<linearGradient id="h273" href="#t4" x1="409.75" x2="443.85"/>
<linearGradient id="h274" href="#t1" x1="418.98" x2="452.7"/>
<linearGradient id="h275" href="#t1" x1="407.79" x2="442.6"/>
<linearGradient id="h276" href="#t1" x1="407.25" x2="440.44"/>
<linearGradient id="h277" href="#t1" x1="409.55" x2="442.73"/>
<linearGradient id="h278" href="#t1" x1="405.13" x2="438.47"/>
<linearGradient id="h279" href="#t3" x1="411.81" x2="446.34"/>
<linearGradient id="h280" href="#t4" x1="409.49" x2="443.06"/>
<linearGradient id="h281" href="#t2" x1="404.83" x2="438.25"/>
<linearGradient id="h282" href="#t3" x1="408.19" x2="442.09"/>
<linearGradient id="h283" href="#t1" x1="414.92" x2="449.13"/>
<linearGradient id="h284" href="#t2" x1="401.97" x2="435.07"/>
<linearGradient id="h285" href="#t2" x1="413.87" x2="446.52"/>
<linearGradient id="h286" href="#t1" x1="415.67" x2="449.07"/>
<linearGradient id="h287" href="#t1" x1="417.03" x2="450.96"/>
<linearGradient id="h288" href="#t0" x1="419.26" x2="453.48"/>
<linearGradient id="h289" href="#t1" x1="413.37" x2="446.76"/>
<linearGradient id="h290" href="#t2" x1="415.4" x2="447.82"/>
<linearGradient id="h291" href="#t4" x1="406.87" x2="441.29"/>
<linearGradient id="h292" href="#t3" x1="409.18" x2="442.75"/>
<linearGradient id="h293" href="#t2" x1="409.22" x2="442.82"/>
<linearGradient id="h294" href="#t2" x1="409.96" x2="443.79"/>
<linearGradient id="h295" href="#t1" x1="414.18" x2="447.61"/>
<linearGradient id="h296" href="#t1" x1="412.12" x2="445.1"/>
<linearGradient id="h297" href="#t2" x1="412.82" x2="447.11"/>
<linearGradient id="h298" href="#t1" x1="415.65" x2="449.21"/>
<linearGradient id="h299" href="#t3" x1="412.28" x2="446.5"/>
<linearGradient id="h300" href="#t0" x1="412.37" x2="445.94"/>
<linearGradient id="h301" href="#t4" x1="410.18" x2="443.82"/>
<linearGradient id="h302" href="#t4" x1="409.76" x2="444.02"/>
<linearGradient id="h303" href="#t0" x1="411.76" x2="446.16"/>
<linearGradient id="h304" href="#t2" x1="416.23" x2="449.73"/>
<linearGradient id="h305" href="#t3" x1="417.02" x2="450.44"/>
<linearGradient id="h306" href="#t2" x1="420.99" x2="454.64"/>
<linearGradient id="h307" href="#t4" x1="415.27" x2="448.63"/>
<linearGradient id="h308" href="#t1" x1="421.77" x2="455.36"/>
<linearGradient id="h309" href="#t0" x1="427.78" x2="462.02"/>
<linearGradient id="h310" href="#t0" x1="416.99" x2="449.66"/>
<linearGradient id="h311" href="#t2" x1="418.07" x2="450.9"/>
<linearGradient id="h312" href="#t2" x1="423.55" x2="458.71"/>
<linearGradient id="h313" href="#t3" x1="417.81" x2="450.03"/>
<linearGradient id="h314" href="#t4" x1="414.6" x2="448.87"/>
<linearGradient id="h315" href="#t2" x1="423.82" x2="457.9"/>
<linearGradient id="h316" href="#t4" x1="417.16" x2="450.17"/>
<linearGradient id="h317" href="#t2" x1="419.81" x2="453.55"/>
<linearGradient id="h318" href="#t1" x1="413.4" x2="447.28"/>
<linearGradient id="h319" href="#t2" x1="418.56" x2="453.04"/>
<linearGradient id="h320" href="#t1" x1="409.16" x2="442.86"/>
<linearGradient id="h321" href="#t2" x1="412.67" x2="446.06"/>
<linearGradient id="h322" href="#t1" x1="410.24" x2="443.65"/>
<linearGradient id="h323" href="#t3" x1="419.05" x2="451.68"/>
<linearGradient id="h324" href="#t3" x1="422.71" x2="456.51"/>
<linearGradient id="h325" href="#t2" x1="410.02" x2="443.16"/>
<linearGradient id="h326" href="#t0" x1="422.1" x2="456.02"/>
<linearGradient id="h327" href="#t1" x1="423.81" x2="457.34"/>
<linearGradient id="h328" href="#t1" x1="414.04" x2="447.51"/>
<linearGradient id="h329" href="#t3" x1="419.14" x2="453.14"/>
<linearGradient id="h330" href="#t1" x1="415.38" x2="449.08"/>
<linearGradient id="h331" href="#t3" x1="410.73" x2="444.74"/>
<linearGradient id="h332" href="#t3" x1="415.3" x2="448.22"/>
<linearGradient id="h333" href="#t2" x1="415.76" x2="450.13"/>
<linearGradient id="h334" href="#t1" x1="418.97" x2="452.24"/>
<linearGradient id="h335" href="#t2" x1="419.73" x2="452.89"/>
<linearGradient id="h336" href="#t2" x1="416.97" x2="450.57"/>
<linearGradient id="h337" href="#t0" x1="419.67" x2="453.37"/>
<linearGradient id="h338" href="#t2" x1="412.06" x2="445.95"/>
<linearGradient id="h339" href="#t1" x1="408.37" x2="442.16"/>
<linearGradient id="h340" href="#t2" x1="411.09" x2="444.9"/>
<linearGradient id="h341" href="#t2" x1="414" x2="447.12"/>
<linearGradient id="h342" href="#t0" x1="409.11" x2="442.13"/>
<linearGradient id="h343" href="#t2" x1="414.43" x2="448.13"/>
<linearGradient id="h344" href="#t3" x1="412.46" x2="446.51"/>
<linearGradient id="h345" href="#t1" x1="415.84" x2="449.32"/>
<linearGradient id="h346" href="#t2" x1="409.04" x2="441.79"/>
<linearGradient id="h347" href="#t3" x1="408.21" x2="441.27"/>
<linearGradient id="h348" href="#t4" x1="407.06" x2="440.27"/>
<linearGradient id="h349" href="#t1" x1="410.38" x2="443.86"/>
<linearGradient id="h350" href="#t3" x1="411.66" x2="445.82"/>
<linearGradient id="h351" href="#t1" x1="410.76" x2="444.35"/>
<linearGradient id="h352" href="#t3" x1="408.43" x2="442.37"/>
<linearGradient id="h353" href="#t3" x1="416.15" x2="448.84"/>
<linearGradient id="h354" href="#t1" x1="412.31" x2="445.75"/>
<linearGradient id="h355" href="#t3" x1="407.29" x2="440.98"/>
<linearGradient id="h356" href="#t2" x1="417.96" x2="451.88"/>
<linearGradient id="h357" href="#t4" x1="420.01" x2="453.11"/>
<linearGradient id="h358" href="#t2" x1="425.74" x2="459.47"/>
<linearGradient id="h359" href="#t3" x1="424.24" x2="458.3"/>
<linearGradient id="h360" href="#t2" x1="419.47" x2="453.2"/>
<linearGradient id="h361" href="#t4" x1="417.48" x2="450.87"/>
<linearGradient id="h362" href="#t2" x1="417.93" x2="451.26"/>
<linearGradient id="h363" href="#t2" x1="418.52" x2="451.82"/>
<linearGradient id="h364" href="#t2" x1="415.83" x2="449.67"/>
<linearGradient id="h365" href="#t3" x1="416.74" x2="451.8"/>
<linearGradient id="h366" href="#t3" x1="420.66" x2="454.47"/>
<linearGradient id="h367" href="#t3" x1="417.14" x2="450.61"/>
<linearGradient id="h368" href="#t2" x1="418.31" x2="452.09"/>
<linearGradient id="h369" href="#t2" x1="417.16" x2="451.01"/>
<linearGradient id="h370" href="#t1" x1="415.69" x2="449.72"/>
<linearGradient id="h371" href="#t1" x1="418.62" x2="452.45"/>
<linearGradient id="h372" href="#t2" x1="420.94" x2="454.46"/>
<linearGradient id="h373" href="#t2" x1="433.16" x2="465.77"/>
<linearGradient id="h374" href="#t4" x1="440.26" x2="474.89"/>
<linearGradient id="h375" href="#t4" x1="427.03" x2="459.9"/>
<linearGradient id="h376" href="#t4" x1="419" x2="452.7"/>
<linearGradient id="h377" href="#t2" x1="406.86" x2="441.36"/>
<linearGradient id="h378" href="#t2" x1="418.31" x2="451.58"/>
<linearGradient id="h379" href="#t1" x1="418.19" x2="452.32"/>
<linearGradient id="h380" href="#t0" x1="417.67" x2="452.1"/>
<linearGradient id="h381" href="#t2" x1="422.36" x2="456.24"/>
<linearGradient id="h382" href="#t3" x1="438.06" x2="470.2"/>
<linearGradient id="h383" href="#t1" x1="441.17" x2="475.02"/>
<linearGradient id="h384" href="#t2" x1="432.68" x2="466.53"/>
<linearGradient id="h385" href="#t4" x1="435.09" x2="469.4"/>
<linearGradient id="h386" href="#t2" x1="421.07" x2="455.57"/>
<linearGradient id="h387" href="#t2" x1="419.02" x2="452.59"/>
<linearGradient id="h388" href="#t0" x1="421.34" x2="455.22"/>
<linearGradient id="h389" href="#t2" x1="418.01" x2="451.11"/>
<linearGradient id="h390" href="#t4" x1="422.89" x2="456.87"/>
<linearGradient id="h391" href="#t2" x1="415.01" x2="449.32"/>
<linearGradient id="h392" href="#t4" x1="424" x2="457.26"/>
<linearGradient id="h393" href="#t2" x1="421.32" x2="454.8"/>
<linearGradient id="h394" href="#t3" x1="424.49" x2="457.9"/>
<linearGradient id="h395" href="#t2" x1="424.15" x2="457.52"/>
<linearGradient id="h396" href="#t3" x1="427.35" x2="460.95"/>
<linearGradient id="h397" href="#t0" x1="430.85" x2="464.42"/>
<linearGradient id="h398" href="#t1" x1="426.92" x2="460.63"/>
<linearGradient id="h399" href="#t1" x1="428.95" x2="461.74"/>
<linearGradient id="h400" href="#t3" x1="422.11" x2="454.84"/>
<linearGradient id="h401" href="#t0" x1="421.1" x2="454.65"/>
<linearGradient id="h402" href="#t2" x1="419.88" x2="454.85"/>
<linearGradient id="h403" href="#t4" x1="425.72" x2="459.55"/>
<linearGradient id="h404" href="#t4" x1="427.71" x2="461.07"/>
<linearGradient id="h405" href="#t4" x1="430.94" x2="464.1"/>
<linearGradient id="h406" href="#t3" x1="418.92" x2="452.8"/>
<linearGradient id="h407" href="#t4" x1="420.35" x2="452.87"/>
<linearGradient id="h408" href="#t3" x1="412.86" x2="446.98"/>
<linearGradient id="h409" href="#t4" x1="411.24" x2="444.55"/>
<linearGradient id="h410" href="#t3" x1="424.15" x2="458.42"/>
<linearGradient id="h411" href="#t4" x1="416.85" x2="450.88"/>
<linearGradient id="h412" href="#t3" x1="419.83" x2="453.56"/>
<linearGradient id="h413" href="#t1" x1="416.65" x2="450.66"/>
<linearGradient id="h414" href="#t3" x1="414.08" x2="447.1"/>
<linearGradient id="h415" href="#t2" x1="417.7" x2="451.84"/>
<linearGradient id="h416" href="#t3" x1="417.36" x2="450.35"/>
<linearGradient id="h417" href="#t1" x1="423.89" x2="457.09"/>
<linearGradient id="h418" href="#t0" x1="425.58" x2="459.03"/>
<linearGradient id="h419" href="#t1" x1="417.73" x2="451.94"/>
<linearGradient id="h420" href="#t0" x1="431.09" x2="464.84"/>
<linearGradient id="h421" href="#t2" x1="419.07" x2="452.4"/>
<linearGradient id="h422" href="#t2" x1="413.83" x2="447.77"/>
<linearGradient id="h423" href="#t2" x1="427.69" x2="461.09"/>
<linearGradient id="h424" href="#t2" x1="419.16" x2="452.5"/>
<linearGradient id="h425" href="#t2" x1="421.95" x2="456.04"/>
<linearGradient id="h426" href="#t3" x1="420.55" x2="454.91"/>
<linearGradient id="h427" href="#t3" x1="418.35" x2="452.56"/>
<linearGradient id="h428" href="#t1" x1="424.24" x2="457.94"/>
<linearGradient id="h429" href="#t3" x1="427.51" x2="461.07"/>
<linearGradient id="h430" href="#t1" x1="419.35" x2="453.67"/>
<linearGradient id="h431" href="#t2" x1="416.69" x2="449.94"/>
<linearGradient id="h432" href="#t2" x1="405.47" x2="439.18"/>
<linearGradient id="h433" href="#t0" x1="408.84" x2="442.76"/>
<linearGradient id="h434" href="#t2" x1="412.49" x2="446.79"/>
<linearGradient id="h435" href="#t2" x1="406.34" x2="438.96"/>
<linearGradient id="h436" href="#t2" x1="429.72" x2="463.56"/>
<linearGradient id="h437" href="#t2" x1="426.7" x2="460.22"/>
<linearGradient id="h438" href="#t3" x1="433.05" x2="465.57"/>
<linearGradient id="h439" href="#t1" x1="414.95" x2="449.47"/>
<linearGradient id="h440" href="#t3" x1="420.12" x2="453.5"/>
<linearGradient id="h441" href="#t3" x1="409.86" x2="443.79"/>
<linearGradient id="h442" href="#t1" x1="415.51" x2="448.69"/>
<linearGradient id="h443" href="#t0" x1="422" x2="456.06"/>
<linearGradient id="h444" href="#t1" x1="424.66" x2="457.59"/>
<linearGradient id="h445" href="#t2" x1="413.71" x2="447.82"/>
<linearGradient id="h446" href="#t3" x1="422.14" x2="454.97"/>
<linearGradient id="h447" href="#t1" x1="414.63" x2="448.29"/>
<linearGradient id="h448" href="#t3" x1="420.34" x2="453.75"/>
<linearGradient id="h449" href="#t1" x1="413.62" x2="447.21"/>
<g clip-path="url(#clipH)">
<rect x="410.2" y="247.4" width="272.8" height="1.35" fill="url(#h0)"/>
<rect x="410.2" y="248.4" width="272.8" height="1.35" fill="url(#h1)"/>
<rect x="410.2" y="249.41" width="272.8" height="1.35" fill="url(#h2)"/>
<rect x="410.2" y="250.41" width="145.4" height="1.35" fill="url(#h3)"/>
<rect x="555.2" y="250.41" width="127.8" height="1.35" fill="url(#h4)"/>
<rect x="410.2" y="251.41" width="42.72" height="1.35" fill="url(#h5)"/>
<rect x="452.52" y="251.41" width="230.48" height="1.35" fill="url(#h6)"/>
<rect x="410.2" y="252.41" width="272.8" height="1.35" fill="url(#h7)"/>
<rect x="410.2" y="253.42" width="186.85" height="1.35" fill="url(#h8)"/>
<rect x="596.65" y="253.42" width="86.35" height="1.35" fill="url(#h9)"/>
<rect x="410.2" y="254.42" width="81.18" height="1.35" fill="url(#h10)"/>
<rect x="490.98" y="254.42" width="192.02" height="1.35" fill="url(#h11)"/>
<rect x="410.2" y="255.42" width="272.8" height="1.35" fill="url(#h12)"/>
<rect x="410.2" y="256.43" width="272.8" height="1.35" fill="url(#h13)"/>
<rect x="410.2" y="257.43" width="272.8" height="1.35" fill="url(#h14)"/>
<rect x="410.2" y="258.43" width="200.81" height="1.35" fill="url(#h15)"/>
<rect x="610.61" y="258.43" width="72.39" height="1.35" fill="url(#h16)"/>
<rect x="410.2" y="259.44" width="272.8" height="1.35" fill="url(#h17)"/>
<rect x="410.2" y="260.44" width="272.8" height="1.35" fill="url(#h18)"/>
<rect x="410.2" y="261.44" width="210.75" height="1.35" fill="url(#h19)"/>
<rect x="620.55" y="261.44" width="62.45" height="1.35" fill="url(#h20)"/>
<rect x="410.2" y="262.44" width="110.31" height="1.35" fill="url(#h21)"/>
<rect x="520.11" y="262.44" width="162.89" height="1.35" fill="url(#h22)"/>
<rect x="410.2" y="263.45" width="272.8" height="1.35" fill="url(#h23)"/>
<rect x="410.2" y="264.45" width="116.91" height="1.35" fill="url(#h24)"/>
<rect x="526.71" y="264.45" width="156.29" height="1.35" fill="url(#h25)"/>
<rect x="410.2" y="265.45" width="272.8" height="1.35" fill="url(#h26)"/>
<rect x="410.2" y="266.46" width="272.8" height="1.35" fill="url(#h27)"/>
<rect x="410.2" y="267.46" width="155.59" height="1.35" fill="url(#h28)"/>
<rect x="565.39" y="267.46" width="117.61" height="1.35" fill="url(#h29)"/>
<rect x="410.2" y="268.46" width="255.71" height="1.35" fill="url(#h30)"/>
<rect x="665.51" y="268.46" width="17.49" height="1.35" fill="url(#h31)"/>
<rect x="410.2" y="269.46" width="35.61" height="1.35" fill="url(#h32)"/>
<rect x="445.41" y="269.46" width="237.59" height="1.35" fill="url(#h33)"/>
<rect x="410.2" y="270.47" width="30.43" height="1.35" fill="url(#h34)"/>
<rect x="440.23" y="270.47" width="242.77" height="1.35" fill="url(#h35)"/>
<rect x="410.2" y="271.47" width="163.26" height="1.35" fill="url(#h36)"/>
<rect x="573.06" y="271.47" width="109.94" height="1.35" fill="url(#h37)"/>
<rect x="410.2" y="272.47" width="272.8" height="1.35" fill="url(#h38)"/>
<rect x="410.2" y="273.48" width="162.63" height="1.35" fill="url(#h39)"/>
<rect x="572.43" y="273.48" width="110.57" height="1.35" fill="url(#h40)"/>
<rect x="410.2" y="274.48" width="272.8" height="1.35" fill="url(#h41)"/>
<rect x="410.2" y="275.48" width="272.8" height="1.35" fill="url(#h42)"/>
<rect x="410.2" y="276.48" width="272.8" height="1.35" fill="url(#h43)"/>
<rect x="410.2" y="277.49" width="106" height="1.35" fill="url(#h44)"/>
<rect x="515.8" y="277.49" width="167.2" height="1.35" fill="url(#h45)"/>
<rect x="410.2" y="278.49" width="192.35" height="1.35" fill="url(#h46)"/>
<rect x="602.15" y="278.49" width="80.85" height="1.35" fill="url(#h47)"/>
<rect x="410.2" y="279.49" width="272.8" height="1.35" fill="url(#h48)"/>
<rect x="410.2" y="280.5" width="272.8" height="1.35" fill="url(#h49)"/>
<rect x="410.2" y="281.5" width="272.8" height="1.35" fill="url(#h50)"/>
<rect x="410.2" y="282.5" width="180.27" height="1.35" fill="url(#h51)"/>
<rect x="590.07" y="282.5" width="92.93" height="1.35" fill="url(#h52)"/>
<rect x="410.2" y="283.51" width="272.8" height="1.35" fill="url(#h53)"/>
<rect x="410.2" y="284.51" width="272.8" height="1.35" fill="url(#h54)"/>
<rect x="410.2" y="285.51" width="272.8" height="1.35" fill="url(#h55)"/>
<rect x="410.2" y="286.51" width="272.8" height="1.35" fill="url(#h56)"/>
<rect x="410.2" y="287.52" width="26.24" height="1.35" fill="url(#h57)"/>
<rect x="436.04" y="287.52" width="246.96" height="1.35" fill="url(#h58)"/>
<rect x="410.2" y="288.52" width="65.58" height="1.35" fill="url(#h59)"/>
<rect x="475.38" y="288.52" width="207.62" height="1.35" fill="url(#h60)"/>
<rect x="410.2" y="289.52" width="59" height="1.35" fill="url(#h61)"/>
<rect x="468.8" y="289.52" width="166.17" height="1.35" fill="url(#h62)"/>
<rect x="634.57" y="289.52" width="48.43" height="1.35" fill="url(#h63)"/>
<rect x="410.2" y="290.53" width="108.72" height="1.35" fill="url(#h64)"/>
<rect x="518.52" y="290.53" width="6.49" height="1.35" fill="url(#h65)"/>
<rect x="524.6" y="290.53" width="158.4" height="1.35" fill="url(#h66)"/>
<rect x="410.2" y="291.53" width="116.43" height="1.35" fill="url(#h67)"/>
<rect x="526.23" y="291.53" width="128.18" height="1.35" fill="url(#h68)"/>
<rect x="654" y="291.53" width="29" height="1.35" fill="url(#h69)"/>
<rect x="410.2" y="292.53" width="101.55" height="1.35" fill="url(#h70)"/>
<rect x="511.35" y="292.53" width="118.63" height="1.35" fill="url(#h71)"/>
<rect x="629.58" y="292.53" width="21.61" height="1.35" fill="url(#h72)"/>
<rect x="650.79" y="292.53" width="32.21" height="1.35" fill="url(#h73)"/>
<rect x="410.2" y="293.53" width="126.47" height="1.35" fill="url(#h74)"/>
<rect x="536.27" y="293.53" width="53.99" height="1.35" fill="url(#h75)"/>
<rect x="589.86" y="293.53" width="93.14" height="1.35" fill="url(#h76)"/>
<rect x="410.2" y="294.54" width="64.71" height="1.35" fill="url(#h77)"/>
<rect x="474.51" y="294.54" width="137.55" height="1.35" fill="url(#h78)"/>
<rect x="611.66" y="294.54" width="71.34" height="1.35" fill="url(#h79)"/>
<rect x="410.2" y="295.54" width="19.12" height="1.35" fill="url(#h80)"/>
<rect x="428.92" y="295.54" width="26.35" height="1.35" fill="url(#h81)"/>
<rect x="454.87" y="295.54" width="228.13" height="1.35" fill="url(#h82)"/>
<rect x="410.2" y="296.54" width="71.99" height="1.35" fill="url(#h83)"/>
<rect x="481.79" y="296.54" width="55.96" height="1.35" fill="url(#h84)"/>
<rect x="537.35" y="296.54" width="128.1" height="1.35" fill="url(#h85)"/>
<rect x="665.05" y="296.54" width="17.95" height="1.35" fill="url(#h86)"/>
<rect x="410.2" y="297.55" width="221.86" height="1.35" fill="url(#h87)"/>
<rect x="631.66" y="297.55" width="51.34" height="1.35" fill="url(#h88)"/>
<rect x="410.2" y="298.55" width="52.13" height="1.35" fill="url(#h89)"/>
<rect x="461.93" y="298.55" width="57.06" height="1.35" fill="url(#h90)"/>
<rect x="518.59" y="298.55" width="164.41" height="1.35" fill="url(#h91)"/>
<rect x="410.2" y="299.55" width="139.07" height="1.35" fill="url(#h92)"/>
<rect x="548.87" y="299.55" width="134.13" height="1.35" fill="url(#h93)"/>
<rect x="410.2" y="300.55" width="78.99" height="1.35" fill="url(#h94)"/>
<rect x="488.79" y="300.55" width="129.47" height="1.35" fill="url(#h95)"/>
<rect x="617.86" y="300.55" width="11.19" height="1.35" fill="url(#h96)"/>
<rect x="628.65" y="300.55" width="54.35" height="1.35" fill="url(#h97)"/>
<rect x="410.2" y="301.56" width="15.69" height="1.35" fill="url(#h98)"/>
<rect x="425.49" y="301.56" width="126.19" height="1.35" fill="url(#h99)"/>
<rect x="551.28" y="301.56" width="131.72" height="1.35" fill="url(#h100)"/>
<rect x="410.2" y="302.56" width="20.01" height="1.35" fill="url(#h101)"/>
<rect x="429.81" y="302.56" width="58.61" height="1.35" fill="url(#h102)"/>
<rect x="488.02" y="302.56" width="194.98" height="1.35" fill="url(#h103)"/>
<rect x="410.2" y="303.56" width="68.18" height="1.35" fill="url(#h104)"/>
<rect x="477.98" y="303.56" width="205.02" height="1.35" fill="url(#h105)"/>
<rect x="410.2" y="304.57" width="179.59" height="1.35" fill="url(#h106)"/>
<rect x="589.39" y="304.57" width="42.77" height="1.35" fill="url(#h107)"/>
<rect x="631.77" y="304.57" width="51.23" height="1.35" fill="url(#h108)"/>
<rect x="410.2" y="305.57" width="139.28" height="1.35" fill="url(#h109)"/>
<rect x="549.08" y="305.57" width="98.68" height="1.35" fill="url(#h110)"/>
<rect x="647.36" y="305.57" width="35.64" height="1.35" fill="url(#h111)"/>
<rect x="410.2" y="306.57" width="217.51" height="1.35" fill="url(#h112)"/>
<rect x="627.31" y="306.57" width="55.69" height="1.35" fill="url(#h113)"/>
<rect x="410.2" y="307.58" width="43.93" height="1.35" fill="url(#h114)"/>
<rect x="453.73" y="307.58" width="144.75" height="1.35" fill="url(#h115)"/>
<rect x="598.09" y="307.58" width="40.88" height="1.35" fill="url(#h116)"/>
<rect x="638.57" y="307.58" width="44.43" height="1.35" fill="url(#h117)"/>
<rect x="410.2" y="308.58" width="111.16" height="1.35" fill="url(#h118)"/>
<rect x="520.96" y="308.58" width="61.88" height="1.35" fill="url(#h119)"/>
<rect x="582.44" y="308.58" width="49.13" height="1.35" fill="url(#h120)"/>
<rect x="631.17" y="308.58" width="51.83" height="1.35" fill="url(#h121)"/>
<rect x="410.2" y="309.58" width="48.18" height="1.35" fill="url(#h122)"/>
<rect x="457.98" y="309.58" width="121.43" height="1.35" fill="url(#h123)"/>
<rect x="579.01" y="309.58" width="103.99" height="1.35" fill="url(#h124)"/>
<rect x="410.2" y="310.58" width="76.55" height="1.35" fill="url(#h125)"/>
<rect x="486.35" y="310.58" width="196.65" height="1.35" fill="url(#h126)"/>
<rect x="410.2" y="311.59" width="73.52" height="1.35" fill="url(#h127)"/>
<rect x="483.32" y="311.59" width="199.68" height="1.35" fill="url(#h128)"/>
<rect x="410.2" y="312.59" width="40.31" height="1.35" fill="url(#h129)"/>
<rect x="450.11" y="312.59" width="146.56" height="1.35" fill="url(#h130)"/>
<rect x="596.27" y="312.59" width="36.57" height="1.35" fill="url(#h131)"/>
<rect x="632.44" y="312.59" width="50.56" height="1.35" fill="url(#h132)"/>
<rect x="410.2" y="313.59" width="49.9" height="1.35" fill="url(#h133)"/>
<rect x="459.7" y="313.59" width="16.4" height="1.35" fill="url(#h134)"/>
<rect x="475.71" y="313.59" width="94.43" height="1.35" fill="url(#h135)"/>
<rect x="569.74" y="313.59" width="113.26" height="1.35" fill="url(#h136)"/>
<rect x="410.2" y="314.6" width="123.25" height="1.35" fill="url(#h137)"/>
<rect x="533.05" y="314.6" width="72.06" height="1.35" fill="url(#h138)"/>
<rect x="604.71" y="314.6" width="5.96" height="1.35" fill="url(#h139)"/>
<rect x="610.26" y="314.6" width="72.74" height="1.35" fill="url(#h140)"/>
<rect x="410.2" y="315.6" width="207.24" height="1.35" fill="url(#h141)"/>
<rect x="617.04" y="315.6" width="31.36" height="1.35" fill="url(#h142)"/>
<rect x="648" y="315.6" width="35" height="1.35" fill="url(#h143)"/>
<rect x="410.2" y="316.6" width="169.19" height="1.35" fill="url(#h144)"/>
<rect x="578.99" y="316.6" width="9.36" height="1.35" fill="url(#h145)"/>
<rect x="587.96" y="316.6" width="19.08" height="1.35" fill="url(#h146)"/>
<rect x="606.64" y="316.6" width="76.36" height="1.35" fill="url(#h147)"/>
<rect x="410.2" y="317.6" width="135.36" height="1.35" fill="url(#h148)"/>
<rect x="545.16" y="317.6" width="14.41" height="1.35" fill="url(#h149)"/>
<rect x="559.18" y="317.6" width="123.82" height="1.35" fill="url(#h150)"/>
<rect x="410.2" y="318.61" width="132.04" height="1.35" fill="url(#h151)"/>
<rect x="541.84" y="318.61" width="141.16" height="1.35" fill="url(#h152)"/>
<rect x="410.2" y="319.61" width="32.2" height="1.35" fill="url(#h153)"/>
<rect x="442" y="319.61" width="136.66" height="1.35" fill="url(#h154)"/>
<rect x="578.26" y="319.61" width="104.74" height="1.35" fill="url(#h155)"/>
<rect x="410.2" y="320.61" width="45.8" height="1.35" fill="url(#h156)"/>
<rect x="455.6" y="320.61" width="72.55" height="1.35" fill="url(#h157)"/>
<rect x="527.76" y="320.61" width="89.38" height="1.35" fill="url(#h158)"/>
<rect x="616.73" y="320.61" width="66.27" height="1.35" fill="url(#h159)"/>
<rect x="410.2" y="321.62" width="46.55" height="1.35" fill="url(#h160)"/>
<rect x="456.35" y="321.62" width="27.34" height="1.35" fill="url(#h161)"/>
<rect x="483.29" y="321.62" width="199.71" height="1.35" fill="url(#h162)"/>
<rect x="410.2" y="322.62" width="79.05" height="1.35" fill="url(#h163)"/>
<rect x="488.85" y="322.62" width="138.67" height="1.35" fill="url(#h164)"/>
<rect x="627.12" y="322.62" width="55.88" height="1.35" fill="url(#h165)"/>
<rect x="410.2" y="323.62" width="109.43" height="1.35" fill="url(#h166)"/>
<rect x="519.23" y="323.62" width="146.1" height="1.35" fill="url(#h167)"/>
<rect x="664.93" y="323.62" width="18.07" height="1.35" fill="url(#h168)"/>
<rect x="410.2" y="324.63" width="202.09" height="1.35" fill="url(#h169)"/>
<rect x="611.89" y="324.63" width="6.59" height="1.35" fill="url(#h170)"/>
<rect x="618.08" y="324.63" width="26.17" height="1.35" fill="url(#h171)"/>
<rect x="643.85" y="324.63" width="39.15" height="1.35" fill="url(#h172)"/>
<rect x="410.2" y="325.63" width="122.03" height="1.35" fill="url(#h173)"/>
<rect x="531.83" y="325.63" width="151.17" height="1.35" fill="url(#h174)"/>
<rect x="410.2" y="326.63" width="85.58" height="1.35" fill="url(#h175)"/>
<rect x="495.38" y="326.63" width="187.62" height="1.35" fill="url(#h176)"/>
<rect x="410.2" y="327.63" width="157.9" height="1.35" fill="url(#h177)"/>
<rect x="567.7" y="327.63" width="50.36" height="1.35" fill="url(#h178)"/>
<rect x="617.66" y="327.63" width="65.34" height="1.35" fill="url(#h179)"/>
<rect x="410.2" y="328.64" width="132.62" height="1.35" fill="url(#h180)"/>
<rect x="542.42" y="328.64" width="140.58" height="1.35" fill="url(#h181)"/>
<rect x="410.2" y="329.64" width="76.46" height="1.35" fill="url(#h182)"/>
<rect x="486.26" y="329.64" width="16.56" height="1.35" fill="url(#h183)"/>
<rect x="502.42" y="329.64" width="180.58" height="1.35" fill="url(#h184)"/>
<rect x="410.2" y="330.64" width="22.19" height="1.35" fill="url(#h185)"/>
<rect x="431.99" y="330.64" width="0.71" height="1.35" fill="url(#h186)"/>
<rect x="432.31" y="330.64" width="250.69" height="1.35" fill="url(#h187)"/>
<rect x="410.2" y="331.65" width="127.93" height="1.35" fill="url(#h188)"/>
<rect x="537.73" y="331.65" width="87.29" height="1.35" fill="url(#h189)"/>
<rect x="624.63" y="331.65" width="58.37" height="1.35" fill="url(#h190)"/>
<rect x="410.2" y="332.65" width="129.4" height="1.35" fill="url(#h191)"/>
<rect x="539.2" y="332.65" width="143.8" height="1.35" fill="url(#h192)"/>
<rect x="410.2" y="333.65" width="128.72" height="1.35" fill="url(#h193)"/>
<rect x="538.52" y="333.65" width="37.37" height="1.35" fill="url(#h194)"/>
<rect x="575.49" y="333.65" width="107.51" height="1.35" fill="url(#h195)"/>
<rect x="410.2" y="334.65" width="216.4" height="1.35" fill="url(#h196)"/>
<rect x="626.2" y="334.65" width="56.8" height="1.35" fill="url(#h197)"/>
<rect x="410.2" y="335.66" width="51.23" height="1.35" fill="url(#h198)"/>
<rect x="461.03" y="335.66" width="123.29" height="1.35" fill="url(#h199)"/>
<rect x="583.92" y="335.66" width="99.08" height="1.35" fill="url(#h200)"/>
<rect x="410.2" y="336.66" width="39.85" height="1.35" fill="url(#h201)"/>
<rect x="449.65" y="336.66" width="66.48" height="1.35" fill="url(#h202)"/>
<rect x="515.73" y="336.66" width="167.27" height="1.35" fill="url(#h203)"/>
<rect x="410.2" y="337.66" width="63.46" height="1.35" fill="url(#h204)"/>
<rect x="473.26" y="337.66" width="72.15" height="1.35" fill="url(#h205)"/>
<rect x="545.01" y="337.66" width="77.2" height="1.35" fill="url(#h206)"/>
<rect x="621.81" y="337.66" width="61.19" height="1.35" fill="url(#h207)"/>
<rect x="410.2" y="338.67" width="207.76" height="1.35" fill="url(#h208)"/>
<rect x="617.56" y="338.67" width="11.37" height="1.35" fill="url(#h209)"/>
<rect x="628.54" y="338.67" width="54.46" height="1.35" fill="url(#h210)"/>
<rect x="410.2" y="339.67" width="152.05" height="1.35" fill="url(#h211)"/>
<rect x="561.85" y="339.67" width="16.63" height="1.35" fill="url(#h212)"/>
<rect x="578.09" y="339.67" width="104.91" height="1.35" fill="url(#h213)"/>
<rect x="410.2" y="340.67" width="83.98" height="1.35" fill="url(#h214)"/>
<rect x="493.78" y="340.67" width="41.07" height="1.35" fill="url(#h215)"/>
<rect x="534.45" y="340.67" width="148.55" height="1.35" fill="url(#h216)"/>
<rect x="410.2" y="341.67" width="176.2" height="1.35" fill="url(#h217)"/>
<rect x="586" y="341.67" width="97" height="1.35" fill="url(#h218)"/>
<rect x="410.2" y="342.68" width="69.54" height="1.35" fill="url(#h219)"/>
<rect x="479.34" y="342.68" width="53.75" height="1.35" fill="url(#h220)"/>
<rect x="532.69" y="342.68" width="56.47" height="1.35" fill="url(#h221)"/>
<rect x="588.76" y="342.68" width="94.24" height="1.35" fill="url(#h222)"/>
<rect x="410.2" y="343.68" width="41.99" height="1.35" fill="url(#h223)"/>
<rect x="451.79" y="343.68" width="71.72" height="1.35" fill="url(#h224)"/>
<rect x="523.1" y="343.68" width="129.09" height="1.35" fill="url(#h225)"/>
<rect x="651.79" y="343.68" width="31.21" height="1.35" fill="url(#h226)"/>
<rect x="410.2" y="344.68" width="113.75" height="1.35" fill="url(#h227)"/>
<rect x="523.55" y="344.68" width="159.45" height="1.35" fill="url(#h228)"/>
<rect x="410.2" y="345.69" width="249.1" height="1.35" fill="url(#h229)"/>
<rect x="658.9" y="345.69" width="24.1" height="1.35" fill="url(#h230)"/>
<rect x="410.2" y="346.69" width="74.53" height="1.35" fill="url(#h231)"/>
<rect x="484.33" y="346.69" width="11.33" height="1.35" fill="url(#h232)"/>
<rect x="495.26" y="346.69" width="187.74" height="1.35" fill="url(#h233)"/>
<rect x="410.2" y="347.69" width="180.15" height="1.35" fill="url(#h234)"/>
<rect x="589.95" y="347.69" width="2.58" height="1.35" fill="url(#h235)"/>
<rect x="592.13" y="347.69" width="90.87" height="1.35" fill="url(#h236)"/>
<rect x="410.2" y="348.7" width="175.45" height="1.35" fill="url(#h237)"/>
<rect x="585.25" y="348.7" width="74.17" height="1.35" fill="url(#h238)"/>
<rect x="659.02" y="348.7" width="23.98" height="1.35" fill="url(#h239)"/>
<rect x="410.2" y="349.7" width="208.44" height="1.35" fill="url(#h240)"/>
<rect x="618.24" y="349.7" width="47.33" height="1.35" fill="url(#h241)"/>
<rect x="665.17" y="349.7" width="17.83" height="1.35" fill="url(#h242)"/>
<rect x="410.2" y="350.7" width="46.65" height="1.35" fill="url(#h243)"/>
<rect x="456.45" y="350.7" width="36.98" height="1.35" fill="url(#h244)"/>
<rect x="493.03" y="350.7" width="132.09" height="1.35" fill="url(#h245)"/>
<rect x="624.72" y="350.7" width="58.28" height="1.35" fill="url(#h246)"/>
<rect x="410.2" y="351.7" width="92.32" height="1.35" fill="url(#h247)"/>
<rect x="502.12" y="351.7" width="34.12" height="1.35" fill="url(#h248)"/>
<rect x="535.84" y="351.7" width="25.55" height="1.35" fill="url(#h249)"/>
<rect x="560.99" y="351.7" width="122.01" height="1.35" fill="url(#h250)"/>
<rect x="410.2" y="352.71" width="204.22" height="1.35" fill="url(#h251)"/>
<rect x="614.02" y="352.71" width="68.98" height="1.35" fill="url(#h252)"/>
<rect x="410.2" y="353.71" width="81.11" height="1.35" fill="url(#h253)"/>
<rect x="490.91" y="353.71" width="4.7" height="1.35" fill="url(#h254)"/>
<rect x="495.21" y="353.71" width="187.79" height="1.35" fill="url(#h255)"/>
<rect x="410.2" y="354.71" width="166.19" height="1.35" fill="url(#h256)"/>
<rect x="575.99" y="354.71" width="52.74" height="1.35" fill="url(#h257)"/>
<rect x="628.33" y="354.71" width="10.85" height="1.35" fill="url(#h258)"/>
<rect x="638.78" y="354.71" width="44.22" height="1.35" fill="url(#h259)"/>
<rect x="410.2" y="355.72" width="233.49" height="1.35" fill="url(#h260)"/>
<rect x="643.29" y="355.72" width="39.71" height="1.35" fill="url(#h261)"/>
<rect x="410.2" y="356.72" width="45.75" height="1.35" fill="url(#h262)"/>
<rect x="455.55" y="356.72" width="227.45" height="1.35" fill="url(#h263)"/>
<rect x="410.2" y="357.72" width="120.9" height="1.35" fill="url(#h264)"/>
<rect x="530.7" y="357.72" width="152.3" height="1.35" fill="url(#h265)"/>
<rect x="410.2" y="358.72" width="115.69" height="1.35" fill="url(#h266)"/>
<rect x="525.49" y="358.72" width="157.51" height="1.35" fill="url(#h267)"/>
<rect x="410.2" y="359.73" width="144.38" height="1.35" fill="url(#h268)"/>
<rect x="554.18" y="359.73" width="69.75" height="1.35" fill="url(#h269)"/>
<rect x="623.53" y="359.73" width="59.47" height="1.35" fill="url(#h270)"/>
<rect x="410.2" y="360.73" width="61.89" height="1.35" fill="url(#h271)"/>
<rect x="471.69" y="360.73" width="25.83" height="1.35" fill="url(#h272)"/>
<rect x="497.12" y="360.73" width="185.88" height="1.35" fill="url(#h273)"/>
<rect x="410.2" y="361.73" width="134.36" height="1.35" fill="url(#h274)"/>
<rect x="544.16" y="361.73" width="138.84" height="1.35" fill="url(#h275)"/>
<rect x="410.2" y="362.74" width="87.72" height="1.35" fill="url(#h276)"/>
<rect x="497.52" y="362.74" width="44.56" height="1.35" fill="url(#h277)"/>
<rect x="541.68" y="362.74" width="67.34" height="1.35" fill="url(#h278)"/>
<rect x="608.62" y="362.74" width="74.38" height="1.35" fill="url(#h279)"/>
<rect x="410.2" y="363.74" width="36.9" height="1.35" fill="url(#h280)"/>
<rect x="446.7" y="363.74" width="171.53" height="1.35" fill="url(#h281)"/>
<rect x="617.84" y="363.74" width="65.16" height="1.35" fill="url(#h282)"/>
<rect x="410.2" y="364.74" width="150.71" height="1.35" fill="url(#h283)"/>
<rect x="560.51" y="364.74" width="56.17" height="1.35" fill="url(#h284)"/>
<rect x="616.27" y="364.74" width="66.73" height="1.35" fill="url(#h285)"/>
<rect x="410.2" y="365.75" width="20.1" height="1.35" fill="url(#h286)"/>
<rect x="429.9" y="365.75" width="107.97" height="1.35" fill="url(#h287)"/>
<rect x="537.48" y="365.75" width="26.72" height="1.35" fill="url(#h288)"/>
<rect x="563.8" y="365.75" width="119.2" height="1.35" fill="url(#h289)"/>
<rect x="410.2" y="366.75" width="153.67" height="1.35" fill="url(#h290)"/>
<rect x="563.47" y="366.75" width="45.64" height="1.35" fill="url(#h291)"/>
<rect x="608.72" y="366.75" width="35.94" height="1.35" fill="url(#h292)"/>
<rect x="644.26" y="366.75" width="38.74" height="1.35" fill="url(#h293)"/>
<rect x="410.2" y="367.75" width="84.46" height="1.35" fill="url(#h294)"/>
<rect x="494.26" y="367.75" width="41.7" height="1.35" fill="url(#h295)"/>
<rect x="535.56" y="367.75" width="147.44" height="1.35" fill="url(#h296)"/>
<rect x="410.2" y="368.75" width="92.56" height="1.35" fill="url(#h297)"/>
<rect x="502.36" y="368.75" width="62.26" height="1.35" fill="url(#h298)"/>
<rect x="564.21" y="368.75" width="22.23" height="1.35" fill="url(#h299)"/>
<rect x="586.04" y="368.75" width="96.96" height="1.35" fill="url(#h300)"/>
<rect x="410.2" y="369.76" width="181.08" height="1.35" fill="url(#h301)"/>
<rect x="590.88" y="369.76" width="20.69" height="1.35" fill="url(#h302)"/>
<rect x="611.17" y="369.76" width="71.83" height="1.35" fill="url(#h303)"/>
<rect x="410.2" y="370.76" width="38.21" height="1.35" fill="url(#h304)"/>
<rect x="448.01" y="370.76" width="29.12" height="1.35" fill="url(#h305)"/>
<rect x="476.72" y="370.76" width="86.91" height="1.35" fill="url(#h306)"/>
<rect x="563.23" y="370.76" width="119.77" height="1.35" fill="url(#h307)"/>
<rect x="410.2" y="371.76" width="37.16" height="1.35" fill="url(#h308)"/>
<rect x="446.96" y="371.76" width="236.04" height="1.35" fill="url(#h309)"/>
<rect x="410.2" y="372.77" width="36.45" height="1.35" fill="url(#h310)"/>
<rect x="446.25" y="372.77" width="16.45" height="1.35" fill="url(#h311)"/>
<rect x="462.31" y="372.77" width="79.03" height="1.35" fill="url(#h312)"/>
<rect x="540.94" y="372.77" width="142.06" height="1.35" fill="url(#h313)"/>
<rect x="410.2" y="373.77" width="192.21" height="1.35" fill="url(#h314)"/>
<rect x="602.01" y="373.77" width="10.15" height="1.35" fill="url(#h315)"/>
<rect x="611.76" y="373.77" width="3.67" height="1.35" fill="url(#h316)"/>
<rect x="615.03" y="373.77" width="67.97" height="1.35" fill="url(#h317)"/>
<rect x="410.2" y="374.77" width="85.07" height="1.35" fill="url(#h318)"/>
<rect x="494.87" y="374.77" width="188.13" height="1.35" fill="url(#h319)"/>
<rect x="410.2" y="375.77" width="104.9" height="1.35" fill="url(#h320)"/>
<rect x="514.7" y="375.77" width="69.52" height="1.35" fill="url(#h321)"/>
<rect x="583.83" y="375.77" width="77.62" height="1.35" fill="url(#h322)"/>
<rect x="661.04" y="375.77" width="21.96" height="1.35" fill="url(#h323)"/>
<rect x="410.2" y="376.78" width="78.37" height="1.35" fill="url(#h324)"/>
<rect x="488.17" y="376.78" width="194.83" height="1.35" fill="url(#h325)"/>
<rect x="410.2" y="377.78" width="140.24" height="1.35" fill="url(#h326)"/>
<rect x="550.04" y="377.78" width="132.96" height="1.35" fill="url(#h327)"/>
<rect x="410.2" y="378.78" width="79.79" height="1.35" fill="url(#h328)"/>
<rect x="489.59" y="378.78" width="193.41" height="1.35" fill="url(#h329)"/>
<rect x="410.2" y="379.79" width="180.56" height="1.35" fill="url(#h330)"/>
<rect x="590.36" y="379.79" width="92.64" height="1.35" fill="url(#h331)"/>
<rect x="410.2" y="380.79" width="251.74" height="1.35" fill="url(#h332)"/>
<rect x="661.54" y="380.79" width="21.46" height="1.35" fill="url(#h333)"/>
<rect x="410.2" y="381.79" width="54.77" height="1.35" fill="url(#h334)"/>
<rect x="464.57" y="381.79" width="34.17" height="1.35" fill="url(#h335)"/>
<rect x="498.35" y="381.79" width="9.67" height="1.35" fill="url(#h336)"/>
<rect x="507.62" y="381.79" width="175.38" height="1.35" fill="url(#h337)"/>
<rect x="410.2" y="382.79" width="16.55" height="1.35" fill="url(#h338)"/>
<rect x="426.35" y="382.79" width="238.98" height="1.35" fill="url(#h339)"/>
<rect x="664.93" y="382.79" width="18.07" height="1.35" fill="url(#h340)"/>
<rect x="410.2" y="383.8" width="111.23" height="1.35" fill="url(#h341)"/>
<rect x="521.03" y="383.8" width="33.5" height="1.35" fill="url(#h342)"/>
<rect x="554.13" y="383.8" width="128.87" height="1.35" fill="url(#h343)"/>
<rect x="410.2" y="384.8" width="217.36" height="1.35" fill="url(#h344)"/>
<rect x="627.16" y="384.8" width="55.84" height="1.35" fill="url(#h345)"/>
<rect x="410.2" y="385.8" width="115.81" height="1.35" fill="url(#h346)"/>
<rect x="525.61" y="385.8" width="34.11" height="1.35" fill="url(#h347)"/>
<rect x="559.32" y="385.8" width="19.38" height="1.35" fill="url(#h348)"/>
<rect x="578.3" y="385.8" width="104.7" height="1.35" fill="url(#h349)"/>
<rect x="410.2" y="386.81" width="98.14" height="1.35" fill="url(#h350)"/>
<rect x="507.94" y="386.81" width="5.6" height="1.35" fill="url(#h351)"/>
<rect x="513.13" y="386.81" width="150.59" height="1.35" fill="url(#h352)"/>
<rect x="663.32" y="386.81" width="19.68" height="1.35" fill="url(#h353)"/>
<rect x="410.2" y="387.81" width="64.8" height="1.35" fill="url(#h354)"/>
<rect x="474.6" y="387.81" width="208.4" height="1.35" fill="url(#h355)"/>
<rect x="410.2" y="388.81" width="108.34" height="1.35" fill="url(#h356)"/>
<rect x="518.14" y="388.81" width="127.47" height="1.35" fill="url(#h357)"/>
<rect x="645.21" y="388.81" width="19.09" height="1.35" fill="url(#h358)"/>
<rect x="663.9" y="388.81" width="19.1" height="1.35" fill="url(#h359)"/>
<rect x="410.2" y="389.82" width="19.94" height="1.35" fill="url(#h360)"/>
<rect x="429.74" y="389.82" width="110.77" height="1.35" fill="url(#h361)"/>
<rect x="540.11" y="389.82" width="113.93" height="1.35" fill="url(#h362)"/>
<rect x="653.64" y="389.82" width="29.36" height="1.35" fill="url(#h363)"/>
<rect x="410.2" y="390.82" width="20.5" height="1.35" fill="url(#h364)"/>
<rect x="430.3" y="390.82" width="252.7" height="1.35" fill="url(#h365)"/>
<rect x="410.2" y="391.82" width="96.15" height="1.35" fill="url(#h366)"/>
<rect x="505.95" y="391.82" width="177.05" height="1.35" fill="url(#h367)"/>
<rect x="410.2" y="392.82" width="130.31" height="1.35" fill="url(#h368)"/>
<rect x="540.11" y="392.82" width="142.89" height="1.35" fill="url(#h369)"/>
<rect x="410.2" y="393.83" width="87.52" height="1.35" fill="url(#h370)"/>
<rect x="497.32" y="393.83" width="116.1" height="1.35" fill="url(#h371)"/>
<rect x="613.02" y="393.83" width="69.98" height="1.35" fill="url(#h372)"/>
<rect x="410.2" y="394.83" width="121.54" height="1.35" fill="url(#h373)"/>
<rect x="531.34" y="394.83" width="31.88" height="1.35" fill="url(#h374)"/>
<rect x="562.81" y="394.83" width="120.19" height="1.35" fill="url(#h375)"/>
<rect x="410.2" y="395.83" width="144.16" height="1.35" fill="url(#h376)"/>
<rect x="553.96" y="395.83" width="41.93" height="1.35" fill="url(#h377)"/>
<rect x="595.49" y="395.83" width="87.51" height="1.35" fill="url(#h378)"/>
<rect x="410.2" y="396.84" width="149.17" height="1.35" fill="url(#h379)"/>
<rect x="558.97" y="396.84" width="88.87" height="1.35" fill="url(#h380)"/>
<rect x="647.44" y="396.84" width="35.56" height="1.35" fill="url(#h381)"/>
<rect x="410.2" y="397.84" width="141.18" height="1.35" fill="url(#h382)"/>
<rect x="550.98" y="397.84" width="40.22" height="1.35" fill="url(#h383)"/>
<rect x="590.8" y="397.84" width="30.34" height="1.35" fill="url(#h384)"/>
<rect x="620.74" y="397.84" width="62.26" height="1.35" fill="url(#h385)"/>
<rect x="410.2" y="398.84" width="113.93" height="1.35" fill="url(#h386)"/>
<rect x="523.73" y="398.84" width="106.51" height="1.35" fill="url(#h387)"/>
<rect x="629.85" y="398.84" width="53.15" height="1.35" fill="url(#h388)"/>
<rect x="410.2" y="399.84" width="21.1" height="1.35" fill="url(#h389)"/>
<rect x="430.9" y="399.84" width="184.24" height="1.35" fill="url(#h390)"/>
<rect x="614.73" y="399.84" width="68.27" height="1.35" fill="url(#h391)"/>
<rect x="410.2" y="400.85" width="178.95" height="1.35" fill="url(#h392)"/>
<rect x="588.75" y="400.85" width="94.25" height="1.35" fill="url(#h393)"/>
<rect x="410.2" y="401.85" width="43.7" height="1.35" fill="url(#h394)"/>
<rect x="453.5" y="401.85" width="12.84" height="1.35" fill="url(#h395)"/>
<rect x="465.95" y="401.85" width="84.47" height="1.35" fill="url(#h396)"/>
<rect x="550.01" y="401.85" width="132.99" height="1.35" fill="url(#h397)"/>
<rect x="410.2" y="402.85" width="33.96" height="1.35" fill="url(#h398)"/>
<rect x="443.76" y="402.85" width="120.86" height="1.35" fill="url(#h399)"/>
<rect x="564.21" y="402.85" width="34.02" height="1.35" fill="url(#h400)"/>
<rect x="597.83" y="402.85" width="85.17" height="1.35" fill="url(#h401)"/>
<rect x="410.2" y="403.86" width="253.18" height="1.35" fill="url(#h402)"/>
<rect x="662.98" y="403.86" width="20.02" height="1.35" fill="url(#h403)"/>
<rect x="410.2" y="404.86" width="34.03" height="1.35" fill="url(#h404)"/>
<rect x="443.83" y="404.86" width="239.17" height="1.35" fill="url(#h405)"/>
<rect x="410.2" y="405.86" width="32.35" height="1.35" fill="url(#h406)"/>
<rect x="442.15" y="405.86" width="18.74" height="1.35" fill="url(#h407)"/>
<rect x="460.49" y="405.86" width="29.84" height="1.35" fill="url(#h408)"/>
<rect x="489.93" y="405.86" width="193.07" height="1.35" fill="url(#h409)"/>
<rect x="410.2" y="406.86" width="156.63" height="1.35" fill="url(#h410)"/>
<rect x="566.43" y="406.86" width="16.47" height="1.35" fill="url(#h411)"/>
<rect x="582.49" y="406.86" width="100.51" height="1.35" fill="url(#h412)"/>
<rect x="410.2" y="407.87" width="159.81" height="1.35" fill="url(#h413)"/>
<rect x="569.61" y="407.87" width="4.11" height="1.35" fill="url(#h414)"/>
<rect x="573.33" y="407.87" width="83.32" height="1.35" fill="url(#h415)"/>
<rect x="656.25" y="407.87" width="26.75" height="1.35" fill="url(#h416)"/>
<rect x="410.2" y="408.87" width="49.37" height="1.35" fill="url(#h417)"/>
<rect x="459.17" y="408.87" width="143.5" height="1.35" fill="url(#h418)"/>
<rect x="602.26" y="408.87" width="26.71" height="1.35" fill="url(#h419)"/>
<rect x="628.57" y="408.87" width="54.43" height="1.35" fill="url(#h420)"/>
<rect x="410.2" y="409.87" width="28.52" height="1.35" fill="url(#h421)"/>
<rect x="438.32" y="409.87" width="34.88" height="1.35" fill="url(#h422)"/>
<rect x="472.8" y="409.87" width="210.2" height="1.35" fill="url(#h423)"/>
<rect x="410.2" y="410.88" width="74.96" height="1.35" fill="url(#h424)"/>
<rect x="484.76" y="410.88" width="70.72" height="1.35" fill="url(#h425)"/>
<rect x="555.08" y="410.88" width="73.83" height="1.35" fill="url(#h426)"/>
<rect x="628.51" y="410.88" width="54.49" height="1.35" fill="url(#h427)"/>
<rect x="410.2" y="411.88" width="105.69" height="1.35" fill="url(#h428)"/>
<rect x="515.49" y="411.88" width="100.34" height="1.35" fill="url(#h429)"/>
<rect x="615.43" y="411.88" width="67.57" height="1.35" fill="url(#h430)"/>
<rect x="410.2" y="412.88" width="69.83" height="1.35" fill="url(#h431)"/>
<rect x="479.63" y="412.88" width="203.37" height="1.35" fill="url(#h432)"/>
<rect x="410.2" y="413.89" width="62.49" height="1.35" fill="url(#h433)"/>
<rect x="472.29" y="413.89" width="149.55" height="1.35" fill="url(#h434)"/>
<rect x="621.44" y="413.89" width="61.56" height="1.35" fill="url(#h435)"/>
<rect x="410.2" y="414.89" width="18.81" height="1.35" fill="url(#h436)"/>
<rect x="428.61" y="414.89" width="151.08" height="1.35" fill="url(#h437)"/>
<rect x="579.28" y="414.89" width="103.72" height="1.35" fill="url(#h438)"/>
<rect x="410.2" y="415.89" width="30.12" height="1.35" fill="url(#h439)"/>
<rect x="439.92" y="415.89" width="79.28" height="1.35" fill="url(#h440)"/>
<rect x="518.79" y="415.89" width="98.65" height="1.35" fill="url(#h441)"/>
<rect x="617.04" y="415.89" width="65.96" height="1.35" fill="url(#h442)"/>
<rect x="410.2" y="416.89" width="73.72" height="1.35" fill="url(#h443)"/>
<rect x="483.52" y="416.89" width="29.96" height="1.35" fill="url(#h444)"/>
<rect x="513.08" y="416.89" width="100.2" height="1.35" fill="url(#h445)"/>
<rect x="612.88" y="416.89" width="70.12" height="1.35" fill="url(#h446)"/>
<rect x="410.2" y="417.9" width="103.78" height="1.35" fill="url(#h447)"/>
<rect x="513.58" y="417.9" width="57.32" height="1.35" fill="url(#h448)"/>
<rect x="570.5" y="417.9" width="112.5" height="1.35" fill="url(#h449)"/>
<rect x="460.54" y="248.9" width="188.17" height="0.6" fill="#fff" opacity="0.26"/>
<rect x="451.88" y="251.33" width="230.72" height="0.6" fill="#fff" opacity="0.29"/>
<rect x="440.62" y="254.12" width="207.39" height="0.6" fill="#fff" opacity="0.36"/>
<rect x="410.2" y="256.9" width="272.4" height="0.6" fill="#fff" opacity="0.40"/>
<rect x="451.11" y="262.3" width="194.24" height="0.6" fill="#fff" opacity="0.38"/>
<rect x="410.2" y="266.01" width="272.4" height="0.6" fill="#fff" opacity="0.22"/>
<rect x="439.17" y="269.61" width="243.43" height="0.6" fill="#fff" opacity="0.21"/>
<rect x="410.2" y="273.64" width="221.9" height="0.6" fill="#fff" opacity="0.26"/>
<rect x="436.56" y="278.48" width="195.23" height="0.6" fill="#fff" opacity="0.33"/>
<rect x="417.83" y="281.38" width="264.77" height="0.6" fill="#fff" opacity="0.38"/>
<rect x="410.2" y="286.52" width="245.04" height="0.6" fill="#fff" opacity="0.33"/>
<rect x="441.7" y="290.13" width="226.79" height="0.6" fill="#fff" opacity="0.36"/>
<rect x="410.2" y="294.35" width="272.4" height="0.6" fill="#fff" opacity="0.32"/>
<rect x="410.2" y="297.37" width="271.31" height="0.6" fill="#fff" opacity="0.25"/>
<rect x="410.2" y="300.09" width="270.32" height="0.6" fill="#fff" opacity="0.35"/>
<rect x="410.2" y="305.37" width="272.4" height="0.6" fill="#fff" opacity="0.35"/>
<rect x="410.2" y="310.64" width="272.4" height="0.6" fill="#fff" opacity="0.35"/>
<rect x="447.2" y="313.22" width="183.02" height="0.6" fill="#fff" opacity="0.19"/>
<rect x="430.77" y="315.85" width="251.83" height="0.6" fill="#fff" opacity="0.18"/>
<rect x="410.2" y="320.78" width="215.29" height="0.6" fill="#fff" opacity="0.33"/>
<rect x="410.2" y="323.41" width="249.36" height="0.6" fill="#fff" opacity="0.23"/>
<rect x="432.93" y="326.88" width="249.67" height="0.6" fill="#fff" opacity="0.28"/>
<rect x="410.2" y="330.8" width="272.4" height="0.6" fill="#fff" opacity="0.20"/>
<rect x="410.2" y="335.43" width="272.4" height="0.6" fill="#fff" opacity="0.27"/>
<rect x="410.2" y="340.67" width="241.91" height="0.6" fill="#fff" opacity="0.27"/>
<rect x="410.2" y="345.15" width="272.4" height="0.6" fill="#fff" opacity="0.28"/>
<rect x="434.96" y="347.52" width="198.83" height="0.6" fill="#fff" opacity="0.31"/>
<rect x="442.37" y="350.28" width="240.23" height="0.6" fill="#fff" opacity="0.34"/>
<rect x="444.43" y="354.6" width="234.26" height="0.6" fill="#fff" opacity="0.35"/>
<rect x="410.2" y="358.94" width="272.4" height="0.6" fill="#fff" opacity="0.24"/>
<rect x="430.6" y="361.23" width="252" height="0.6" fill="#fff" opacity="0.26"/>
<rect x="431.72" y="363.59" width="250.88" height="0.6" fill="#fff" opacity="0.22"/>
<rect x="454.7" y="366.38" width="227.9" height="0.6" fill="#fff" opacity="0.29"/>
<rect x="410.2" y="368.76" width="272.4" height="0.6" fill="#fff" opacity="0.25"/>
<rect x="420.29" y="370.99" width="238.31" height="0.6" fill="#fff" opacity="0.25"/>
<rect x="416.93" y="376.21" width="265.67" height="0.6" fill="#fff" opacity="0.38"/>
<rect x="410.2" y="379.17" width="231.87" height="0.6" fill="#fff" opacity="0.25"/>
<rect x="410.2" y="382.21" width="272.4" height="0.6" fill="#fff" opacity="0.33"/>
<rect x="410.2" y="386.58" width="245.97" height="0.6" fill="#fff" opacity="0.32"/>
<rect x="410.2" y="389.2" width="272.4" height="0.6" fill="#fff" opacity="0.35"/>
<rect x="410.2" y="394.59" width="272.4" height="0.6" fill="#fff" opacity="0.26"/>
<rect x="410.2" y="399.83" width="272.4" height="0.6" fill="#fff" opacity="0.24"/>
<rect x="410.2" y="403.6" width="272.4" height="0.6" fill="#fff" opacity="0.38"/>
<rect x="410.2" y="407.31" width="259.77" height="0.6" fill="#fff" opacity="0.22"/>
<rect x="410.2" y="410.12" width="231.99" height="0.6" fill="#fff" opacity="0.37"/>
<rect x="424.98" y="415.36" width="256.75" height="0.6" fill="#fff" opacity="0.33"/>
</g>
<rect x="410.2" y="247.4" width="272.4" height="171.5" fill="none" stroke="#262626" stroke-width="1"/>
<line x1="410.2" y1="289.1" x2="412.8" y2="289.1" stroke="#262626" stroke-width="1"/>
<line x1="682.6" y1="289.1" x2="680" y2="289.1" stroke="#262626" stroke-width="1"/>
<text x="405.9" y="293.7" font-size="13" text-anchor="end" stroke="#262626" stroke-width="0.22">100</text>
<line x1="410.2" y1="329.3" x2="412.8" y2="329.3" stroke="#262626" stroke-width="1"/>
<line x1="682.6" y1="329.3" x2="680" y2="329.3" stroke="#262626" stroke-width="1"/>
<text x="405.9" y="333.9" font-size="13" text-anchor="end" stroke="#262626" stroke-width="0.22">200</text>
<line x1="410.2" y1="369.5" x2="412.8" y2="369.5" stroke="#262626" stroke-width="1"/>
<line x1="682.6" y1="369.5" x2="680" y2="369.5" stroke="#262626" stroke-width="1"/>
<text x="405.9" y="374.1" font-size="13" text-anchor="end" stroke="#262626" stroke-width="0.22">300</text>
<line x1="410.2" y1="409.7" x2="412.8" y2="409.7" stroke="#262626" stroke-width="1"/>
<line x1="682.6" y1="409.7" x2="680" y2="409.7" stroke="#262626" stroke-width="1"/>
<text x="405.9" y="414.3" font-size="13" text-anchor="end" stroke="#262626" stroke-width="0.22">400</text>
<line x1="470.58" y1="418.9" x2="470.58" y2="416.3" stroke="#262626" stroke-width="1"/>
<line x1="470.58" y1="247.4" x2="470.58" y2="250" stroke="#262626" stroke-width="1"/>
<text x="470.58" y="436.4" font-size="13" text-anchor="middle" stroke="#262626" stroke-width="0.22">48</text>
<line x1="530.97" y1="418.9" x2="530.97" y2="416.3" stroke="#262626" stroke-width="1"/>
<line x1="530.97" y1="247.4" x2="530.97" y2="250" stroke="#262626" stroke-width="1"/>
<text x="530.97" y="436.4" font-size="13" text-anchor="middle" stroke="#262626" stroke-width="0.22">96</text>
<line x1="591.35" y1="418.9" x2="591.35" y2="416.3" stroke="#262626" stroke-width="1"/>
<line x1="591.35" y1="247.4" x2="591.35" y2="250" stroke="#262626" stroke-width="1"/>
<text x="591.35" y="436.4" font-size="13" text-anchor="middle" stroke="#262626" stroke-width="0.22">144</text>
<line x1="651.74" y1="418.9" x2="651.74" y2="416.3" stroke="#262626" stroke-width="1"/>
<line x1="651.74" y1="247.4" x2="651.74" y2="250" stroke="#262626" stroke-width="1"/>
<text x="651.74" y="436.4" font-size="13" text-anchor="middle" stroke="#262626" stroke-width="0.22">192</text>
<text x="546.2" y="454" font-size="15.3" text-anchor="middle" stroke="#262626" stroke-width="0.22">Time (h)</text>
<text transform="translate(377,336) rotate(-90)" font-size="14.5" text-anchor="middle" stroke="#262626" stroke-width="0.22">Cell #</text>
</svg>
</body></html>
